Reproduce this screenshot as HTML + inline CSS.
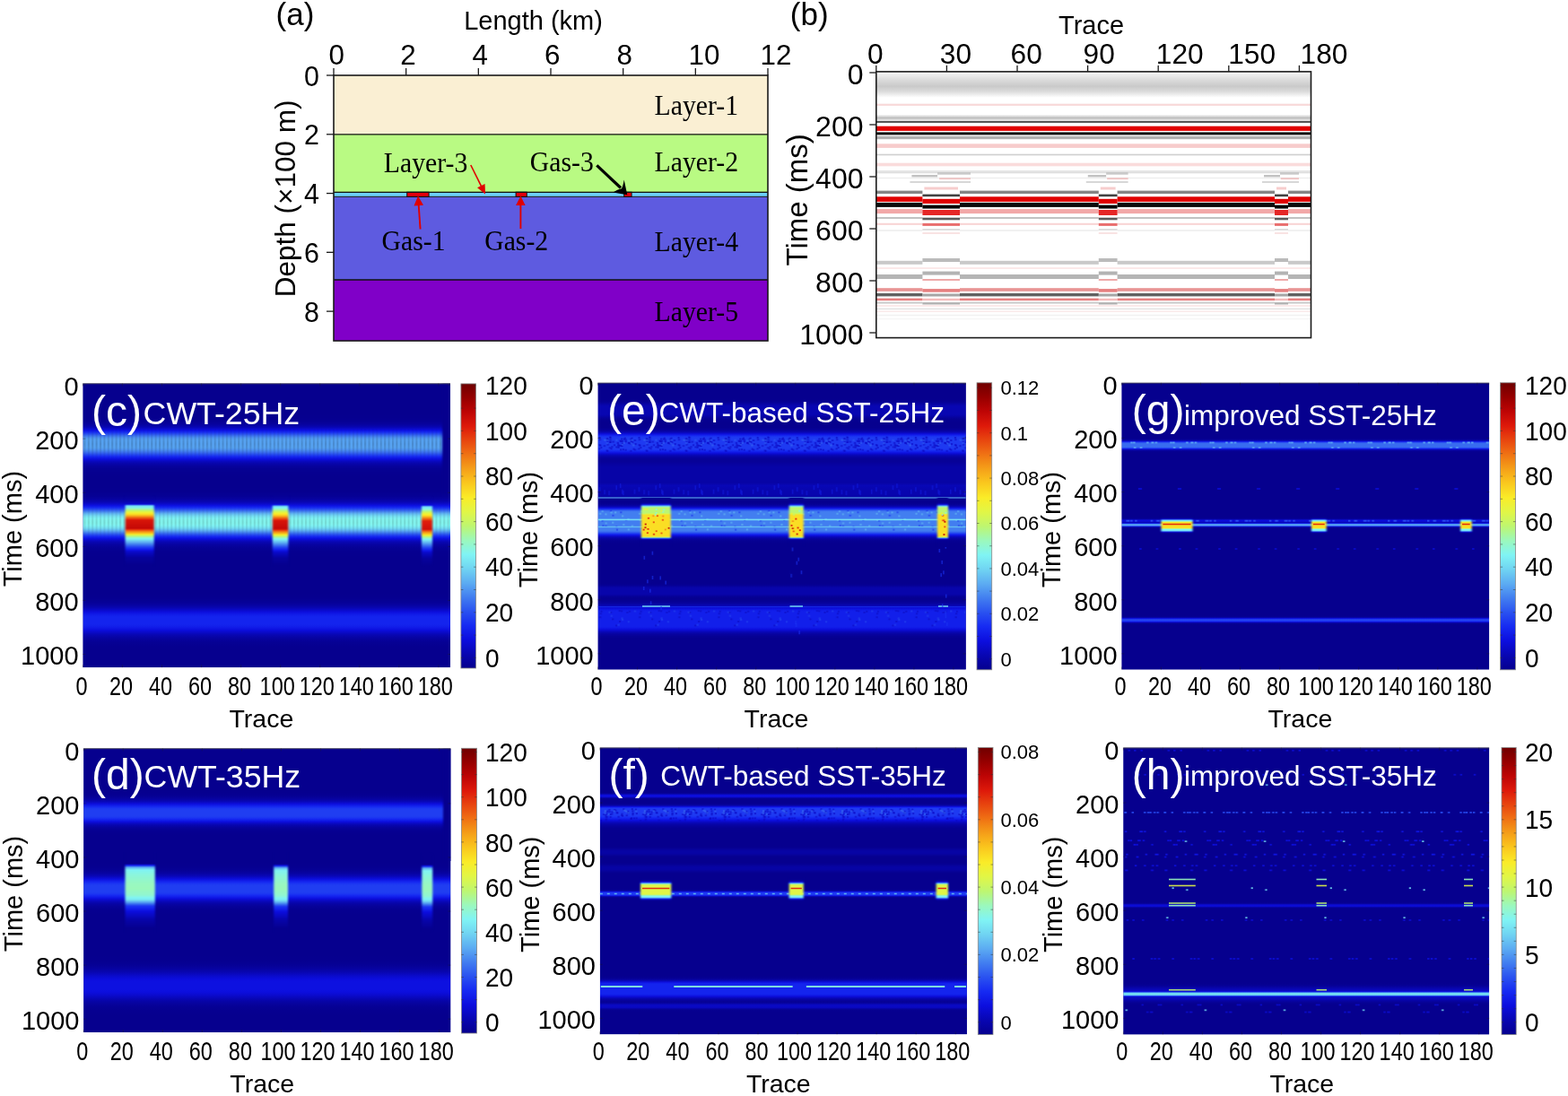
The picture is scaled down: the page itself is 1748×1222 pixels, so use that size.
<!DOCTYPE html>
<html><head><meta charset="utf-8"><title>Figure</title>
<style>html,body{margin:0;padding:0;background:#fff;overflow:hidden}svg{display:block}</style>
</head><body>
<svg width="1748" height="1222" viewBox="0 0 1748 1222">
<defs><clipPath id="clip1"><rect x="976.80" y="79.90" width="484.70" height="296.70"/></clipPath>
<filter id="f2" x="-5%" y="-5%" width="110%" height="110%" color-interpolation-filters="sRGB"><feGaussianBlur stdDeviation="0.6 0.7"/></filter>
<linearGradient id="vg3" x1="0" y1="0" x2="0" y2="1"><stop offset="0.0000" stop-color="#888888" stop-opacity="0.080"/><stop offset="0.2500" stop-color="#888888" stop-opacity="0.280"/><stop offset="0.5500" stop-color="#888888" stop-opacity="0.450"/><stop offset="0.7500" stop-color="#888888" stop-opacity="0.300"/><stop offset="1.0000" stop-color="#888888" stop-opacity="0.000"/></linearGradient>
<linearGradient id="vg4" x1="0" y1="0" x2="0" y2="1"><stop offset="0.0000" stop-color="#909090" stop-opacity="0.000"/><stop offset="0.5000" stop-color="#909090" stop-opacity="0.600"/><stop offset="1.0000" stop-color="#909090" stop-opacity="0.000"/></linearGradient>
<filter id="hb5" x="-50%" y="-10%" width="200%" height="120%" color-interpolation-filters="sRGB"><feGaussianBlur stdDeviation="1.00 0.01"/></filter>
<filter id="hb6" x="-50%" y="-10%" width="200%" height="120%" color-interpolation-filters="sRGB"><feGaussianBlur stdDeviation="0.70 0.01"/></filter>
<filter id="hb7" x="-50%" y="-10%" width="200%" height="120%" color-interpolation-filters="sRGB"><feGaussianBlur stdDeviation="2.00 0.01"/></filter>
<filter id="bl8" x="-50%" y="-50%" width="200%" height="200%" color-interpolation-filters="sRGB"><feGaussianBlur stdDeviation="0.60"/></filter>
<filter id="bl9" x="-50%" y="-50%" width="200%" height="200%" color-interpolation-filters="sRGB"><feGaussianBlur stdDeviation="1.00"/></filter>
<filter id="bl10" x="-50%" y="-50%" width="200%" height="200%" color-interpolation-filters="sRGB"><feGaussianBlur stdDeviation="0.45"/></filter>
<clipPath id="hc11"><rect x="92.40" y="427.50" width="409.60" height="316.70"/></clipPath>
<linearGradient id="vg12" x1="0" y1="0" x2="0" y2="1"><stop offset="0.0000" stop-color="#06008e"/><stop offset="0.1104" stop-color="#06008e"/><stop offset="0.1136" stop-color="#06008f"/><stop offset="0.1199" stop-color="#06008f"/><stop offset="0.1230" stop-color="#060090"/><stop offset="0.1262" stop-color="#060091"/><stop offset="0.1293" stop-color="#060192"/><stop offset="0.1325" stop-color="#060194"/><stop offset="0.1356" stop-color="#060196"/><stop offset="0.1388" stop-color="#070299"/><stop offset="0.1420" stop-color="#07029c"/><stop offset="0.1451" stop-color="#0703a1"/><stop offset="0.1483" stop-color="#0704a7"/><stop offset="0.1514" stop-color="#0805ae"/><stop offset="0.1546" stop-color="#0807b7"/><stop offset="0.1577" stop-color="#0a09c3"/><stop offset="0.1609" stop-color="#0b0cd1"/><stop offset="0.1640" stop-color="#0c0fdf"/><stop offset="0.1672" stop-color="#101ae7"/><stop offset="0.1703" stop-color="#1426ef"/><stop offset="0.1735" stop-color="#1c35f1"/><stop offset="0.1767" stop-color="#2447f1"/><stop offset="0.1798" stop-color="#2e58f0"/><stop offset="0.1830" stop-color="#376bf0"/><stop offset="0.1861" stop-color="#407bf0"/><stop offset="0.1893" stop-color="#498af1"/><stop offset="0.1924" stop-color="#4f96f1"/><stop offset="0.1956" stop-color="#549ef1"/><stop offset="0.1987" stop-color="#56a2f2"/><stop offset="0.2019" stop-color="#57a3f2"/><stop offset="0.2240" stop-color="#57a3f2"/><stop offset="0.2271" stop-color="#55a0f1"/><stop offset="0.2303" stop-color="#529af1"/><stop offset="0.2334" stop-color="#4d92f1"/><stop offset="0.2366" stop-color="#4787f0"/><stop offset="0.2397" stop-color="#407bf0"/><stop offset="0.2429" stop-color="#396df0"/><stop offset="0.2461" stop-color="#315ef0"/><stop offset="0.2492" stop-color="#284ff0"/><stop offset="0.2524" stop-color="#2140f1"/><stop offset="0.2555" stop-color="#1a31f2"/><stop offset="0.2587" stop-color="#1425ee"/><stop offset="0.2618" stop-color="#111be7"/><stop offset="0.2650" stop-color="#0d12e1"/><stop offset="0.2681" stop-color="#0b0dd7"/><stop offset="0.2713" stop-color="#0a0aca"/><stop offset="0.2744" stop-color="#0908bf"/><stop offset="0.2776" stop-color="#0807b6"/><stop offset="0.2808" stop-color="#0805ae"/><stop offset="0.2839" stop-color="#0704a8"/><stop offset="0.2871" stop-color="#0703a3"/><stop offset="0.2902" stop-color="#07039e"/><stop offset="0.2934" stop-color="#07029b"/><stop offset="0.2965" stop-color="#070298"/><stop offset="0.2997" stop-color="#060196"/><stop offset="0.3028" stop-color="#060194"/><stop offset="0.3060" stop-color="#060192"/><stop offset="0.3091" stop-color="#060191"/><stop offset="0.3123" stop-color="#060090"/><stop offset="0.3155" stop-color="#060090"/><stop offset="0.3186" stop-color="#06008f"/><stop offset="0.3249" stop-color="#06008f"/><stop offset="0.3281" stop-color="#06008e"/><stop offset="0.3659" stop-color="#06008e"/><stop offset="0.3691" stop-color="#06008f"/><stop offset="0.3785" stop-color="#06008f"/><stop offset="0.3817" stop-color="#060090"/><stop offset="0.3849" stop-color="#060091"/><stop offset="0.3880" stop-color="#060192"/><stop offset="0.3912" stop-color="#060193"/><stop offset="0.3943" stop-color="#060194"/><stop offset="0.3975" stop-color="#060196"/><stop offset="0.4006" stop-color="#070299"/><stop offset="0.4038" stop-color="#07029c"/><stop offset="0.4069" stop-color="#0703a0"/><stop offset="0.4101" stop-color="#0704a5"/><stop offset="0.4132" stop-color="#0805aa"/><stop offset="0.4164" stop-color="#0806b1"/><stop offset="0.4196" stop-color="#0907ba"/><stop offset="0.4227" stop-color="#0a09c5"/><stop offset="0.4259" stop-color="#0b0cd1"/><stop offset="0.4290" stop-color="#0c0fdf"/><stop offset="0.4322" stop-color="#1019e6"/><stop offset="0.4353" stop-color="#1424ee"/><stop offset="0.4385" stop-color="#1a32f2"/><stop offset="0.4416" stop-color="#2344f1"/><stop offset="0.4448" stop-color="#2d57f0"/><stop offset="0.4479" stop-color="#386cf0"/><stop offset="0.4511" stop-color="#4482f0"/><stop offset="0.4543" stop-color="#5199f1"/><stop offset="0.4574" stop-color="#5daef2"/><stop offset="0.4606" stop-color="#66c0f2"/><stop offset="0.4637" stop-color="#6ed0f2"/><stop offset="0.4669" stop-color="#74ddf3"/><stop offset="0.4700" stop-color="#79e7f3"/><stop offset="0.4732" stop-color="#7deef4"/><stop offset="0.4763" stop-color="#80f4f4"/><stop offset="0.4795" stop-color="#82f4ef"/><stop offset="0.4826" stop-color="#83f4ee"/><stop offset="0.4921" stop-color="#83f4ee"/><stop offset="0.4953" stop-color="#83f4ef"/><stop offset="0.4984" stop-color="#81f4f3"/><stop offset="0.5016" stop-color="#7ef0f4"/><stop offset="0.5047" stop-color="#7be9f3"/><stop offset="0.5079" stop-color="#76e0f3"/><stop offset="0.5110" stop-color="#70d5f2"/><stop offset="0.5142" stop-color="#68c5f2"/><stop offset="0.5174" stop-color="#60b3f2"/><stop offset="0.5205" stop-color="#559ff1"/><stop offset="0.5237" stop-color="#4889f0"/><stop offset="0.5268" stop-color="#3c73f0"/><stop offset="0.5300" stop-color="#305df0"/><stop offset="0.5331" stop-color="#2649f0"/><stop offset="0.5363" stop-color="#1d37f1"/><stop offset="0.5394" stop-color="#1527f0"/><stop offset="0.5426" stop-color="#111ce8"/><stop offset="0.5457" stop-color="#0d12e1"/><stop offset="0.5489" stop-color="#0b0cd5"/><stop offset="0.5521" stop-color="#0a0ac8"/><stop offset="0.5552" stop-color="#0908bd"/><stop offset="0.5584" stop-color="#0806b3"/><stop offset="0.5615" stop-color="#0805ac"/><stop offset="0.5647" stop-color="#0704a6"/><stop offset="0.5678" stop-color="#0703a1"/><stop offset="0.5710" stop-color="#07039d"/><stop offset="0.5741" stop-color="#07029a"/><stop offset="0.5773" stop-color="#070297"/><stop offset="0.5804" stop-color="#060195"/><stop offset="0.5836" stop-color="#060193"/><stop offset="0.5868" stop-color="#060192"/><stop offset="0.5899" stop-color="#060091"/><stop offset="0.5931" stop-color="#060090"/><stop offset="0.5962" stop-color="#060090"/><stop offset="0.5994" stop-color="#06008f"/><stop offset="0.6057" stop-color="#06008f"/><stop offset="0.6088" stop-color="#06008e"/><stop offset="0.7413" stop-color="#06008e"/><stop offset="0.7445" stop-color="#06008f"/><stop offset="0.7508" stop-color="#06008f"/><stop offset="0.7539" stop-color="#060090"/><stop offset="0.7571" stop-color="#060091"/><stop offset="0.7603" stop-color="#060192"/><stop offset="0.7634" stop-color="#060193"/><stop offset="0.7666" stop-color="#060195"/><stop offset="0.7697" stop-color="#060197"/><stop offset="0.7729" stop-color="#070299"/><stop offset="0.7760" stop-color="#07029d"/><stop offset="0.7792" stop-color="#0703a0"/><stop offset="0.7823" stop-color="#0704a5"/><stop offset="0.7855" stop-color="#0805aa"/><stop offset="0.7886" stop-color="#0806b0"/><stop offset="0.7918" stop-color="#0907b8"/><stop offset="0.7950" stop-color="#0909c1"/><stop offset="0.7981" stop-color="#0a0aca"/><stop offset="0.8013" stop-color="#0b0cd3"/><stop offset="0.8044" stop-color="#0c0edc"/><stop offset="0.8076" stop-color="#0e13e1"/><stop offset="0.8107" stop-color="#0f18e5"/><stop offset="0.8139" stop-color="#111ce8"/><stop offset="0.8170" stop-color="#1220eb"/><stop offset="0.8202" stop-color="#1323ed"/><stop offset="0.8233" stop-color="#1424ee"/><stop offset="0.8454" stop-color="#1424ee"/><stop offset="0.8486" stop-color="#1424ed"/><stop offset="0.8517" stop-color="#1322ec"/><stop offset="0.8549" stop-color="#121fea"/><stop offset="0.8580" stop-color="#111ce8"/><stop offset="0.8612" stop-color="#1018e5"/><stop offset="0.8644" stop-color="#0e14e2"/><stop offset="0.8675" stop-color="#0c0fdf"/><stop offset="0.8707" stop-color="#0b0dd7"/><stop offset="0.8738" stop-color="#0b0bcf"/><stop offset="0.8770" stop-color="#0a0ac7"/><stop offset="0.8801" stop-color="#0908bf"/><stop offset="0.8833" stop-color="#0807b7"/><stop offset="0.8864" stop-color="#0806b0"/><stop offset="0.8896" stop-color="#0805ab"/><stop offset="0.8927" stop-color="#0704a6"/><stop offset="0.8959" stop-color="#0703a2"/><stop offset="0.8991" stop-color="#07039e"/><stop offset="0.9022" stop-color="#07029b"/><stop offset="0.9054" stop-color="#070298"/><stop offset="0.9085" stop-color="#060196"/><stop offset="0.9117" stop-color="#060194"/><stop offset="0.9148" stop-color="#060193"/><stop offset="0.9180" stop-color="#060192"/><stop offset="0.9211" stop-color="#060091"/><stop offset="0.9243" stop-color="#060090"/><stop offset="0.9274" stop-color="#06008f"/><stop offset="0.9369" stop-color="#06008f"/><stop offset="0.9401" stop-color="#06008e"/><stop offset="1.0000" stop-color="#06008e"/></linearGradient>
<linearGradient id="vg13" x1="0" y1="0" x2="0" y2="1"><stop offset="0.0000" stop-color="#000" stop-opacity="0.000"/><stop offset="0.5000" stop-color="#000" stop-opacity="0.160"/><stop offset="1.0000" stop-color="#000" stop-opacity="0.000"/></linearGradient>
<pattern id="pt14" patternUnits="userSpaceOnUse" x="93.400" y="478.000" width="4.405" height="34.000"><rect x="0" y="0" width="2.000" height="34.000" fill="url(#vg13)"/></pattern>
<linearGradient id="vg15" x1="0" y1="0" x2="0" y2="1"><stop offset="0.0000" stop-color="#000" stop-opacity="0.000"/><stop offset="0.5000" stop-color="#000" stop-opacity="0.110"/><stop offset="1.0000" stop-color="#000" stop-opacity="0.000"/></linearGradient>
<pattern id="pt16" patternUnits="userSpaceOnUse" x="93.400" y="564.000" width="4.405" height="37.000"><rect x="0" y="0" width="2.000" height="37.000" fill="url(#vg15)"/></pattern>
<linearGradient id="vg17" x1="0" y1="0" x2="0" y2="1"><stop offset="0.0000" stop-color="#06008e"/><stop offset="0.8788" stop-color="#06008e"/><stop offset="0.8864" stop-color="#06008f"/><stop offset="0.9015" stop-color="#06008f"/><stop offset="0.9091" stop-color="#060090"/><stop offset="0.9167" stop-color="#060090"/><stop offset="0.9242" stop-color="#060191"/><stop offset="0.9318" stop-color="#060192"/><stop offset="0.9394" stop-color="#060194"/><stop offset="0.9470" stop-color="#060196"/><stop offset="0.9545" stop-color="#070298"/><stop offset="0.9621" stop-color="#07029b"/><stop offset="0.9697" stop-color="#07039e"/><stop offset="0.9773" stop-color="#0703a3"/><stop offset="0.9848" stop-color="#0704a8"/><stop offset="0.9924" stop-color="#0805ae"/><stop offset="1.0000" stop-color="#0807b6"/></linearGradient>
<linearGradient id="vg18" x1="0" y1="0" x2="0" y2="1"><stop offset="0.0000" stop-color="#060194"/><stop offset="0.0125" stop-color="#060196"/><stop offset="0.0250" stop-color="#070298"/><stop offset="0.0375" stop-color="#07029b"/><stop offset="0.0500" stop-color="#07039e"/><stop offset="0.0625" stop-color="#0703a3"/><stop offset="0.0750" stop-color="#0704a8"/><stop offset="0.0875" stop-color="#0805ae"/><stop offset="0.1000" stop-color="#0807b6"/><stop offset="0.1125" stop-color="#0909c1"/><stop offset="0.1250" stop-color="#0a0bcd"/><stop offset="0.1375" stop-color="#3260f0"/><stop offset="0.1500" stop-color="#73daf2"/><stop offset="0.1625" stop-color="#7cecf4"/><stop offset="0.1750" stop-color="#88f5e3"/><stop offset="0.1875" stop-color="#97f7c4"/><stop offset="0.2000" stop-color="#a9f79e"/><stop offset="0.2125" stop-color="#bef670"/><stop offset="0.2250" stop-color="#d3f657"/><stop offset="0.2375" stop-color="#e6f440"/><stop offset="0.2500" stop-color="#f3ef30"/><stop offset="0.2625" stop-color="#fae225"/><stop offset="0.2750" stop-color="#facf20"/><stop offset="0.2875" stop-color="#f7b01b"/><stop offset="0.3000" stop-color="#f38e17"/><stop offset="0.3125" stop-color="#ee6a13"/><stop offset="0.3250" stop-color="#e94c10"/><stop offset="0.3375" stop-color="#e32e0c"/><stop offset="0.3500" stop-color="#d81509"/><stop offset="0.3625" stop-color="#d51409"/><stop offset="0.3750" stop-color="#d31208"/><stop offset="0.3875" stop-color="#d11108"/><stop offset="0.4000" stop-color="#cf1008"/><stop offset="0.4125" stop-color="#cd0e07"/><stop offset="0.4250" stop-color="#cb0d07"/><stop offset="0.4375" stop-color="#c90c07"/><stop offset="0.4500" stop-color="#c70a06"/><stop offset="0.4625" stop-color="#c40906"/><stop offset="0.4750" stop-color="#df1f0b"/><stop offset="0.4875" stop-color="#e9490f"/><stop offset="0.5000" stop-color="#f07314"/><stop offset="0.5125" stop-color="#f49418"/><stop offset="0.5250" stop-color="#f7b31b"/><stop offset="0.5375" stop-color="#facf20"/><stop offset="0.5500" stop-color="#f0f034"/><stop offset="0.5625" stop-color="#ccf65f"/><stop offset="0.5750" stop-color="#b5f784"/><stop offset="0.5875" stop-color="#9df8b7"/><stop offset="0.6000" stop-color="#8bf6de"/><stop offset="0.6125" stop-color="#7ef0f4"/><stop offset="0.6250" stop-color="#75dff3"/><stop offset="0.6375" stop-color="#6cccf2"/><stop offset="0.6500" stop-color="#63b9f2"/><stop offset="0.6625" stop-color="#59a6f2"/><stop offset="0.6750" stop-color="#4c90f1"/><stop offset="0.6875" stop-color="#417cf0"/><stop offset="0.7000" stop-color="#3668f0"/><stop offset="0.7125" stop-color="#2b54f0"/><stop offset="0.7250" stop-color="#2242f1"/><stop offset="0.7375" stop-color="#1a32f2"/><stop offset="0.7500" stop-color="#1424ee"/><stop offset="0.7625" stop-color="#1019e6"/><stop offset="0.7750" stop-color="#0c0ede"/><stop offset="0.7875" stop-color="#0a0bcc"/><stop offset="0.8000" stop-color="#0a09c5"/><stop offset="0.8125" stop-color="#0908bd"/><stop offset="0.8250" stop-color="#0807b6"/><stop offset="0.8375" stop-color="#0805af"/><stop offset="0.8500" stop-color="#0704a9"/><stop offset="0.8625" stop-color="#0703a3"/><stop offset="0.8750" stop-color="#07029c"/><stop offset="0.8875" stop-color="#07029b"/><stop offset="0.9000" stop-color="#070299"/><stop offset="0.9125" stop-color="#060297"/><stop offset="0.9250" stop-color="#060195"/><stop offset="0.9375" stop-color="#060193"/><stop offset="0.9500" stop-color="#060192"/><stop offset="0.9625" stop-color="#060090"/><stop offset="0.9750" stop-color="#06008e"/><stop offset="1.0000" stop-color="#06008e"/></linearGradient>
<linearGradient id="vg19" x1="0" y1="0" x2="0" y2="1"><stop offset="0.0000" stop-color="#060194"/><stop offset="0.0125" stop-color="#060196"/><stop offset="0.0250" stop-color="#070298"/><stop offset="0.0375" stop-color="#07029b"/><stop offset="0.0500" stop-color="#07039e"/><stop offset="0.0625" stop-color="#0703a3"/><stop offset="0.0750" stop-color="#0704a8"/><stop offset="0.0875" stop-color="#0805ae"/><stop offset="0.1000" stop-color="#0807b6"/><stop offset="0.1125" stop-color="#0909c1"/><stop offset="0.1250" stop-color="#0a0bcd"/><stop offset="0.1375" stop-color="#1527f0"/><stop offset="0.1500" stop-color="#56a1f2"/><stop offset="0.1625" stop-color="#78e3f3"/><stop offset="0.1750" stop-color="#81f4f3"/><stop offset="0.1875" stop-color="#90f6d4"/><stop offset="0.2000" stop-color="#9ff8b3"/><stop offset="0.2125" stop-color="#b4f787"/><stop offset="0.2250" stop-color="#c8f663"/><stop offset="0.2375" stop-color="#def64a"/><stop offset="0.2500" stop-color="#edf138"/><stop offset="0.2625" stop-color="#faec28"/><stop offset="0.2750" stop-color="#fad923"/><stop offset="0.2875" stop-color="#f9c01d"/><stop offset="0.3000" stop-color="#f5a019"/><stop offset="0.3125" stop-color="#f17c15"/><stop offset="0.3250" stop-color="#ec5b11"/><stop offset="0.3375" stop-color="#e63d0e"/><stop offset="0.3500" stop-color="#df1f0b"/><stop offset="0.3625" stop-color="#d71409"/><stop offset="0.3750" stop-color="#d41308"/><stop offset="0.3875" stop-color="#d21208"/><stop offset="0.4000" stop-color="#d01008"/><stop offset="0.4125" stop-color="#ce0f08"/><stop offset="0.4250" stop-color="#cc0e07"/><stop offset="0.4375" stop-color="#ca0c07"/><stop offset="0.4500" stop-color="#c80b06"/><stop offset="0.4625" stop-color="#c50a06"/><stop offset="0.4750" stop-color="#d31208"/><stop offset="0.4875" stop-color="#e4340d"/><stop offset="0.5000" stop-color="#ec5e12"/><stop offset="0.5125" stop-color="#f28316"/><stop offset="0.5250" stop-color="#f6a419"/><stop offset="0.5375" stop-color="#f9c11d"/><stop offset="0.5500" stop-color="#fae526"/><stop offset="0.5625" stop-color="#e1f646"/><stop offset="0.5750" stop-color="#c0f66d"/><stop offset="0.5875" stop-color="#a9f79e"/><stop offset="0.6000" stop-color="#94f7cb"/><stop offset="0.6125" stop-color="#84f5ed"/><stop offset="0.6250" stop-color="#7ae7f3"/><stop offset="0.6375" stop-color="#71d6f2"/><stop offset="0.6500" stop-color="#67c3f2"/><stop offset="0.6625" stop-color="#5eb0f2"/><stop offset="0.6750" stop-color="#529bf1"/><stop offset="0.6875" stop-color="#4786f0"/><stop offset="0.7000" stop-color="#3b72f0"/><stop offset="0.7125" stop-color="#315ef0"/><stop offset="0.7250" stop-color="#264bf0"/><stop offset="0.7375" stop-color="#1e3af1"/><stop offset="0.7500" stop-color="#162af2"/><stop offset="0.7625" stop-color="#121fea"/><stop offset="0.7750" stop-color="#0e14e2"/><stop offset="0.7875" stop-color="#0b0cd5"/><stop offset="0.8000" stop-color="#0a0ac9"/><stop offset="0.8125" stop-color="#0909c1"/><stop offset="0.8250" stop-color="#0907ba"/><stop offset="0.8375" stop-color="#0806b2"/><stop offset="0.8500" stop-color="#0805ac"/><stop offset="0.8625" stop-color="#0704a6"/><stop offset="0.8750" stop-color="#07039f"/><stop offset="0.8875" stop-color="#07029c"/><stop offset="0.9000" stop-color="#07029a"/><stop offset="0.9125" stop-color="#070298"/><stop offset="0.9250" stop-color="#060196"/><stop offset="0.9375" stop-color="#060194"/><stop offset="0.9500" stop-color="#060192"/><stop offset="0.9625" stop-color="#060091"/><stop offset="0.9750" stop-color="#06008f"/><stop offset="0.9875" stop-color="#06008e"/><stop offset="1.0000" stop-color="#06008e"/></linearGradient>
<linearGradient id="vg20" x1="0" y1="0" x2="0" y2="1"><stop offset="0.0000" stop-color="#060194"/><stop offset="0.0125" stop-color="#060196"/><stop offset="0.0250" stop-color="#070298"/><stop offset="0.0375" stop-color="#07029b"/><stop offset="0.0500" stop-color="#07039e"/><stop offset="0.0625" stop-color="#0703a3"/><stop offset="0.0750" stop-color="#0704a8"/><stop offset="0.0875" stop-color="#0805ae"/><stop offset="0.1000" stop-color="#0807b6"/><stop offset="0.1125" stop-color="#0909c1"/><stop offset="0.1250" stop-color="#0a0bcd"/><stop offset="0.1375" stop-color="#0c0dda"/><stop offset="0.1500" stop-color="#305cf0"/><stop offset="0.1625" stop-color="#71d6f2"/><stop offset="0.1750" stop-color="#7ae7f3"/><stop offset="0.1875" stop-color="#84f5ec"/><stop offset="0.2000" stop-color="#92f7ce"/><stop offset="0.2125" stop-color="#a2f8ac"/><stop offset="0.2250" stop-color="#b7f67f"/><stop offset="0.2375" stop-color="#ccf660"/><stop offset="0.2500" stop-color="#e0f647"/><stop offset="0.2625" stop-color="#edf137"/><stop offset="0.2750" stop-color="#faeb28"/><stop offset="0.2875" stop-color="#fad823"/><stop offset="0.3000" stop-color="#f8bb1c"/><stop offset="0.3125" stop-color="#f49b18"/><stop offset="0.3250" stop-color="#f17815"/><stop offset="0.3375" stop-color="#ec5a11"/><stop offset="0.3500" stop-color="#e63d0e"/><stop offset="0.3625" stop-color="#df1f0b"/><stop offset="0.3750" stop-color="#df1d0a"/><stop offset="0.3875" stop-color="#de1a0a"/><stop offset="0.4000" stop-color="#dc180a"/><stop offset="0.4125" stop-color="#da1709"/><stop offset="0.4250" stop-color="#d81509"/><stop offset="0.4375" stop-color="#d61409"/><stop offset="0.4500" stop-color="#d41308"/><stop offset="0.4625" stop-color="#d21108"/><stop offset="0.4750" stop-color="#d01008"/><stop offset="0.4875" stop-color="#e32e0c"/><stop offset="0.5000" stop-color="#eb5711"/><stop offset="0.5125" stop-color="#f28016"/><stop offset="0.5250" stop-color="#f5a119"/><stop offset="0.5375" stop-color="#f9bd1d"/><stop offset="0.5500" stop-color="#fad823"/><stop offset="0.5625" stop-color="#eaf23b"/><stop offset="0.5750" stop-color="#c5f668"/><stop offset="0.5875" stop-color="#aef793"/><stop offset="0.6000" stop-color="#98f8c2"/><stop offset="0.6125" stop-color="#86f5e7"/><stop offset="0.6250" stop-color="#7bebf3"/><stop offset="0.6375" stop-color="#73daf2"/><stop offset="0.6500" stop-color="#69c7f2"/><stop offset="0.6625" stop-color="#60b4f2"/><stop offset="0.6750" stop-color="#55a0f1"/><stop offset="0.6875" stop-color="#4a8bf1"/><stop offset="0.7000" stop-color="#3e77f0"/><stop offset="0.7125" stop-color="#3464f0"/><stop offset="0.7250" stop-color="#2951f0"/><stop offset="0.7375" stop-color="#213ff1"/><stop offset="0.7500" stop-color="#192ff2"/><stop offset="0.7625" stop-color="#1323ed"/><stop offset="0.7750" stop-color="#1018e5"/><stop offset="0.7875" stop-color="#0c0edc"/><stop offset="0.8000" stop-color="#0a0bcb"/><stop offset="0.8125" stop-color="#0a09c4"/><stop offset="0.8250" stop-color="#0908bc"/><stop offset="0.8375" stop-color="#0807b5"/><stop offset="0.8500" stop-color="#0805ae"/><stop offset="0.8625" stop-color="#0704a8"/><stop offset="0.8750" stop-color="#0703a2"/><stop offset="0.8875" stop-color="#07029c"/><stop offset="0.9000" stop-color="#07029a"/><stop offset="0.9125" stop-color="#070299"/><stop offset="0.9250" stop-color="#060197"/><stop offset="0.9375" stop-color="#060195"/><stop offset="0.9500" stop-color="#060193"/><stop offset="0.9625" stop-color="#060192"/><stop offset="0.9750" stop-color="#060090"/><stop offset="0.9875" stop-color="#06008e"/><stop offset="1.0000" stop-color="#06008e"/></linearGradient>
<linearGradient id="vg21" x1="0" y1="0" x2="0" y2="1"><stop offset="0.0000" stop-color="#700000"/><stop offset="0.0250" stop-color="#830000"/><stop offset="0.0500" stop-color="#960000"/><stop offset="0.0750" stop-color="#aa0202"/><stop offset="0.1000" stop-color="#be0505"/><stop offset="0.1250" stop-color="#ce0f08"/><stop offset="0.1500" stop-color="#de190a"/><stop offset="0.1750" stop-color="#e3300d"/><stop offset="0.2000" stop-color="#e8460f"/><stop offset="0.2250" stop-color="#ec5c12"/><stop offset="0.2500" stop-color="#f07314"/><stop offset="0.2750" stop-color="#f28a16"/><stop offset="0.3000" stop-color="#f5a019"/><stop offset="0.3250" stop-color="#f8b41b"/><stop offset="0.3500" stop-color="#fac81e"/><stop offset="0.3750" stop-color="#fada23"/><stop offset="0.4000" stop-color="#faec28"/><stop offset="0.4250" stop-color="#edf137"/><stop offset="0.4500" stop-color="#e1f646"/><stop offset="0.4750" stop-color="#d0f65b"/><stop offset="0.5000" stop-color="#bef670"/><stop offset="0.5250" stop-color="#acf796"/><stop offset="0.5500" stop-color="#9bf8bc"/><stop offset="0.5750" stop-color="#8ef6d8"/><stop offset="0.6000" stop-color="#80f4f4"/><stop offset="0.6250" stop-color="#78e4f3"/><stop offset="0.6500" stop-color="#70d4f2"/><stop offset="0.6750" stop-color="#66c0f2"/><stop offset="0.7000" stop-color="#5cacf2"/><stop offset="0.7250" stop-color="#4f95f1"/><stop offset="0.7500" stop-color="#427ef0"/><stop offset="0.7750" stop-color="#3668f0"/><stop offset="0.8000" stop-color="#2a52f0"/><stop offset="0.8250" stop-color="#203ef1"/><stop offset="0.8500" stop-color="#162af2"/><stop offset="0.8750" stop-color="#111ce8"/><stop offset="0.9000" stop-color="#0c0ede"/><stop offset="0.9250" stop-color="#0a0ac8"/><stop offset="0.9500" stop-color="#0806b2"/><stop offset="0.9750" stop-color="#0703a0"/><stop offset="1.0000" stop-color="#06008e"/></linearGradient>
<clipPath id="hc22"><rect x="93.20" y="834.40" width="409.20" height="316.60"/></clipPath>
<linearGradient id="vg23" x1="0" y1="0" x2="0" y2="1"><stop offset="0.0000" stop-color="#06008e"/><stop offset="0.1483" stop-color="#06008e"/><stop offset="0.1514" stop-color="#06008f"/><stop offset="0.1546" stop-color="#06008f"/><stop offset="0.1577" stop-color="#060090"/><stop offset="0.1609" stop-color="#060091"/><stop offset="0.1640" stop-color="#060192"/><stop offset="0.1672" stop-color="#060194"/><stop offset="0.1703" stop-color="#060197"/><stop offset="0.1735" stop-color="#07029b"/><stop offset="0.1767" stop-color="#07039f"/><stop offset="0.1798" stop-color="#0704a5"/><stop offset="0.1830" stop-color="#0805ac"/><stop offset="0.1861" stop-color="#0807b5"/><stop offset="0.1893" stop-color="#0909c1"/><stop offset="0.1924" stop-color="#0b0bcf"/><stop offset="0.1956" stop-color="#0c0edd"/><stop offset="0.1987" stop-color="#0f16e4"/><stop offset="0.2019" stop-color="#121fea"/><stop offset="0.2050" stop-color="#1527f0"/><stop offset="0.2082" stop-color="#1930f2"/><stop offset="0.2114" stop-color="#1d38f1"/><stop offset="0.2145" stop-color="#1f3cf1"/><stop offset="0.2177" stop-color="#203ef1"/><stop offset="0.2366" stop-color="#203ef1"/><stop offset="0.2397" stop-color="#1f3cf1"/><stop offset="0.2429" stop-color="#1d38f1"/><stop offset="0.2461" stop-color="#1930f2"/><stop offset="0.2492" stop-color="#1527f0"/><stop offset="0.2524" stop-color="#121fea"/><stop offset="0.2555" stop-color="#0f16e4"/><stop offset="0.2587" stop-color="#0c0edc"/><stop offset="0.2618" stop-color="#0b0bce"/><stop offset="0.2650" stop-color="#0909c1"/><stop offset="0.2681" stop-color="#0807b5"/><stop offset="0.2713" stop-color="#0805ac"/><stop offset="0.2744" stop-color="#0704a5"/><stop offset="0.2776" stop-color="#07039f"/><stop offset="0.2808" stop-color="#07029a"/><stop offset="0.2839" stop-color="#060197"/><stop offset="0.2871" stop-color="#060194"/><stop offset="0.2902" stop-color="#060192"/><stop offset="0.2934" stop-color="#060091"/><stop offset="0.2965" stop-color="#060090"/><stop offset="0.2997" stop-color="#06008f"/><stop offset="0.3028" stop-color="#06008f"/><stop offset="0.3060" stop-color="#06008e"/><stop offset="0.4038" stop-color="#06008e"/><stop offset="0.4069" stop-color="#06008f"/><stop offset="0.4132" stop-color="#06008f"/><stop offset="0.4164" stop-color="#060090"/><stop offset="0.4196" stop-color="#060091"/><stop offset="0.4227" stop-color="#060192"/><stop offset="0.4259" stop-color="#060193"/><stop offset="0.4290" stop-color="#060196"/><stop offset="0.4322" stop-color="#070298"/><stop offset="0.4353" stop-color="#07029c"/><stop offset="0.4385" stop-color="#0703a0"/><stop offset="0.4416" stop-color="#0704a5"/><stop offset="0.4448" stop-color="#0805ac"/><stop offset="0.4479" stop-color="#0806b3"/><stop offset="0.4511" stop-color="#0908bd"/><stop offset="0.4543" stop-color="#0a0ac8"/><stop offset="0.4574" stop-color="#0b0cd4"/><stop offset="0.4606" stop-color="#0c0fdf"/><stop offset="0.4637" stop-color="#0f17e4"/><stop offset="0.4669" stop-color="#121fea"/><stop offset="0.4700" stop-color="#1526ef"/><stop offset="0.4732" stop-color="#182df2"/><stop offset="0.4763" stop-color="#1b35f1"/><stop offset="0.4795" stop-color="#1e3af1"/><stop offset="0.4826" stop-color="#203df1"/><stop offset="0.4858" stop-color="#203ef1"/><stop offset="0.5047" stop-color="#203ef1"/><stop offset="0.5079" stop-color="#1f3cf1"/><stop offset="0.5110" stop-color="#1d38f1"/><stop offset="0.5142" stop-color="#1a32f2"/><stop offset="0.5174" stop-color="#162af2"/><stop offset="0.5205" stop-color="#1423ed"/><stop offset="0.5237" stop-color="#111ce8"/><stop offset="0.5268" stop-color="#0e14e2"/><stop offset="0.5300" stop-color="#0c0ddb"/><stop offset="0.5331" stop-color="#0b0bcf"/><stop offset="0.5363" stop-color="#0a09c3"/><stop offset="0.5394" stop-color="#0907b9"/><stop offset="0.5426" stop-color="#0806b0"/><stop offset="0.5457" stop-color="#0704a9"/><stop offset="0.5489" stop-color="#0704a3"/><stop offset="0.5521" stop-color="#07039e"/><stop offset="0.5552" stop-color="#07029a"/><stop offset="0.5584" stop-color="#070297"/><stop offset="0.5615" stop-color="#060195"/><stop offset="0.5647" stop-color="#060193"/><stop offset="0.5678" stop-color="#060191"/><stop offset="0.5710" stop-color="#060090"/><stop offset="0.5741" stop-color="#060090"/><stop offset="0.5773" stop-color="#06008f"/><stop offset="0.5804" stop-color="#06008f"/><stop offset="0.5836" stop-color="#06008e"/><stop offset="0.7319" stop-color="#06008e"/><stop offset="0.7350" stop-color="#06008f"/><stop offset="0.7413" stop-color="#06008f"/><stop offset="0.7445" stop-color="#060090"/><stop offset="0.7476" stop-color="#060090"/><stop offset="0.7508" stop-color="#060091"/><stop offset="0.7539" stop-color="#060192"/><stop offset="0.7571" stop-color="#060193"/><stop offset="0.7603" stop-color="#060195"/><stop offset="0.7634" stop-color="#060196"/><stop offset="0.7666" stop-color="#070298"/><stop offset="0.7697" stop-color="#07029b"/><stop offset="0.7729" stop-color="#07039e"/><stop offset="0.7760" stop-color="#0703a1"/><stop offset="0.7792" stop-color="#0704a5"/><stop offset="0.7823" stop-color="#0805a9"/><stop offset="0.7855" stop-color="#0805ad"/><stop offset="0.7886" stop-color="#0806b2"/><stop offset="0.7918" stop-color="#0907b8"/><stop offset="0.7950" stop-color="#0908bf"/><stop offset="0.7981" stop-color="#0a09c5"/><stop offset="0.8013" stop-color="#0a0bcb"/><stop offset="0.8044" stop-color="#0b0cd0"/><stop offset="0.8076" stop-color="#0b0cd6"/><stop offset="0.8107" stop-color="#0c0dda"/><stop offset="0.8139" stop-color="#0c0ede"/><stop offset="0.8170" stop-color="#0d0fdf"/><stop offset="0.8202" stop-color="#0d10e0"/><stop offset="0.8233" stop-color="#0d11e0"/><stop offset="0.8486" stop-color="#0d11e0"/><stop offset="0.8517" stop-color="#0d10e0"/><stop offset="0.8549" stop-color="#0c0fdf"/><stop offset="0.8580" stop-color="#0c0edd"/><stop offset="0.8612" stop-color="#0c0dd9"/><stop offset="0.8644" stop-color="#0b0cd5"/><stop offset="0.8675" stop-color="#0b0bd0"/><stop offset="0.8707" stop-color="#0a0aca"/><stop offset="0.8738" stop-color="#0a09c4"/><stop offset="0.8770" stop-color="#0908be"/><stop offset="0.8801" stop-color="#0907b8"/><stop offset="0.8833" stop-color="#0806b2"/><stop offset="0.8864" stop-color="#0805ad"/><stop offset="0.8896" stop-color="#0704a8"/><stop offset="0.8927" stop-color="#0704a4"/><stop offset="0.8959" stop-color="#0703a1"/><stop offset="0.8991" stop-color="#07039d"/><stop offset="0.9022" stop-color="#07029b"/><stop offset="0.9054" stop-color="#070298"/><stop offset="0.9085" stop-color="#060196"/><stop offset="0.9117" stop-color="#060194"/><stop offset="0.9148" stop-color="#060193"/><stop offset="0.9180" stop-color="#060192"/><stop offset="0.9211" stop-color="#060091"/><stop offset="0.9243" stop-color="#060090"/><stop offset="0.9274" stop-color="#060090"/><stop offset="0.9306" stop-color="#06008f"/><stop offset="0.9369" stop-color="#06008f"/><stop offset="0.9401" stop-color="#06008e"/><stop offset="1.0000" stop-color="#06008e"/></linearGradient>
<linearGradient id="vg24" x1="0" y1="0" x2="0" y2="1"><stop offset="0.0000" stop-color="#06008e"/><stop offset="1.0000" stop-color="#06008e"/></linearGradient>
<linearGradient id="vg25" x1="0" y1="0" x2="0" y2="1"><stop offset="0.0000" stop-color="#06008e"/><stop offset="0.1444" stop-color="#06008e"/><stop offset="0.1556" stop-color="#0a0ac8"/><stop offset="0.1667" stop-color="#162af2"/><stop offset="0.1778" stop-color="#3668f0"/><stop offset="0.1889" stop-color="#5cacf2"/><stop offset="0.2000" stop-color="#69c7f2"/><stop offset="0.2111" stop-color="#75dff3"/><stop offset="0.2222" stop-color="#80f4f4"/><stop offset="0.2333" stop-color="#82f4f0"/><stop offset="0.2444" stop-color="#84f5eb"/><stop offset="0.2556" stop-color="#86f5e7"/><stop offset="0.2667" stop-color="#89f5e2"/><stop offset="0.2778" stop-color="#8bf6de"/><stop offset="0.2889" stop-color="#8cf6db"/><stop offset="0.3000" stop-color="#8ef6d8"/><stop offset="0.3111" stop-color="#8ff6d5"/><stop offset="0.3222" stop-color="#90f6d2"/><stop offset="0.3333" stop-color="#92f7d0"/><stop offset="0.3444" stop-color="#93f7cd"/><stop offset="0.3556" stop-color="#94f7ca"/><stop offset="0.3667" stop-color="#96f7c7"/><stop offset="0.3778" stop-color="#97f7c4"/><stop offset="0.3889" stop-color="#98f8c2"/><stop offset="0.4000" stop-color="#99f8c1"/><stop offset="0.4111" stop-color="#99f8c0"/><stop offset="0.4222" stop-color="#9af8bf"/><stop offset="0.4333" stop-color="#9af8be"/><stop offset="0.4444" stop-color="#9bf8bd"/><stop offset="0.4556" stop-color="#9bf8bc"/><stop offset="0.4667" stop-color="#99f8bf"/><stop offset="0.4778" stop-color="#98f8c2"/><stop offset="0.4889" stop-color="#96f7c6"/><stop offset="0.5000" stop-color="#95f7c9"/><stop offset="0.5111" stop-color="#93f7cc"/><stop offset="0.5222" stop-color="#92f7cf"/><stop offset="0.5333" stop-color="#90f6d2"/><stop offset="0.5444" stop-color="#8bf6de"/><stop offset="0.5556" stop-color="#85f5e9"/><stop offset="0.5667" stop-color="#80f4f4"/><stop offset="0.5778" stop-color="#7deef4"/><stop offset="0.5889" stop-color="#7ae7f3"/><stop offset="0.6000" stop-color="#70d4f2"/><stop offset="0.6111" stop-color="#64bcf2"/><stop offset="0.6222" stop-color="#57a3f2"/><stop offset="0.6333" stop-color="#4787f0"/><stop offset="0.6444" stop-color="#386cf0"/><stop offset="0.6556" stop-color="#2a52f0"/><stop offset="0.6667" stop-color="#1e3af1"/><stop offset="0.6778" stop-color="#1931f2"/><stop offset="0.6889" stop-color="#1528f1"/><stop offset="0.7000" stop-color="#1322ec"/><stop offset="0.7111" stop-color="#111be7"/><stop offset="0.7222" stop-color="#0e15e3"/><stop offset="0.7333" stop-color="#0c0ede"/><stop offset="0.7444" stop-color="#0b0dd8"/><stop offset="0.7556" stop-color="#0b0cd2"/><stop offset="0.7667" stop-color="#0a0bcc"/><stop offset="0.7778" stop-color="#0a0ac7"/><stop offset="0.7889" stop-color="#0909c1"/><stop offset="0.8000" stop-color="#0908bb"/><stop offset="0.8111" stop-color="#0807b5"/><stop offset="0.8222" stop-color="#0806b0"/><stop offset="0.8333" stop-color="#0805ab"/><stop offset="0.8444" stop-color="#0704a8"/><stop offset="0.8556" stop-color="#0704a5"/><stop offset="0.8667" stop-color="#0703a2"/><stop offset="0.8778" stop-color="#07039f"/><stop offset="0.8889" stop-color="#07029c"/><stop offset="0.9000" stop-color="#07029a"/><stop offset="0.9111" stop-color="#060197"/><stop offset="0.9222" stop-color="#060194"/><stop offset="0.9333" stop-color="#060091"/><stop offset="0.9444" stop-color="#06008e"/><stop offset="1.0000" stop-color="#06008e"/></linearGradient>
<linearGradient id="vg26" x1="0" y1="0" x2="0" y2="1"><stop offset="0.0000" stop-color="#06008e"/><stop offset="0.1444" stop-color="#06008e"/><stop offset="0.1556" stop-color="#0804a9"/><stop offset="0.1667" stop-color="#0e15e3"/><stop offset="0.1778" stop-color="#2548f0"/><stop offset="0.1889" stop-color="#488af0"/><stop offset="0.2000" stop-color="#63b9f2"/><stop offset="0.2111" stop-color="#70d4f2"/><stop offset="0.2222" stop-color="#7be9f3"/><stop offset="0.2333" stop-color="#81f4f2"/><stop offset="0.2444" stop-color="#83f4ed"/><stop offset="0.2556" stop-color="#85f5e9"/><stop offset="0.2667" stop-color="#88f5e4"/><stop offset="0.2778" stop-color="#8af5e0"/><stop offset="0.2889" stop-color="#8bf6dc"/><stop offset="0.3000" stop-color="#8df6d9"/><stop offset="0.3111" stop-color="#8ef6d7"/><stop offset="0.3222" stop-color="#90f6d4"/><stop offset="0.3333" stop-color="#91f6d1"/><stop offset="0.3444" stop-color="#92f7ce"/><stop offset="0.3556" stop-color="#94f7cb"/><stop offset="0.3667" stop-color="#95f7c9"/><stop offset="0.3778" stop-color="#96f7c6"/><stop offset="0.3889" stop-color="#98f8c3"/><stop offset="0.4000" stop-color="#99f8c1"/><stop offset="0.4111" stop-color="#99f8c0"/><stop offset="0.4222" stop-color="#99f8bf"/><stop offset="0.4333" stop-color="#9af8be"/><stop offset="0.4444" stop-color="#9af8bd"/><stop offset="0.4556" stop-color="#9bf8bc"/><stop offset="0.4667" stop-color="#9af8be"/><stop offset="0.4778" stop-color="#99f8c1"/><stop offset="0.4889" stop-color="#97f7c4"/><stop offset="0.5000" stop-color="#96f7c7"/><stop offset="0.5111" stop-color="#94f7ca"/><stop offset="0.5222" stop-color="#93f7ce"/><stop offset="0.5333" stop-color="#91f7d1"/><stop offset="0.5444" stop-color="#8ef6d8"/><stop offset="0.5556" stop-color="#88f5e3"/><stop offset="0.5667" stop-color="#83f4ee"/><stop offset="0.5778" stop-color="#7ef1f4"/><stop offset="0.5889" stop-color="#7beaf3"/><stop offset="0.6000" stop-color="#75def3"/><stop offset="0.6111" stop-color="#6ac8f2"/><stop offset="0.6222" stop-color="#5eb0f2"/><stop offset="0.6333" stop-color="#4f95f1"/><stop offset="0.6444" stop-color="#407af0"/><stop offset="0.6556" stop-color="#315ff0"/><stop offset="0.6667" stop-color="#2446f1"/><stop offset="0.6778" stop-color="#1c35f1"/><stop offset="0.6889" stop-color="#172cf2"/><stop offset="0.7000" stop-color="#1425ee"/><stop offset="0.7111" stop-color="#121eea"/><stop offset="0.7222" stop-color="#0f18e5"/><stop offset="0.7333" stop-color="#0d11e0"/><stop offset="0.7444" stop-color="#0c0ddb"/><stop offset="0.7556" stop-color="#0b0cd5"/><stop offset="0.7667" stop-color="#0b0bcf"/><stop offset="0.7778" stop-color="#0a0ac9"/><stop offset="0.7889" stop-color="#0a09c4"/><stop offset="0.8000" stop-color="#0908be"/><stop offset="0.8111" stop-color="#0907b8"/><stop offset="0.8222" stop-color="#0806b2"/><stop offset="0.8333" stop-color="#0805ad"/><stop offset="0.8444" stop-color="#0805a9"/><stop offset="0.8556" stop-color="#0704a6"/><stop offset="0.8667" stop-color="#0704a4"/><stop offset="0.8778" stop-color="#0703a1"/><stop offset="0.8889" stop-color="#07039e"/><stop offset="0.9000" stop-color="#07029b"/><stop offset="0.9111" stop-color="#070298"/><stop offset="0.9222" stop-color="#060195"/><stop offset="0.9333" stop-color="#060192"/><stop offset="0.9444" stop-color="#06008f"/><stop offset="0.9556" stop-color="#06008e"/><stop offset="1.0000" stop-color="#06008e"/></linearGradient>
<linearGradient id="vg27" x1="0" y1="0" x2="0" y2="1"><stop offset="0.0000" stop-color="#06008e"/><stop offset="0.1444" stop-color="#06008e"/><stop offset="0.1556" stop-color="#06008f"/><stop offset="0.1667" stop-color="#0a0ac8"/><stop offset="0.1778" stop-color="#162af2"/><stop offset="0.1889" stop-color="#3668f0"/><stop offset="0.2000" stop-color="#5cacf2"/><stop offset="0.2111" stop-color="#69c7f2"/><stop offset="0.2222" stop-color="#75dff3"/><stop offset="0.2333" stop-color="#80f4f4"/><stop offset="0.2444" stop-color="#82f4f0"/><stop offset="0.2556" stop-color="#84f5eb"/><stop offset="0.2667" stop-color="#86f5e7"/><stop offset="0.2778" stop-color="#89f5e2"/><stop offset="0.2889" stop-color="#8bf6de"/><stop offset="0.3000" stop-color="#8cf6db"/><stop offset="0.3111" stop-color="#8ef6d8"/><stop offset="0.3222" stop-color="#8ff6d5"/><stop offset="0.3333" stop-color="#90f6d2"/><stop offset="0.3444" stop-color="#92f7d0"/><stop offset="0.3556" stop-color="#93f7cd"/><stop offset="0.3667" stop-color="#94f7ca"/><stop offset="0.3778" stop-color="#96f7c7"/><stop offset="0.3889" stop-color="#97f7c4"/><stop offset="0.4000" stop-color="#98f8c2"/><stop offset="0.4111" stop-color="#99f8c1"/><stop offset="0.4222" stop-color="#99f8c0"/><stop offset="0.4333" stop-color="#9af8bf"/><stop offset="0.4444" stop-color="#9af8be"/><stop offset="0.4556" stop-color="#9bf8bd"/><stop offset="0.4667" stop-color="#9bf8bc"/><stop offset="0.4778" stop-color="#99f8bf"/><stop offset="0.4889" stop-color="#98f8c2"/><stop offset="0.5000" stop-color="#96f7c6"/><stop offset="0.5111" stop-color="#95f7c9"/><stop offset="0.5222" stop-color="#93f7cc"/><stop offset="0.5333" stop-color="#92f7cf"/><stop offset="0.5444" stop-color="#90f6d2"/><stop offset="0.5556" stop-color="#8bf6de"/><stop offset="0.5667" stop-color="#85f5e9"/><stop offset="0.5778" stop-color="#80f4f4"/><stop offset="0.5889" stop-color="#7deef4"/><stop offset="0.6000" stop-color="#7ae7f3"/><stop offset="0.6111" stop-color="#70d4f2"/><stop offset="0.6222" stop-color="#64bcf2"/><stop offset="0.6333" stop-color="#57a3f2"/><stop offset="0.6444" stop-color="#4787f0"/><stop offset="0.6556" stop-color="#386cf0"/><stop offset="0.6667" stop-color="#2a52f0"/><stop offset="0.6778" stop-color="#1e3af1"/><stop offset="0.6889" stop-color="#1931f2"/><stop offset="0.7000" stop-color="#1528f1"/><stop offset="0.7111" stop-color="#1322ec"/><stop offset="0.7222" stop-color="#111be7"/><stop offset="0.7333" stop-color="#0e15e3"/><stop offset="0.7444" stop-color="#0c0ede"/><stop offset="0.7556" stop-color="#0b0dd8"/><stop offset="0.7667" stop-color="#0b0cd2"/><stop offset="0.7778" stop-color="#0a0bcc"/><stop offset="0.7889" stop-color="#0a0ac7"/><stop offset="0.8000" stop-color="#0909c1"/><stop offset="0.8111" stop-color="#0908bb"/><stop offset="0.8222" stop-color="#0807b5"/><stop offset="0.8333" stop-color="#0806b0"/><stop offset="0.8444" stop-color="#0805ab"/><stop offset="0.8556" stop-color="#0704a8"/><stop offset="0.8667" stop-color="#0704a5"/><stop offset="0.8778" stop-color="#0703a2"/><stop offset="0.8889" stop-color="#07039f"/><stop offset="0.9000" stop-color="#07029c"/><stop offset="0.9111" stop-color="#07029a"/><stop offset="0.9222" stop-color="#060197"/><stop offset="0.9333" stop-color="#060194"/><stop offset="0.9444" stop-color="#060091"/><stop offset="0.9556" stop-color="#06008e"/><stop offset="1.0000" stop-color="#06008e"/></linearGradient>
<linearGradient id="vg28" x1="0" y1="0" x2="0" y2="1"><stop offset="0.0000" stop-color="#700000"/><stop offset="0.0250" stop-color="#830000"/><stop offset="0.0500" stop-color="#960000"/><stop offset="0.0750" stop-color="#aa0202"/><stop offset="0.1000" stop-color="#be0505"/><stop offset="0.1250" stop-color="#ce0f08"/><stop offset="0.1500" stop-color="#de190a"/><stop offset="0.1750" stop-color="#e3300d"/><stop offset="0.2000" stop-color="#e8460f"/><stop offset="0.2250" stop-color="#ec5c12"/><stop offset="0.2500" stop-color="#f07314"/><stop offset="0.2750" stop-color="#f28a16"/><stop offset="0.3000" stop-color="#f5a019"/><stop offset="0.3250" stop-color="#f8b41b"/><stop offset="0.3500" stop-color="#fac81e"/><stop offset="0.3750" stop-color="#fada23"/><stop offset="0.4000" stop-color="#faec28"/><stop offset="0.4250" stop-color="#edf137"/><stop offset="0.4500" stop-color="#e1f646"/><stop offset="0.4750" stop-color="#d0f65b"/><stop offset="0.5000" stop-color="#bef670"/><stop offset="0.5250" stop-color="#acf796"/><stop offset="0.5500" stop-color="#9bf8bc"/><stop offset="0.5750" stop-color="#8ef6d8"/><stop offset="0.6000" stop-color="#80f4f4"/><stop offset="0.6250" stop-color="#78e4f3"/><stop offset="0.6500" stop-color="#70d4f2"/><stop offset="0.6750" stop-color="#66c0f2"/><stop offset="0.7000" stop-color="#5cacf2"/><stop offset="0.7250" stop-color="#4f95f1"/><stop offset="0.7500" stop-color="#427ef0"/><stop offset="0.7750" stop-color="#3668f0"/><stop offset="0.8000" stop-color="#2a52f0"/><stop offset="0.8250" stop-color="#203ef1"/><stop offset="0.8500" stop-color="#162af2"/><stop offset="0.8750" stop-color="#111ce8"/><stop offset="0.9000" stop-color="#0c0ede"/><stop offset="0.9250" stop-color="#0a0ac8"/><stop offset="0.9500" stop-color="#0806b2"/><stop offset="0.9750" stop-color="#0703a0"/><stop offset="1.0000" stop-color="#06008e"/></linearGradient>
<clipPath id="hc29"><rect x="666.50" y="426.80" width="410.30" height="319.80"/></clipPath>
<linearGradient id="vg30" x1="0" y1="0" x2="0" y2="1"><stop offset="0.0000" stop-color="#06008e"/><stop offset="0.0531" stop-color="#06008e"/><stop offset="0.0562" stop-color="#06008f"/><stop offset="0.0594" stop-color="#06008f"/><stop offset="0.0625" stop-color="#060091"/><stop offset="0.0656" stop-color="#060194"/><stop offset="0.0687" stop-color="#070298"/><stop offset="0.0719" stop-color="#07039f"/><stop offset="0.0750" stop-color="#0704a6"/><stop offset="0.0781" stop-color="#0805ad"/><stop offset="0.0812" stop-color="#0806b1"/><stop offset="0.0844" stop-color="#0806b2"/><stop offset="0.1094" stop-color="#0806b2"/><stop offset="0.1125" stop-color="#0805af"/><stop offset="0.1156" stop-color="#0704a9"/><stop offset="0.1187" stop-color="#0703a2"/><stop offset="0.1219" stop-color="#07029b"/><stop offset="0.1250" stop-color="#060196"/><stop offset="0.1281" stop-color="#060192"/><stop offset="0.1312" stop-color="#060090"/><stop offset="0.1344" stop-color="#06008f"/><stop offset="0.1375" stop-color="#06008e"/><stop offset="0.1469" stop-color="#06008e"/><stop offset="0.1500" stop-color="#06008f"/><stop offset="0.1531" stop-color="#06008f"/><stop offset="0.1562" stop-color="#060090"/><stop offset="0.1594" stop-color="#060193"/><stop offset="0.1625" stop-color="#060197"/><stop offset="0.1656" stop-color="#07029d"/><stop offset="0.1688" stop-color="#0704a6"/><stop offset="0.1719" stop-color="#0806b2"/><stop offset="0.1750" stop-color="#0a0ac6"/><stop offset="0.1781" stop-color="#0c0edb"/><stop offset="0.1812" stop-color="#111be7"/><stop offset="0.1844" stop-color="#1527f0"/><stop offset="0.1875" stop-color="#1b34f2"/><stop offset="0.1906" stop-color="#1e3af1"/><stop offset="0.2281" stop-color="#1e3af1"/><stop offset="0.2313" stop-color="#1d38f1"/><stop offset="0.2344" stop-color="#1a32f2"/><stop offset="0.2375" stop-color="#1528f0"/><stop offset="0.2406" stop-color="#121ee9"/><stop offset="0.2438" stop-color="#0e13e1"/><stop offset="0.2469" stop-color="#0b0cd3"/><stop offset="0.2500" stop-color="#0909c2"/><stop offset="0.2531" stop-color="#0806b4"/><stop offset="0.2563" stop-color="#0805a9"/><stop offset="0.2594" stop-color="#0703a2"/><stop offset="0.2625" stop-color="#07029c"/><stop offset="0.2656" stop-color="#070299"/><stop offset="0.2688" stop-color="#070297"/><stop offset="0.2719" stop-color="#070297"/><stop offset="0.2750" stop-color="#070298"/><stop offset="0.2781" stop-color="#07029a"/><stop offset="0.2812" stop-color="#07029d"/><stop offset="0.2844" stop-color="#0703a0"/><stop offset="0.2875" stop-color="#0703a2"/><stop offset="0.2906" stop-color="#0704a5"/><stop offset="0.2938" stop-color="#0704a6"/><stop offset="0.2969" stop-color="#0704a7"/><stop offset="0.3375" stop-color="#0704a7"/><stop offset="0.3406" stop-color="#0704a6"/><stop offset="0.3438" stop-color="#0704a5"/><stop offset="0.3469" stop-color="#0704a4"/><stop offset="0.3500" stop-color="#0704a7"/><stop offset="0.3531" stop-color="#0805ac"/><stop offset="0.3562" stop-color="#0806b3"/><stop offset="0.3594" stop-color="#0807b7"/><stop offset="0.3625" stop-color="#0806b4"/><stop offset="0.3656" stop-color="#0806b2"/><stop offset="0.3688" stop-color="#0806b1"/><stop offset="0.3719" stop-color="#0806b0"/><stop offset="0.3750" stop-color="#0806af"/><stop offset="0.3781" stop-color="#0805af"/><stop offset="0.3844" stop-color="#0805af"/><stop offset="0.3875" stop-color="#0805ae"/><stop offset="0.3906" stop-color="#0805ae"/><stop offset="0.3938" stop-color="#0805ac"/><stop offset="0.3969" stop-color="#0704a4"/><stop offset="0.4000" stop-color="#07029b"/><stop offset="0.4031" stop-color="#060194"/><stop offset="0.4062" stop-color="#060090"/><stop offset="0.4094" stop-color="#06008f"/><stop offset="0.4125" stop-color="#06008e"/><stop offset="0.4156" stop-color="#06008f"/><stop offset="0.4188" stop-color="#060090"/><stop offset="0.4219" stop-color="#060193"/><stop offset="0.4250" stop-color="#070299"/><stop offset="0.4281" stop-color="#0703a3"/><stop offset="0.4312" stop-color="#0806b2"/><stop offset="0.4344" stop-color="#0a0bcc"/><stop offset="0.4375" stop-color="#1018e5"/><stop offset="0.4406" stop-color="#1a33f2"/><stop offset="0.4438" stop-color="#2b54f0"/><stop offset="0.4469" stop-color="#3a70f0"/><stop offset="0.4500" stop-color="#427df0"/><stop offset="0.4531" stop-color="#427ef0"/><stop offset="0.5125" stop-color="#427ef0"/><stop offset="0.5156" stop-color="#417bf0"/><stop offset="0.5187" stop-color="#3a6ff0"/><stop offset="0.5219" stop-color="#2e5af0"/><stop offset="0.5250" stop-color="#2141f1"/><stop offset="0.5281" stop-color="#1527f0"/><stop offset="0.5312" stop-color="#0e15e3"/><stop offset="0.5344" stop-color="#0b0bcf"/><stop offset="0.5375" stop-color="#0907b9"/><stop offset="0.5406" stop-color="#0805aa"/><stop offset="0.5438" stop-color="#0703a0"/><stop offset="0.5469" stop-color="#070299"/><stop offset="0.5500" stop-color="#060194"/><stop offset="0.5531" stop-color="#060191"/><stop offset="0.5563" stop-color="#060090"/><stop offset="0.5594" stop-color="#06008f"/><stop offset="0.5625" stop-color="#06008e"/><stop offset="0.6969" stop-color="#06008e"/><stop offset="0.7000" stop-color="#06008f"/><stop offset="0.7031" stop-color="#060091"/><stop offset="0.7063" stop-color="#060195"/><stop offset="0.7094" stop-color="#07029d"/><stop offset="0.7125" stop-color="#0704a5"/><stop offset="0.7156" stop-color="#0805aa"/><stop offset="0.7187" stop-color="#0805ab"/><stop offset="0.7344" stop-color="#0805ab"/><stop offset="0.7375" stop-color="#0805a9"/><stop offset="0.7406" stop-color="#0703a3"/><stop offset="0.7437" stop-color="#07029a"/><stop offset="0.7469" stop-color="#060194"/><stop offset="0.7500" stop-color="#060091"/><stop offset="0.7531" stop-color="#060090"/><stop offset="0.7563" stop-color="#060091"/><stop offset="0.7594" stop-color="#060192"/><stop offset="0.7625" stop-color="#060195"/><stop offset="0.7656" stop-color="#070299"/><stop offset="0.7687" stop-color="#07039e"/><stop offset="0.7719" stop-color="#0704a5"/><stop offset="0.7750" stop-color="#0805ae"/><stop offset="0.7781" stop-color="#0907b9"/><stop offset="0.7812" stop-color="#0a0ac6"/><stop offset="0.7844" stop-color="#0b0cd4"/><stop offset="0.7875" stop-color="#0d10e0"/><stop offset="0.7906" stop-color="#0f17e5"/><stop offset="0.7937" stop-color="#111ce8"/><stop offset="0.7969" stop-color="#121fea"/><stop offset="0.8469" stop-color="#121fea"/><stop offset="0.8500" stop-color="#121eea"/><stop offset="0.8531" stop-color="#111be7"/><stop offset="0.8563" stop-color="#0f15e3"/><stop offset="0.8594" stop-color="#0c0ede"/><stop offset="0.8625" stop-color="#0b0cd1"/><stop offset="0.8656" stop-color="#0a09c3"/><stop offset="0.8688" stop-color="#0807b6"/><stop offset="0.8719" stop-color="#0805ab"/><stop offset="0.8750" stop-color="#0704a3"/><stop offset="0.8781" stop-color="#07029d"/><stop offset="0.8812" stop-color="#070298"/><stop offset="0.8844" stop-color="#060194"/><stop offset="0.8875" stop-color="#060192"/><stop offset="0.8906" stop-color="#060090"/><stop offset="0.8938" stop-color="#06008f"/><stop offset="0.8969" stop-color="#06008f"/><stop offset="0.9000" stop-color="#06008e"/><stop offset="1.0000" stop-color="#06008e"/></linearGradient>
<pattern id="sp31" patternUnits="userSpaceOnUse" x="666.500" y="486.000" width="44.050" height="18.000"><rect x="10.0" y="8.7" width="2.2" height="2.0" fill="#0a09c4" fill-opacity="0.60"/><rect x="25.3" y="10.0" width="2.2" height="2.0" fill="#0a09c4" fill-opacity="0.60"/><rect x="0.6" y="13.4" width="2.2" height="2.0" fill="#0a09c4" fill-opacity="0.60"/><rect x="9.8" y="15.9" width="2.2" height="2.0" fill="#0a09c4" fill-opacity="0.60"/><rect x="35.0" y="7.6" width="2.2" height="2.0" fill="#0a09c4" fill-opacity="0.60"/><rect x="6.3" y="10.2" width="2.2" height="2.0" fill="#0a09c4" fill-opacity="0.60"/><rect x="21.9" y="11.9" width="2.2" height="2.0" fill="#0a09c4" fill-opacity="0.60"/><rect x="2.7" y="12.1" width="2.2" height="2.0" fill="#0a09c4" fill-opacity="0.60"/><rect x="12.6" y="0.5" width="2.2" height="2.0" fill="#0a09c4" fill-opacity="0.60"/><rect x="19.8" y="11.5" width="2.2" height="2.0" fill="#0a09c4" fill-opacity="0.60"/><rect x="29.9" y="14.7" width="2.2" height="2.0" fill="#0a09c4" fill-opacity="0.60"/><rect x="33.5" y="7.1" width="2.2" height="2.0" fill="#0a09c4" fill-opacity="0.60"/><rect x="36.8" y="1.6" width="2.2" height="2.0" fill="#0a09c4" fill-opacity="0.60"/><rect x="9.1" y="15.4" width="2.2" height="2.0" fill="#0a09c4" fill-opacity="0.60"/><rect x="26.2" y="4.8" width="2.2" height="2.0" fill="#0a09c4" fill-opacity="0.60"/><rect x="16.1" y="5.6" width="2.2" height="2.0" fill="#0a09c4" fill-opacity="0.60"/><rect x="24.5" y="14.5" width="2.2" height="2.0" fill="#0a09c4" fill-opacity="0.60"/><rect x="38.9" y="13.7" width="2.2" height="2.0" fill="#0a09c4" fill-opacity="0.60"/><rect x="28.1" y="2.6" width="2.2" height="2.0" fill="#0a09c4" fill-opacity="0.60"/><rect x="40.4" y="14.5" width="2.2" height="2.0" fill="#0a09c4" fill-opacity="0.60"/><rect x="29.9" y="3.4" width="2.2" height="2.0" fill="#0a09c4" fill-opacity="0.60"/><rect x="24.0" y="4.6" width="2.2" height="2.0" fill="#0a09c4" fill-opacity="0.60"/><rect x="35.7" y="15.8" width="2.2" height="2.0" fill="#0a09c4" fill-opacity="0.60"/><rect x="33.5" y="6.6" width="2.2" height="2.0" fill="#0a09c4" fill-opacity="0.60"/><rect x="12.3" y="12.3" width="2.2" height="2.0" fill="#0a09c4" fill-opacity="0.60"/><rect x="1.8" y="9.8" width="2.2" height="2.0" fill="#0a09c4" fill-opacity="0.60"/><rect x="30.1" y="5.3" width="2.2" height="2.0" fill="#0a09c4" fill-opacity="0.60"/><rect x="41.0" y="8.1" width="2.2" height="2.0" fill="#0a09c4" fill-opacity="0.60"/><rect x="13.0" y="1.2" width="2.2" height="2.0" fill="#0a09c4" fill-opacity="0.60"/><rect x="1.3" y="3.2" width="2.2" height="2.0" fill="#0a09c4" fill-opacity="0.60"/><rect x="25.5" y="2.5" width="2.2" height="2.0" fill="#0a09c4" fill-opacity="0.60"/><rect x="36.3" y="5.0" width="2.2" height="2.0" fill="#0a09c4" fill-opacity="0.60"/><rect x="37.5" y="6.0" width="2.2" height="2.0" fill="#0a09c4" fill-opacity="0.60"/><rect x="21.8" y="10.3" width="2.2" height="2.0" fill="#0a09c4" fill-opacity="0.60"/><rect x="23.4" y="9.9" width="2.2" height="2.0" fill="#0a09c4" fill-opacity="0.60"/><rect x="21.2" y="6.9" width="2.2" height="2.0" fill="#0a09c4" fill-opacity="0.60"/><rect x="9.9" y="4.8" width="2.2" height="2.0" fill="#0a09c4" fill-opacity="0.60"/><rect x="21.8" y="8.8" width="2.2" height="2.0" fill="#0a09c4" fill-opacity="0.60"/><rect x="17.4" y="9.3" width="2.2" height="2.0" fill="#0a09c4" fill-opacity="0.60"/><rect x="25.8" y="10.1" width="2.2" height="2.0" fill="#0a09c4" fill-opacity="0.60"/><rect x="26.3" y="7.5" width="2.2" height="2.0" fill="#0a09c4" fill-opacity="0.60"/><rect x="14.8" y="11.3" width="2.2" height="2.0" fill="#0a09c4" fill-opacity="0.60"/><rect x="0.9" y="1.0" width="2.2" height="2.0" fill="#0a09c4" fill-opacity="0.60"/><rect x="40.3" y="4.0" width="2.2" height="2.0" fill="#0a09c4" fill-opacity="0.60"/><rect x="24.8" y="5.1" width="2.2" height="2.0" fill="#0a09c4" fill-opacity="0.60"/><rect x="13.1" y="5.9" width="2.2" height="2.0" fill="#0a09c4" fill-opacity="0.60"/><rect x="12.6" y="6.0" width="2.2" height="2.0" fill="#0a09c4" fill-opacity="0.60"/><rect x="1.1" y="9.1" width="2.2" height="2.0" fill="#0a09c4" fill-opacity="0.60"/><rect x="13.0" y="3.6" width="2.2" height="2.0" fill="#0a09c4" fill-opacity="0.60"/><rect x="10.0" y="3.0" width="2.2" height="2.0" fill="#0a09c4" fill-opacity="0.60"/><rect x="29.2" y="1.6" width="2.2" height="2.0" fill="#0a09c4" fill-opacity="0.60"/><rect x="14.0" y="13.3" width="2.2" height="2.0" fill="#0a09c4" fill-opacity="0.60"/><rect x="35.8" y="2.7" width="2.2" height="2.0" fill="#0a09c4" fill-opacity="0.60"/><rect x="27.2" y="14.2" width="2.2" height="2.0" fill="#0a09c4" fill-opacity="0.60"/><rect x="9.4" y="1.9" width="2.2" height="2.0" fill="#0a09c4" fill-opacity="0.60"/></pattern>
<pattern id="sp32" patternUnits="userSpaceOnUse" x="666.500" y="489.000" width="44.050" height="10.000"><rect x="9.9" y="0.8" width="2.2" height="2.0" fill="#2f5bf0" fill-opacity="0.60"/><rect x="6.5" y="0.5" width="2.2" height="2.0" fill="#2f5bf0" fill-opacity="0.60"/><rect x="38.4" y="6.4" width="2.2" height="2.0" fill="#2f5bf0" fill-opacity="0.60"/><rect x="9.3" y="4.3" width="2.2" height="2.0" fill="#2f5bf0" fill-opacity="0.60"/><rect x="7.2" y="0.8" width="2.2" height="2.0" fill="#2f5bf0" fill-opacity="0.60"/><rect x="38.8" y="6.6" width="2.2" height="2.0" fill="#2f5bf0" fill-opacity="0.60"/><rect x="33.5" y="1.5" width="2.2" height="2.0" fill="#2f5bf0" fill-opacity="0.60"/><rect x="26.2" y="5.9" width="2.2" height="2.0" fill="#2f5bf0" fill-opacity="0.60"/><rect x="36.8" y="0.7" width="2.2" height="2.0" fill="#2f5bf0" fill-opacity="0.60"/><rect x="28.1" y="4.0" width="2.2" height="2.0" fill="#2f5bf0" fill-opacity="0.60"/><rect x="19.8" y="0.7" width="2.2" height="2.0" fill="#2f5bf0" fill-opacity="0.60"/><rect x="36.2" y="4.4" width="2.2" height="2.0" fill="#2f5bf0" fill-opacity="0.60"/></pattern>
<pattern id="sp33" patternUnits="userSpaceOnUse" x="666.500" y="539.000" width="44.050" height="14.000"><rect x="26.5" y="6.7" width="1.5" height="5.0" fill="#121fea" fill-opacity="0.50"/><rect x="40.1" y="6.7" width="1.5" height="5.0" fill="#121fea" fill-opacity="0.50"/><rect x="1.2" y="4.2" width="1.5" height="5.0" fill="#121fea" fill-opacity="0.50"/><rect x="27.6" y="8.1" width="1.5" height="5.0" fill="#121fea" fill-opacity="0.50"/><rect x="20.0" y="2.2" width="1.5" height="5.0" fill="#121fea" fill-opacity="0.50"/><rect x="24.4" y="0.1" width="1.5" height="5.0" fill="#121fea" fill-opacity="0.50"/><rect x="11.9" y="8.2" width="1.5" height="5.0" fill="#121fea" fill-opacity="0.50"/><rect x="6.8" y="7.2" width="1.5" height="5.0" fill="#121fea" fill-opacity="0.50"/></pattern>
<pattern id="sp34" patternUnits="userSpaceOnUse" x="666.500" y="568.000" width="44.050" height="28.000"><rect x="33.2" y="21.4" width="2.2" height="2.0" fill="#68c4f2" fill-opacity="0.50"/><rect x="1.5" y="3.8" width="2.2" height="2.0" fill="#68c4f2" fill-opacity="0.50"/><rect x="13.4" y="0.6" width="2.2" height="2.0" fill="#1424ee" fill-opacity="0.50"/><rect x="30.5" y="10.8" width="2.2" height="2.0" fill="#1424ee" fill-opacity="0.50"/><rect x="8.1" y="14.4" width="2.2" height="2.0" fill="#68c4f2" fill-opacity="0.50"/><rect x="27.7" y="15.9" width="2.2" height="2.0" fill="#68c4f2" fill-opacity="0.50"/><rect x="14.0" y="2.4" width="2.2" height="2.0" fill="#68c4f2" fill-opacity="0.50"/><rect x="18.6" y="2.4" width="2.2" height="2.0" fill="#68c4f2" fill-opacity="0.50"/><rect x="4.1" y="1.2" width="2.2" height="2.0" fill="#68c4f2" fill-opacity="0.50"/><rect x="20.4" y="21.7" width="2.2" height="2.0" fill="#1424ee" fill-opacity="0.50"/><rect x="26.5" y="6.4" width="2.2" height="2.0" fill="#68c4f2" fill-opacity="0.50"/><rect x="24.7" y="2.3" width="2.2" height="2.0" fill="#1424ee" fill-opacity="0.50"/><rect x="4.9" y="17.2" width="2.2" height="2.0" fill="#1424ee" fill-opacity="0.50"/><rect x="15.9" y="5.8" width="2.2" height="2.0" fill="#1424ee" fill-opacity="0.50"/><rect x="7.9" y="4.4" width="2.2" height="2.0" fill="#68c4f2" fill-opacity="0.50"/><rect x="15.7" y="13.7" width="2.2" height="2.0" fill="#68c4f2" fill-opacity="0.50"/><rect x="2.3" y="11.0" width="2.2" height="2.0" fill="#68c4f2" fill-opacity="0.50"/><rect x="4.0" y="11.5" width="2.2" height="2.0" fill="#1424ee" fill-opacity="0.50"/><rect x="37.3" y="17.4" width="2.2" height="2.0" fill="#68c4f2" fill-opacity="0.50"/><rect x="32.8" y="9.9" width="2.2" height="2.0" fill="#68c4f2" fill-opacity="0.50"/><rect x="19.7" y="18.3" width="2.2" height="2.0" fill="#1424ee" fill-opacity="0.50"/><rect x="8.0" y="17.7" width="2.2" height="2.0" fill="#1424ee" fill-opacity="0.50"/></pattern>
<pattern id="sp35" patternUnits="userSpaceOnUse" x="666.500" y="679.000" width="44.050" height="21.000"><rect x="13.6" y="2.9" width="2.2" height="2.0" fill="#0908bb" fill-opacity="0.50"/><rect x="34.4" y="1.8" width="2.2" height="2.0" fill="#0908bb" fill-opacity="0.50"/><rect x="1.6" y="8.2" width="2.2" height="2.0" fill="#0908bb" fill-opacity="0.50"/><rect x="23.1" y="1.1" width="2.2" height="2.0" fill="#0908bb" fill-opacity="0.50"/><rect x="26.4" y="11.1" width="2.2" height="2.0" fill="#264af0" fill-opacity="0.50"/><rect x="2.1" y="4.2" width="2.2" height="2.0" fill="#0908bb" fill-opacity="0.50"/><rect x="12.1" y="2.7" width="2.2" height="2.0" fill="#264af0" fill-opacity="0.50"/><rect x="23.4" y="13.0" width="2.2" height="2.0" fill="#0908bb" fill-opacity="0.50"/><rect x="15.6" y="10.4" width="2.2" height="2.0" fill="#0908bb" fill-opacity="0.50"/><rect x="25.9" y="9.4" width="2.2" height="2.0" fill="#264af0" fill-opacity="0.50"/><rect x="19.5" y="17.5" width="2.2" height="2.0" fill="#0908bb" fill-opacity="0.50"/><rect x="33.2" y="13.3" width="2.2" height="2.0" fill="#264af0" fill-opacity="0.50"/><rect x="22.0" y="16.6" width="2.2" height="2.0" fill="#264af0" fill-opacity="0.50"/><rect x="25.5" y="1.4" width="2.2" height="2.0" fill="#0908bb" fill-opacity="0.50"/><rect x="31.7" y="2.9" width="2.2" height="2.0" fill="#0908bb" fill-opacity="0.50"/><rect x="40.3" y="1.5" width="2.2" height="2.0" fill="#264af0" fill-opacity="0.50"/><rect x="14.2" y="6.7" width="2.2" height="2.0" fill="#264af0" fill-opacity="0.50"/><rect x="2.9" y="1.8" width="2.2" height="2.0" fill="#0908bb" fill-opacity="0.50"/></pattern>
<pattern id="sp36" patternUnits="userSpaceOnUse" x="716.000" y="600.000" width="31.000" height="116.000"><rect x="8.8" y="70.3" width="1.6" height="4.0" fill="#1a32f2" fill-opacity="0.60"/><rect x="8.0" y="56.7" width="1.6" height="4.0" fill="#1a32f2" fill-opacity="0.60"/><rect x="20.3" y="75.7" width="1.6" height="4.0" fill="#1a32f2" fill-opacity="0.60"/><rect x="25.4" y="47.6" width="1.6" height="4.0" fill="#1a32f2" fill-opacity="0.60"/><rect x="10.7" y="42.0" width="1.6" height="4.0" fill="#1a32f2" fill-opacity="0.60"/><rect x="0.9" y="54.0" width="1.6" height="4.0" fill="#1a32f2" fill-opacity="0.60"/><rect x="5.1" y="46.3" width="1.6" height="4.0" fill="#1a32f2" fill-opacity="0.60"/><rect x="10.6" y="14.7" width="1.6" height="4.0" fill="#1a32f2" fill-opacity="0.60"/><rect x="19.4" y="42.4" width="1.6" height="4.0" fill="#1a32f2" fill-opacity="0.60"/><rect x="1.5" y="19.8" width="1.6" height="4.0" fill="#1a32f2" fill-opacity="0.60"/></pattern>
<pattern id="sp37" patternUnits="userSpaceOnUse" x="880.500" y="600.000" width="14.500" height="116.000"><rect x="8.4" y="3.3" width="1.6" height="4.0" fill="#1a32f2" fill-opacity="0.60"/><rect x="7.1" y="25.7" width="1.6" height="4.0" fill="#1a32f2" fill-opacity="0.60"/><rect x="6.4" y="95.0" width="1.6" height="4.0" fill="#1a32f2" fill-opacity="0.60"/><rect x="9.9" y="103.2" width="1.6" height="4.0" fill="#1a32f2" fill-opacity="0.60"/><rect x="5.8" y="92.0" width="1.6" height="4.0" fill="#1a32f2" fill-opacity="0.60"/><rect x="8.3" y="2.4" width="1.6" height="4.0" fill="#1a32f2" fill-opacity="0.60"/><rect x="0.8" y="39.8" width="1.6" height="4.0" fill="#1a32f2" fill-opacity="0.60"/><rect x="2.3" y="10.5" width="1.6" height="4.0" fill="#1a32f2" fill-opacity="0.60"/><rect x="9.0" y="21.7" width="1.6" height="4.0" fill="#1a32f2" fill-opacity="0.60"/><rect x="12.2" y="36.2" width="1.6" height="4.0" fill="#1a32f2" fill-opacity="0.60"/></pattern>
<pattern id="sp38" patternUnits="userSpaceOnUse" x="1046.000" y="600.000" width="11.000" height="116.000"><rect x="7.9" y="62.6" width="1.6" height="4.0" fill="#1a32f2" fill-opacity="0.60"/><rect x="3.4" y="24.9" width="1.6" height="4.0" fill="#1a32f2" fill-opacity="0.60"/><rect x="2.4" y="39.1" width="1.6" height="4.0" fill="#1a32f2" fill-opacity="0.60"/><rect x="3.9" y="73.2" width="1.6" height="4.0" fill="#1a32f2" fill-opacity="0.60"/><rect x="5.1" y="36.3" width="1.6" height="4.0" fill="#1a32f2" fill-opacity="0.60"/><rect x="0.5" y="12.0" width="1.6" height="4.0" fill="#1a32f2" fill-opacity="0.60"/><rect x="7.5" y="7.6" width="1.6" height="4.0" fill="#1a32f2" fill-opacity="0.60"/><rect x="7.4" y="80.9" width="1.6" height="4.0" fill="#1a32f2" fill-opacity="0.60"/><rect x="9.0" y="93.8" width="1.6" height="4.0" fill="#1a32f2" fill-opacity="0.60"/><rect x="7.5" y="85.1" width="1.6" height="4.0" fill="#1a32f2" fill-opacity="0.60"/></pattern>
<linearGradient id="vg39" x1="0" y1="0" x2="0" y2="1"><stop offset="0.0000" stop-color="#070299"/><stop offset="0.0182" stop-color="#060192"/><stop offset="0.0364" stop-color="#06008f"/><stop offset="0.0727" stop-color="#06008f"/><stop offset="0.0909" stop-color="#060192"/><stop offset="0.1091" stop-color="#07039e"/><stop offset="0.1273" stop-color="#0909c2"/><stop offset="0.1455" stop-color="#1b34f2"/><stop offset="0.1636" stop-color="#5daff2"/><stop offset="0.1818" stop-color="#96f7c6"/><stop offset="0.2000" stop-color="#bef670"/><stop offset="0.3091" stop-color="#bef670"/><stop offset="0.3273" stop-color="#dff648"/><stop offset="0.3455" stop-color="#fade24"/><stop offset="0.7818" stop-color="#fade24"/><stop offset="0.8000" stop-color="#bcf675"/><stop offset="0.8182" stop-color="#4582f0"/><stop offset="0.8364" stop-color="#0b0bd0"/><stop offset="0.8545" stop-color="#07029b"/><stop offset="0.8727" stop-color="#060193"/><stop offset="0.8909" stop-color="#060091"/><stop offset="0.9091" stop-color="#06008f"/><stop offset="0.9273" stop-color="#06008f"/><stop offset="0.9455" stop-color="#06008e"/><stop offset="1.0000" stop-color="#06008e"/></linearGradient>
<pattern id="sp40" patternUnits="userSpaceOnUse" x="715.800" y="573.000" width="31.000" height="24.000"><rect x="22.4" y="1.6" width="2.0" height="1.8" fill="#f38e17" fill-opacity="0.90"/><rect x="12.2" y="21.8" width="2.0" height="1.8" fill="#de190a" fill-opacity="0.90"/><rect x="16.1" y="1.3" width="2.0" height="1.8" fill="#e8460f" fill-opacity="0.90"/><rect x="28.8" y="14.9" width="2.0" height="1.8" fill="#be0505" fill-opacity="0.90"/><rect x="6.2" y="3.9" width="2.0" height="1.8" fill="#de190a" fill-opacity="0.90"/><rect x="0.8" y="16.7" width="2.0" height="1.8" fill="#de190a" fill-opacity="0.90"/><rect x="5.6" y="16.0" width="2.0" height="1.8" fill="#de190a" fill-opacity="0.90"/><rect x="20.6" y="20.6" width="2.0" height="1.8" fill="#e8460f" fill-opacity="0.90"/><rect x="14.9" y="18.3" width="2.0" height="1.8" fill="#e8460f" fill-opacity="0.90"/><rect x="5.1" y="20.3" width="2.0" height="1.8" fill="#de190a" fill-opacity="0.90"/><rect x="2.9" y="10.6" width="2.0" height="1.8" fill="#be0505" fill-opacity="0.90"/><rect x="12.0" y="8.4" width="2.0" height="1.8" fill="#e8460f" fill-opacity="0.90"/><rect x="11.5" y="1.4" width="2.0" height="1.8" fill="#f38e17" fill-opacity="0.90"/><rect x="25.0" y="16.6" width="2.0" height="1.8" fill="#f38e17" fill-opacity="0.90"/><rect x="22.1" y="5.8" width="2.0" height="1.8" fill="#e8460f" fill-opacity="0.90"/><rect x="2.6" y="14.3" width="2.0" height="1.8" fill="#be0505" fill-opacity="0.90"/></pattern>
<pattern id="sp41" patternUnits="userSpaceOnUse" x="715.800" y="566.000" width="31.000" height="9.000"><rect x="14.9" y="1.1" width="2.0" height="1.8" fill="#8bf6de" fill-opacity="0.80"/><rect x="1.6" y="1.0" width="2.0" height="1.8" fill="#f0f034" fill-opacity="0.80"/><rect x="20.8" y="3.1" width="2.0" height="1.8" fill="#f0f034" fill-opacity="0.80"/><rect x="13.8" y="7.0" width="2.0" height="1.8" fill="#8bf6de" fill-opacity="0.80"/><rect x="1.2" y="5.5" width="2.0" height="1.8" fill="#bef670" fill-opacity="0.80"/><rect x="24.4" y="3.6" width="2.0" height="1.8" fill="#bef670" fill-opacity="0.80"/><rect x="7.9" y="0.3" width="2.0" height="1.8" fill="#bef670" fill-opacity="0.80"/><rect x="22.4" y="3.8" width="2.0" height="1.8" fill="#8bf6de" fill-opacity="0.80"/><rect x="23.4" y="1.3" width="2.0" height="1.8" fill="#8bf6de" fill-opacity="0.80"/><rect x="4.4" y="1.1" width="2.0" height="1.8" fill="#f0f034" fill-opacity="0.80"/><rect x="14.7" y="4.9" width="2.0" height="1.8" fill="#8bf6de" fill-opacity="0.80"/></pattern>
<linearGradient id="vg42" x1="0" y1="0" x2="0" y2="1"><stop offset="0.0000" stop-color="#070299"/><stop offset="0.0182" stop-color="#060192"/><stop offset="0.0364" stop-color="#06008f"/><stop offset="0.0727" stop-color="#06008f"/><stop offset="0.0909" stop-color="#060192"/><stop offset="0.1091" stop-color="#07039e"/><stop offset="0.1273" stop-color="#0909c2"/><stop offset="0.1455" stop-color="#1b34f2"/><stop offset="0.1636" stop-color="#5daff2"/><stop offset="0.1818" stop-color="#96f7c6"/><stop offset="0.2000" stop-color="#bef670"/><stop offset="0.3091" stop-color="#bef670"/><stop offset="0.3273" stop-color="#dff648"/><stop offset="0.3455" stop-color="#fade24"/><stop offset="0.7818" stop-color="#fade24"/><stop offset="0.8000" stop-color="#bcf675"/><stop offset="0.8182" stop-color="#4582f0"/><stop offset="0.8364" stop-color="#0b0bd0"/><stop offset="0.8545" stop-color="#07029b"/><stop offset="0.8727" stop-color="#060193"/><stop offset="0.8909" stop-color="#060091"/><stop offset="0.9091" stop-color="#06008f"/><stop offset="0.9273" stop-color="#06008f"/><stop offset="0.9455" stop-color="#06008e"/><stop offset="1.0000" stop-color="#06008e"/></linearGradient>
<pattern id="sp43" patternUnits="userSpaceOnUse" x="880.600" y="573.000" width="14.200" height="24.000"><rect x="0.9" y="12.0" width="2.0" height="1.8" fill="#de190a" fill-opacity="0.90"/><rect x="2.3" y="7.2" width="2.0" height="1.8" fill="#f38e17" fill-opacity="0.90"/><rect x="10.2" y="17.3" width="2.0" height="1.8" fill="#de190a" fill-opacity="0.90"/><rect x="2.2" y="15.3" width="2.0" height="1.8" fill="#be0505" fill-opacity="0.90"/><rect x="7.1" y="21.6" width="2.0" height="1.8" fill="#be0505" fill-opacity="0.90"/><rect x="5.8" y="4.7" width="2.0" height="1.8" fill="#de190a" fill-opacity="0.90"/><rect x="8.0" y="14.6" width="2.0" height="1.8" fill="#de190a" fill-opacity="0.90"/><rect x="3.2" y="18.5" width="2.0" height="1.8" fill="#e8460f" fill-opacity="0.90"/></pattern>
<pattern id="sp44" patternUnits="userSpaceOnUse" x="880.600" y="566.000" width="14.200" height="9.000"><rect x="12.2" y="0.7" width="2.0" height="1.8" fill="#f0f034" fill-opacity="0.80"/><rect x="7.3" y="1.4" width="2.0" height="1.8" fill="#bef670" fill-opacity="0.80"/><rect x="3.4" y="7.0" width="2.0" height="1.8" fill="#bef670" fill-opacity="0.80"/><rect x="1.0" y="5.6" width="2.0" height="1.8" fill="#f0f034" fill-opacity="0.80"/><rect x="9.6" y="2.8" width="2.0" height="1.8" fill="#8bf6de" fill-opacity="0.80"/></pattern>
<linearGradient id="vg45" x1="0" y1="0" x2="0" y2="1"><stop offset="0.0000" stop-color="#070299"/><stop offset="0.0182" stop-color="#060192"/><stop offset="0.0364" stop-color="#06008f"/><stop offset="0.0727" stop-color="#06008f"/><stop offset="0.0909" stop-color="#060192"/><stop offset="0.1091" stop-color="#07039e"/><stop offset="0.1273" stop-color="#0909c2"/><stop offset="0.1455" stop-color="#1b34f2"/><stop offset="0.1636" stop-color="#5daff2"/><stop offset="0.1818" stop-color="#96f7c6"/><stop offset="0.2000" stop-color="#bef670"/><stop offset="0.3091" stop-color="#bef670"/><stop offset="0.3273" stop-color="#dff648"/><stop offset="0.3455" stop-color="#fade24"/><stop offset="0.7818" stop-color="#fade24"/><stop offset="0.8000" stop-color="#bcf675"/><stop offset="0.8182" stop-color="#4582f0"/><stop offset="0.8364" stop-color="#0b0bd0"/><stop offset="0.8545" stop-color="#07029b"/><stop offset="0.8727" stop-color="#060193"/><stop offset="0.8909" stop-color="#060091"/><stop offset="0.9091" stop-color="#06008f"/><stop offset="0.9273" stop-color="#06008f"/><stop offset="0.9455" stop-color="#06008e"/><stop offset="1.0000" stop-color="#06008e"/></linearGradient>
<pattern id="sp46" patternUnits="userSpaceOnUse" x="1045.900" y="573.000" width="10.100" height="24.000"><rect x="6.5" y="7.9" width="2.0" height="1.8" fill="#be0505" fill-opacity="0.90"/><rect x="6.4" y="13.5" width="2.0" height="1.8" fill="#e8460f" fill-opacity="0.90"/><rect x="5.6" y="22.1" width="2.0" height="1.8" fill="#be0505" fill-opacity="0.90"/><rect x="4.2" y="0.8" width="2.0" height="1.8" fill="#de190a" fill-opacity="0.90"/><rect x="4.3" y="6.4" width="2.0" height="1.8" fill="#e8460f" fill-opacity="0.90"/><rect x="5.6" y="6.4" width="2.0" height="1.8" fill="#e8460f" fill-opacity="0.90"/></pattern>
<pattern id="sp47" patternUnits="userSpaceOnUse" x="1045.900" y="566.000" width="10.100" height="9.000"><rect x="7.4" y="4.9" width="2.0" height="1.8" fill="#8bf6de" fill-opacity="0.80"/><rect x="5.7" y="4.8" width="2.0" height="1.8" fill="#bef670" fill-opacity="0.80"/><rect x="3.7" y="7.2" width="2.0" height="1.8" fill="#8bf6de" fill-opacity="0.80"/><rect x="2.6" y="5.2" width="2.0" height="1.8" fill="#f0f034" fill-opacity="0.80"/></pattern>
<linearGradient id="vg48" x1="0" y1="0" x2="0" y2="1"><stop offset="0.0000" stop-color="#700000"/><stop offset="0.0250" stop-color="#830000"/><stop offset="0.0500" stop-color="#960000"/><stop offset="0.0750" stop-color="#aa0202"/><stop offset="0.1000" stop-color="#be0505"/><stop offset="0.1250" stop-color="#ce0f08"/><stop offset="0.1500" stop-color="#de190a"/><stop offset="0.1750" stop-color="#e3300d"/><stop offset="0.2000" stop-color="#e8460f"/><stop offset="0.2250" stop-color="#ec5c12"/><stop offset="0.2500" stop-color="#f07314"/><stop offset="0.2750" stop-color="#f28a16"/><stop offset="0.3000" stop-color="#f5a019"/><stop offset="0.3250" stop-color="#f8b41b"/><stop offset="0.3500" stop-color="#fac81e"/><stop offset="0.3750" stop-color="#fada23"/><stop offset="0.4000" stop-color="#faec28"/><stop offset="0.4250" stop-color="#edf137"/><stop offset="0.4500" stop-color="#e1f646"/><stop offset="0.4750" stop-color="#d0f65b"/><stop offset="0.5000" stop-color="#bef670"/><stop offset="0.5250" stop-color="#acf796"/><stop offset="0.5500" stop-color="#9bf8bc"/><stop offset="0.5750" stop-color="#8ef6d8"/><stop offset="0.6000" stop-color="#80f4f4"/><stop offset="0.6250" stop-color="#78e4f3"/><stop offset="0.6500" stop-color="#70d4f2"/><stop offset="0.6750" stop-color="#66c0f2"/><stop offset="0.7000" stop-color="#5cacf2"/><stop offset="0.7250" stop-color="#4f95f1"/><stop offset="0.7500" stop-color="#427ef0"/><stop offset="0.7750" stop-color="#3668f0"/><stop offset="0.8000" stop-color="#2a52f0"/><stop offset="0.8250" stop-color="#203ef1"/><stop offset="0.8500" stop-color="#162af2"/><stop offset="0.8750" stop-color="#111ce8"/><stop offset="0.9000" stop-color="#0c0ede"/><stop offset="0.9250" stop-color="#0a0ac8"/><stop offset="0.9500" stop-color="#0806b2"/><stop offset="0.9750" stop-color="#0703a0"/><stop offset="1.0000" stop-color="#06008e"/></linearGradient>
<clipPath id="hc49"><rect x="668.80" y="833.60" width="409.10" height="319.70"/></clipPath>
<linearGradient id="vg50" x1="0" y1="0" x2="0" y2="1"><stop offset="0.0000" stop-color="#06008e"/><stop offset="0.1531" stop-color="#06008e"/><stop offset="0.1563" stop-color="#06008f"/><stop offset="0.1594" stop-color="#070299"/><stop offset="0.1625" stop-color="#0807b5"/><stop offset="0.1656" stop-color="#0c0dda"/><stop offset="0.1688" stop-color="#0c0ede"/><stop offset="0.1719" stop-color="#0b0cd2"/><stop offset="0.1750" stop-color="#0805aa"/><stop offset="0.1781" stop-color="#060194"/><stop offset="0.1812" stop-color="#06008f"/><stop offset="0.1844" stop-color="#06008e"/><stop offset="0.1906" stop-color="#06008e"/><stop offset="0.1937" stop-color="#06008f"/><stop offset="0.1969" stop-color="#060194"/><stop offset="0.2000" stop-color="#07039f"/><stop offset="0.2031" stop-color="#0907b8"/><stop offset="0.2063" stop-color="#0d11e0"/><stop offset="0.2094" stop-color="#172bf2"/><stop offset="0.2125" stop-color="#1e3af1"/><stop offset="0.2344" stop-color="#1e3af1"/><stop offset="0.2375" stop-color="#1d38f1"/><stop offset="0.2406" stop-color="#1a32f2"/><stop offset="0.2438" stop-color="#162af2"/><stop offset="0.2469" stop-color="#1322ec"/><stop offset="0.2500" stop-color="#1019e6"/><stop offset="0.2531" stop-color="#0d10df"/><stop offset="0.2563" stop-color="#0b0cd1"/><stop offset="0.2594" stop-color="#0a09c3"/><stop offset="0.2625" stop-color="#0807b6"/><stop offset="0.2656" stop-color="#0805ac"/><stop offset="0.2687" stop-color="#0704a5"/><stop offset="0.2719" stop-color="#07039e"/><stop offset="0.2750" stop-color="#07029a"/><stop offset="0.2781" stop-color="#060196"/><stop offset="0.2812" stop-color="#060193"/><stop offset="0.2844" stop-color="#060191"/><stop offset="0.2875" stop-color="#060090"/><stop offset="0.2906" stop-color="#06008f"/><stop offset="0.2938" stop-color="#06008f"/><stop offset="0.2969" stop-color="#06008e"/><stop offset="0.3438" stop-color="#06008e"/><stop offset="0.3469" stop-color="#060090"/><stop offset="0.3500" stop-color="#060193"/><stop offset="0.3531" stop-color="#070298"/><stop offset="0.3562" stop-color="#07039e"/><stop offset="0.3594" stop-color="#0703a3"/><stop offset="0.3625" stop-color="#0704a4"/><stop offset="0.3656" stop-color="#0704a4"/><stop offset="0.3687" stop-color="#0703a3"/><stop offset="0.3719" stop-color="#07039e"/><stop offset="0.3750" stop-color="#070298"/><stop offset="0.3781" stop-color="#060193"/><stop offset="0.3813" stop-color="#060090"/><stop offset="0.3844" stop-color="#06008f"/><stop offset="0.3875" stop-color="#06008e"/><stop offset="0.4000" stop-color="#06008e"/><stop offset="0.4031" stop-color="#060090"/><stop offset="0.4062" stop-color="#060193"/><stop offset="0.4094" stop-color="#070298"/><stop offset="0.4125" stop-color="#07039e"/><stop offset="0.4156" stop-color="#0703a3"/><stop offset="0.4188" stop-color="#0704a4"/><stop offset="0.4219" stop-color="#0704a4"/><stop offset="0.4250" stop-color="#0704a3"/><stop offset="0.4281" stop-color="#07039e"/><stop offset="0.4312" stop-color="#070298"/><stop offset="0.4344" stop-color="#060193"/><stop offset="0.4375" stop-color="#060090"/><stop offset="0.4406" stop-color="#06008f"/><stop offset="0.4437" stop-color="#06008e"/><stop offset="0.4906" stop-color="#06008e"/><stop offset="0.4937" stop-color="#06008f"/><stop offset="0.4969" stop-color="#060196"/><stop offset="0.5000" stop-color="#0806b1"/><stop offset="0.5031" stop-color="#111be7"/><stop offset="0.5063" stop-color="#1e3af1"/><stop offset="0.5125" stop-color="#1e3af1"/><stop offset="0.5156" stop-color="#121fea"/><stop offset="0.5188" stop-color="#0807b7"/><stop offset="0.5219" stop-color="#070297"/><stop offset="0.5250" stop-color="#06008f"/><stop offset="0.5281" stop-color="#06008e"/><stop offset="0.7938" stop-color="#06008e"/><stop offset="0.7969" stop-color="#06008f"/><stop offset="0.8000" stop-color="#060091"/><stop offset="0.8031" stop-color="#060194"/><stop offset="0.8063" stop-color="#07029a"/><stop offset="0.8094" stop-color="#0704a5"/><stop offset="0.8125" stop-color="#0807b5"/><stop offset="0.8156" stop-color="#0a0bcd"/><stop offset="0.8187" stop-color="#0e13e1"/><stop offset="0.8219" stop-color="#121fea"/><stop offset="0.8250" stop-color="#1424ee"/><stop offset="0.8562" stop-color="#1424ee"/><stop offset="0.8594" stop-color="#1323ed"/><stop offset="0.8625" stop-color="#111de8"/><stop offset="0.8656" stop-color="#0e13e2"/><stop offset="0.8688" stop-color="#0b0cd4"/><stop offset="0.8719" stop-color="#0909c1"/><stop offset="0.8750" stop-color="#0806b1"/><stop offset="0.8781" stop-color="#0704a5"/><stop offset="0.8812" stop-color="#07029d"/><stop offset="0.8844" stop-color="#070297"/><stop offset="0.8875" stop-color="#060196"/><stop offset="0.8906" stop-color="#07039e"/><stop offset="0.8937" stop-color="#0805ae"/><stop offset="0.8969" stop-color="#0909c1"/><stop offset="0.9000" stop-color="#0a09c4"/><stop offset="0.9031" stop-color="#0a09c4"/><stop offset="0.9063" stop-color="#0909c0"/><stop offset="0.9094" stop-color="#0805ac"/><stop offset="0.9125" stop-color="#07029a"/><stop offset="0.9156" stop-color="#060191"/><stop offset="0.9187" stop-color="#06008f"/><stop offset="0.9219" stop-color="#06008e"/><stop offset="1.0000" stop-color="#06008e"/></linearGradient>
<pattern id="sp51" patternUnits="userSpaceOnUse" x="668.800" y="901.000" width="44.050" height="15.000"><rect x="10.8" y="8.9" width="2.2" height="2.0" fill="#0a09c4" fill-opacity="0.60"/><rect x="35.5" y="2.4" width="2.2" height="2.0" fill="#0a09c4" fill-opacity="0.60"/><rect x="6.2" y="2.9" width="2.2" height="2.0" fill="#0a09c4" fill-opacity="0.60"/><rect x="5.4" y="6.9" width="2.2" height="2.0" fill="#0a09c4" fill-opacity="0.60"/><rect x="12.3" y="5.6" width="2.2" height="2.0" fill="#0a09c4" fill-opacity="0.60"/><rect x="25.5" y="0.2" width="2.2" height="2.0" fill="#0a09c4" fill-opacity="0.60"/><rect x="6.1" y="11.3" width="2.2" height="2.0" fill="#0a09c4" fill-opacity="0.60"/><rect x="33.7" y="10.7" width="2.2" height="2.0" fill="#0a09c4" fill-opacity="0.60"/><rect x="39.7" y="10.3" width="2.2" height="2.0" fill="#0a09c4" fill-opacity="0.60"/><rect x="35.6" y="6.3" width="2.2" height="2.0" fill="#0a09c4" fill-opacity="0.60"/><rect x="23.6" y="5.6" width="2.2" height="2.0" fill="#0a09c4" fill-opacity="0.60"/><rect x="18.0" y="4.1" width="2.2" height="2.0" fill="#0a09c4" fill-opacity="0.60"/><rect x="34.3" y="10.4" width="2.2" height="2.0" fill="#0a09c4" fill-opacity="0.60"/><rect x="28.9" y="7.2" width="2.2" height="2.0" fill="#0a09c4" fill-opacity="0.60"/><rect x="5.6" y="8.8" width="2.2" height="2.0" fill="#0a09c4" fill-opacity="0.60"/><rect x="7.4" y="2.6" width="2.2" height="2.0" fill="#0a09c4" fill-opacity="0.60"/><rect x="10.6" y="6.0" width="2.2" height="2.0" fill="#0a09c4" fill-opacity="0.60"/><rect x="16.6" y="1.7" width="2.2" height="2.0" fill="#0a09c4" fill-opacity="0.60"/><rect x="9.9" y="3.1" width="2.2" height="2.0" fill="#0a09c4" fill-opacity="0.60"/><rect x="15.3" y="1.0" width="2.2" height="2.0" fill="#0a09c4" fill-opacity="0.60"/><rect x="39.9" y="5.1" width="2.2" height="2.0" fill="#0a09c4" fill-opacity="0.60"/><rect x="39.0" y="0.6" width="2.2" height="2.0" fill="#0a09c4" fill-opacity="0.60"/><rect x="33.7" y="10.9" width="2.2" height="2.0" fill="#0a09c4" fill-opacity="0.60"/><rect x="6.7" y="5.4" width="2.2" height="2.0" fill="#0a09c4" fill-opacity="0.60"/><rect x="37.1" y="10.4" width="2.2" height="2.0" fill="#0a09c4" fill-opacity="0.60"/><rect x="35.7" y="4.9" width="2.2" height="2.0" fill="#0a09c4" fill-opacity="0.60"/><rect x="5.7" y="12.6" width="2.2" height="2.0" fill="#0a09c4" fill-opacity="0.60"/><rect x="30.2" y="2.8" width="2.2" height="2.0" fill="#0a09c4" fill-opacity="0.60"/><rect x="24.3" y="7.7" width="2.2" height="2.0" fill="#0a09c4" fill-opacity="0.60"/><rect x="30.5" y="4.4" width="2.2" height="2.0" fill="#0a09c4" fill-opacity="0.60"/><rect x="6.9" y="8.9" width="2.2" height="2.0" fill="#0a09c4" fill-opacity="0.60"/><rect x="9.4" y="0.9" width="2.2" height="2.0" fill="#0a09c4" fill-opacity="0.60"/><rect x="23.3" y="7.1" width="2.2" height="2.0" fill="#0a09c4" fill-opacity="0.60"/><rect x="18.4" y="4.5" width="2.2" height="2.0" fill="#0a09c4" fill-opacity="0.60"/><rect x="0.1" y="13.0" width="2.2" height="2.0" fill="#0a09c4" fill-opacity="0.60"/><rect x="12.6" y="3.5" width="2.2" height="2.0" fill="#0a09c4" fill-opacity="0.60"/><rect x="3.2" y="6.1" width="2.2" height="2.0" fill="#0a09c4" fill-opacity="0.60"/><rect x="34.9" y="0.1" width="2.2" height="2.0" fill="#0a09c4" fill-opacity="0.60"/><rect x="20.8" y="12.6" width="2.2" height="2.0" fill="#0a09c4" fill-opacity="0.60"/><rect x="19.8" y="8.7" width="2.2" height="2.0" fill="#0a09c4" fill-opacity="0.60"/></pattern>
<pattern id="sp52" patternUnits="userSpaceOnUse" x="668.800" y="902.000" width="44.050" height="7.000"><rect x="4.5" y="3.5" width="2.2" height="2.0" fill="#3464f0" fill-opacity="0.60"/><rect x="39.4" y="1.4" width="2.2" height="2.0" fill="#3464f0" fill-opacity="0.60"/><rect x="30.7" y="3.3" width="2.2" height="2.0" fill="#3464f0" fill-opacity="0.60"/><rect x="28.6" y="2.0" width="2.2" height="2.0" fill="#3464f0" fill-opacity="0.60"/><rect x="5.0" y="1.1" width="2.2" height="2.0" fill="#3464f0" fill-opacity="0.60"/><rect x="15.0" y="1.3" width="2.2" height="2.0" fill="#3464f0" fill-opacity="0.60"/><rect x="26.4" y="0.7" width="2.2" height="2.0" fill="#3464f0" fill-opacity="0.60"/><rect x="27.8" y="0.8" width="2.2" height="2.0" fill="#3464f0" fill-opacity="0.60"/><rect x="5.1" y="1.7" width="2.2" height="2.0" fill="#3464f0" fill-opacity="0.60"/><rect x="8.6" y="4.9" width="2.2" height="2.0" fill="#3464f0" fill-opacity="0.60"/></pattern>
<linearGradient id="vg53" x1="0" y1="0" x2="0" y2="1"><stop offset="0.0000" stop-color="#06008e"/><stop offset="0.0357" stop-color="#06008e"/><stop offset="0.0714" stop-color="#06008f"/><stop offset="0.1071" stop-color="#060192"/><stop offset="0.1429" stop-color="#07039f"/><stop offset="0.1786" stop-color="#0a0ac8"/><stop offset="0.2143" stop-color="#2141f1"/><stop offset="0.2500" stop-color="#69c7f2"/><stop offset="0.2857" stop-color="#b4f786"/><stop offset="0.3214" stop-color="#e1f646"/><stop offset="0.6786" stop-color="#e1f646"/><stop offset="0.7143" stop-color="#b4f786"/><stop offset="0.7500" stop-color="#80f4f4"/><stop offset="0.7857" stop-color="#80f4f4"/><stop offset="0.8214" stop-color="#64bcf2"/><stop offset="0.8571" stop-color="#1c36f1"/><stop offset="0.8929" stop-color="#0807b6"/><stop offset="0.9286" stop-color="#060196"/><stop offset="0.9643" stop-color="#06008f"/><stop offset="1.0000" stop-color="#06008e"/></linearGradient>
<linearGradient id="vg54" x1="0" y1="0" x2="0" y2="1"><stop offset="0.0000" stop-color="#06008e"/><stop offset="0.0357" stop-color="#06008e"/><stop offset="0.0714" stop-color="#06008f"/><stop offset="0.1071" stop-color="#060192"/><stop offset="0.1429" stop-color="#07039f"/><stop offset="0.1786" stop-color="#0a0ac8"/><stop offset="0.2143" stop-color="#2141f1"/><stop offset="0.2500" stop-color="#69c7f2"/><stop offset="0.2857" stop-color="#b4f786"/><stop offset="0.3214" stop-color="#e1f646"/><stop offset="0.6786" stop-color="#e1f646"/><stop offset="0.7143" stop-color="#b4f786"/><stop offset="0.7500" stop-color="#80f4f4"/><stop offset="0.7857" stop-color="#80f4f4"/><stop offset="0.8214" stop-color="#64bcf2"/><stop offset="0.8571" stop-color="#1c36f1"/><stop offset="0.8929" stop-color="#0807b6"/><stop offset="0.9286" stop-color="#060196"/><stop offset="0.9643" stop-color="#06008f"/><stop offset="1.0000" stop-color="#06008e"/></linearGradient>
<linearGradient id="vg55" x1="0" y1="0" x2="0" y2="1"><stop offset="0.0000" stop-color="#06008e"/><stop offset="0.0357" stop-color="#06008e"/><stop offset="0.0714" stop-color="#06008f"/><stop offset="0.1071" stop-color="#060192"/><stop offset="0.1429" stop-color="#07039f"/><stop offset="0.1786" stop-color="#0a0ac8"/><stop offset="0.2143" stop-color="#2141f1"/><stop offset="0.2500" stop-color="#69c7f2"/><stop offset="0.2857" stop-color="#b4f786"/><stop offset="0.3214" stop-color="#e1f646"/><stop offset="0.6786" stop-color="#e1f646"/><stop offset="0.7143" stop-color="#b4f786"/><stop offset="0.7500" stop-color="#80f4f4"/><stop offset="0.7857" stop-color="#80f4f4"/><stop offset="0.8214" stop-color="#64bcf2"/><stop offset="0.8571" stop-color="#1c36f1"/><stop offset="0.8929" stop-color="#0807b6"/><stop offset="0.9286" stop-color="#060196"/><stop offset="0.9643" stop-color="#06008f"/><stop offset="1.0000" stop-color="#06008e"/></linearGradient>
<linearGradient id="vg56" x1="0" y1="0" x2="0" y2="1"><stop offset="0.0000" stop-color="#700000"/><stop offset="0.0250" stop-color="#830000"/><stop offset="0.0500" stop-color="#960000"/><stop offset="0.0750" stop-color="#aa0202"/><stop offset="0.1000" stop-color="#be0505"/><stop offset="0.1250" stop-color="#ce0f08"/><stop offset="0.1500" stop-color="#de190a"/><stop offset="0.1750" stop-color="#e3300d"/><stop offset="0.2000" stop-color="#e8460f"/><stop offset="0.2250" stop-color="#ec5c12"/><stop offset="0.2500" stop-color="#f07314"/><stop offset="0.2750" stop-color="#f28a16"/><stop offset="0.3000" stop-color="#f5a019"/><stop offset="0.3250" stop-color="#f8b41b"/><stop offset="0.3500" stop-color="#fac81e"/><stop offset="0.3750" stop-color="#fada23"/><stop offset="0.4000" stop-color="#faec28"/><stop offset="0.4250" stop-color="#edf137"/><stop offset="0.4500" stop-color="#e1f646"/><stop offset="0.4750" stop-color="#d0f65b"/><stop offset="0.5000" stop-color="#bef670"/><stop offset="0.5250" stop-color="#acf796"/><stop offset="0.5500" stop-color="#9bf8bc"/><stop offset="0.5750" stop-color="#8ef6d8"/><stop offset="0.6000" stop-color="#80f4f4"/><stop offset="0.6250" stop-color="#78e4f3"/><stop offset="0.6500" stop-color="#70d4f2"/><stop offset="0.6750" stop-color="#66c0f2"/><stop offset="0.7000" stop-color="#5cacf2"/><stop offset="0.7250" stop-color="#4f95f1"/><stop offset="0.7500" stop-color="#427ef0"/><stop offset="0.7750" stop-color="#3668f0"/><stop offset="0.8000" stop-color="#2a52f0"/><stop offset="0.8250" stop-color="#203ef1"/><stop offset="0.8500" stop-color="#162af2"/><stop offset="0.8750" stop-color="#111ce8"/><stop offset="0.9000" stop-color="#0c0ede"/><stop offset="0.9250" stop-color="#0a0ac8"/><stop offset="0.9500" stop-color="#0806b2"/><stop offset="0.9750" stop-color="#0703a0"/><stop offset="1.0000" stop-color="#06008e"/></linearGradient>
<clipPath id="hc57"><rect x="1250.40" y="426.80" width="409.80" height="319.80"/></clipPath>
<linearGradient id="vg58" x1="0" y1="0" x2="0" y2="1"><stop offset="0.0000" stop-color="#06008e"/><stop offset="0.1906" stop-color="#06008e"/><stop offset="0.1938" stop-color="#06008f"/><stop offset="0.1969" stop-color="#060194"/><stop offset="0.2000" stop-color="#0704a3"/><stop offset="0.2031" stop-color="#0a0bcb"/><stop offset="0.2063" stop-color="#172bf2"/><stop offset="0.2094" stop-color="#3260f0"/><stop offset="0.2125" stop-color="#386cf0"/><stop offset="0.2219" stop-color="#386cf0"/><stop offset="0.2250" stop-color="#3669f0"/><stop offset="0.2281" stop-color="#1f3df1"/><stop offset="0.2313" stop-color="#0c0edc"/><stop offset="0.2344" stop-color="#0805ab"/><stop offset="0.2375" stop-color="#060197"/><stop offset="0.2406" stop-color="#060090"/><stop offset="0.2438" stop-color="#06008e"/><stop offset="0.4687" stop-color="#06008e"/><stop offset="0.4719" stop-color="#060090"/><stop offset="0.4750" stop-color="#07039f"/><stop offset="0.4781" stop-color="#0a0bcb"/><stop offset="0.4813" stop-color="#0c0ede"/><stop offset="0.4844" stop-color="#0a0bcc"/><stop offset="0.4875" stop-color="#0806b2"/><stop offset="0.4906" stop-color="#1629f2"/><stop offset="0.4938" stop-color="#59a7f2"/><stop offset="0.4969" stop-color="#5cacf2"/><stop offset="0.5000" stop-color="#2344f1"/><stop offset="0.5031" stop-color="#0805ab"/><stop offset="0.5062" stop-color="#060090"/><stop offset="0.5094" stop-color="#06008e"/><stop offset="0.8094" stop-color="#06008e"/><stop offset="0.8125" stop-color="#06008f"/><stop offset="0.8156" stop-color="#060194"/><stop offset="0.8187" stop-color="#0805aa"/><stop offset="0.8219" stop-color="#0e15e3"/><stop offset="0.8250" stop-color="#213ff1"/><stop offset="0.8281" stop-color="#2242f1"/><stop offset="0.8312" stop-color="#1c36f1"/><stop offset="0.8344" stop-color="#0b0cd5"/><stop offset="0.8375" stop-color="#0703a1"/><stop offset="0.8406" stop-color="#060191"/><stop offset="0.8438" stop-color="#06008e"/><stop offset="1.0000" stop-color="#06008e"/></linearGradient>
<pattern id="sp59" patternUnits="userSpaceOnUse" x="1250.400" y="492.600" width="44.050" height="1.800"><rect x="12.8" y="-0.0" width="2.4" height="1.8" fill="#5cacf2" fill-opacity="0.90"/><rect x="33.6" y="-0.0" width="2.4" height="1.8" fill="#5cacf2" fill-opacity="0.90"/><rect x="37.3" y="-0.0" width="2.4" height="1.8" fill="#5cacf2" fill-opacity="0.90"/><rect x="27.7" y="-0.0" width="2.4" height="1.8" fill="#5cacf2" fill-opacity="0.90"/><rect x="10.0" y="-0.0" width="2.4" height="1.8" fill="#5cacf2" fill-opacity="0.90"/><rect x="32.9" y="-0.0" width="2.4" height="1.8" fill="#5cacf2" fill-opacity="0.90"/></pattern>
<pattern id="sp60" patternUnits="userSpaceOnUse" x="1250.400" y="498.100" width="44.050" height="1.800"><rect x="20.6" y="-0.0" width="2.4" height="1.8" fill="#529af1" fill-opacity="0.90"/><rect x="13.4" y="-0.0" width="2.4" height="1.8" fill="#529af1" fill-opacity="0.90"/><rect x="20.2" y="-0.0" width="2.4" height="1.8" fill="#529af1" fill-opacity="0.90"/><rect x="13.7" y="-0.0" width="2.4" height="1.8" fill="#529af1" fill-opacity="0.90"/></pattern>
<pattern id="sp61" patternUnits="userSpaceOnUse" x="1250.400" y="579.800" width="44.050" height="1.800"><rect x="38.7" y="-0.0" width="2.4" height="1.8" fill="#2a52f0" fill-opacity="0.90"/><rect x="9.9" y="-0.0" width="2.4" height="1.8" fill="#2a52f0" fill-opacity="0.90"/><rect x="14.8" y="-0.0" width="2.4" height="1.8" fill="#2a52f0" fill-opacity="0.90"/><rect x="40.0" y="-0.0" width="2.4" height="1.8" fill="#2a52f0" fill-opacity="0.90"/><rect x="5.1" y="-0.0" width="2.4" height="1.8" fill="#2a52f0" fill-opacity="0.90"/><rect x="32.3" y="-0.0" width="2.4" height="1.8" fill="#2a52f0" fill-opacity="0.90"/><rect x="6.7" y="-0.0" width="2.4" height="1.8" fill="#2a52f0" fill-opacity="0.90"/></pattern>
<pattern id="sp62" patternUnits="userSpaceOnUse" x="1250.400" y="544.100" width="44.050" height="1.800"><rect x="18.5" y="-0.0" width="2.4" height="1.8" fill="#0b0cd5" fill-opacity="0.90"/><rect x="20.2" y="-0.0" width="2.4" height="1.8" fill="#0b0cd5" fill-opacity="0.90"/></pattern>
<pattern id="sp63" patternUnits="userSpaceOnUse" x="1250.400" y="611.100" width="44.050" height="1.800"><rect x="19.8" y="-0.0" width="2.4" height="1.8" fill="#0b0cd5" fill-opacity="0.90"/><rect x="38.3" y="-0.0" width="2.4" height="1.8" fill="#0b0cd5" fill-opacity="0.90"/></pattern>
<linearGradient id="vg64" x1="0" y1="0" x2="0" y2="1"><stop offset="0.0000" stop-color="#06008e"/><stop offset="0.0870" stop-color="#06008e"/><stop offset="0.1304" stop-color="#06008f"/><stop offset="0.1739" stop-color="#07029b"/><stop offset="0.2174" stop-color="#121fea"/><stop offset="0.2609" stop-color="#71d6f2"/><stop offset="0.3043" stop-color="#80f4f4"/><stop offset="0.3478" stop-color="#f3ef30"/><stop offset="0.3913" stop-color="#fade24"/><stop offset="0.6087" stop-color="#fade24"/><stop offset="0.6522" stop-color="#f3ef30"/><stop offset="0.6957" stop-color="#80f4f4"/><stop offset="0.7391" stop-color="#80f4f4"/><stop offset="0.7826" stop-color="#71d6f2"/><stop offset="0.8261" stop-color="#121fea"/><stop offset="0.8696" stop-color="#07029b"/><stop offset="0.9130" stop-color="#06008f"/><stop offset="0.9565" stop-color="#06008e"/><stop offset="1.0000" stop-color="#06008e"/></linearGradient>
<linearGradient id="vg65" x1="0" y1="0" x2="0" y2="1"><stop offset="0.0000" stop-color="#06008e"/><stop offset="0.0870" stop-color="#06008e"/><stop offset="0.1304" stop-color="#06008f"/><stop offset="0.1739" stop-color="#07029b"/><stop offset="0.2174" stop-color="#121fea"/><stop offset="0.2609" stop-color="#71d6f2"/><stop offset="0.3043" stop-color="#80f4f4"/><stop offset="0.3478" stop-color="#f3ef30"/><stop offset="0.3913" stop-color="#fade24"/><stop offset="0.6087" stop-color="#fade24"/><stop offset="0.6522" stop-color="#f3ef30"/><stop offset="0.6957" stop-color="#80f4f4"/><stop offset="0.7391" stop-color="#80f4f4"/><stop offset="0.7826" stop-color="#71d6f2"/><stop offset="0.8261" stop-color="#121fea"/><stop offset="0.8696" stop-color="#07029b"/><stop offset="0.9130" stop-color="#06008f"/><stop offset="0.9565" stop-color="#06008e"/><stop offset="1.0000" stop-color="#06008e"/></linearGradient>
<linearGradient id="vg66" x1="0" y1="0" x2="0" y2="1"><stop offset="0.0000" stop-color="#06008e"/><stop offset="0.0870" stop-color="#06008e"/><stop offset="0.1304" stop-color="#06008f"/><stop offset="0.1739" stop-color="#07029b"/><stop offset="0.2174" stop-color="#121fea"/><stop offset="0.2609" stop-color="#71d6f2"/><stop offset="0.3043" stop-color="#80f4f4"/><stop offset="0.3478" stop-color="#f3ef30"/><stop offset="0.3913" stop-color="#fade24"/><stop offset="0.6087" stop-color="#fade24"/><stop offset="0.6522" stop-color="#f3ef30"/><stop offset="0.6957" stop-color="#80f4f4"/><stop offset="0.7391" stop-color="#80f4f4"/><stop offset="0.7826" stop-color="#71d6f2"/><stop offset="0.8261" stop-color="#121fea"/><stop offset="0.8696" stop-color="#07029b"/><stop offset="0.9130" stop-color="#06008f"/><stop offset="0.9565" stop-color="#06008e"/><stop offset="1.0000" stop-color="#06008e"/></linearGradient>
<linearGradient id="vg67" x1="0" y1="0" x2="0" y2="1"><stop offset="0.0000" stop-color="#700000"/><stop offset="0.0250" stop-color="#830000"/><stop offset="0.0500" stop-color="#960000"/><stop offset="0.0750" stop-color="#aa0202"/><stop offset="0.1000" stop-color="#be0505"/><stop offset="0.1250" stop-color="#ce0f08"/><stop offset="0.1500" stop-color="#de190a"/><stop offset="0.1750" stop-color="#e3300d"/><stop offset="0.2000" stop-color="#e8460f"/><stop offset="0.2250" stop-color="#ec5c12"/><stop offset="0.2500" stop-color="#f07314"/><stop offset="0.2750" stop-color="#f28a16"/><stop offset="0.3000" stop-color="#f5a019"/><stop offset="0.3250" stop-color="#f8b41b"/><stop offset="0.3500" stop-color="#fac81e"/><stop offset="0.3750" stop-color="#fada23"/><stop offset="0.4000" stop-color="#faec28"/><stop offset="0.4250" stop-color="#edf137"/><stop offset="0.4500" stop-color="#e1f646"/><stop offset="0.4750" stop-color="#d0f65b"/><stop offset="0.5000" stop-color="#bef670"/><stop offset="0.5250" stop-color="#acf796"/><stop offset="0.5500" stop-color="#9bf8bc"/><stop offset="0.5750" stop-color="#8ef6d8"/><stop offset="0.6000" stop-color="#80f4f4"/><stop offset="0.6250" stop-color="#78e4f3"/><stop offset="0.6500" stop-color="#70d4f2"/><stop offset="0.6750" stop-color="#66c0f2"/><stop offset="0.7000" stop-color="#5cacf2"/><stop offset="0.7250" stop-color="#4f95f1"/><stop offset="0.7500" stop-color="#427ef0"/><stop offset="0.7750" stop-color="#3668f0"/><stop offset="0.8000" stop-color="#2a52f0"/><stop offset="0.8250" stop-color="#203ef1"/><stop offset="0.8500" stop-color="#162af2"/><stop offset="0.8750" stop-color="#111ce8"/><stop offset="0.9000" stop-color="#0c0ede"/><stop offset="0.9250" stop-color="#0a0ac8"/><stop offset="0.9500" stop-color="#0806b2"/><stop offset="0.9750" stop-color="#0703a0"/><stop offset="1.0000" stop-color="#06008e"/></linearGradient>
<clipPath id="hc68"><rect x="1252.30" y="833.60" width="407.90" height="319.80"/></clipPath>
<linearGradient id="vg69" x1="0" y1="0" x2="0" y2="1"><stop offset="0.0000" stop-color="#06008e"/><stop offset="0.5375" stop-color="#06008e"/><stop offset="0.5406" stop-color="#060090"/><stop offset="0.5437" stop-color="#07039d"/><stop offset="0.5469" stop-color="#0a09c4"/><stop offset="0.5500" stop-color="#0b0cd5"/><stop offset="0.5531" stop-color="#0b0cd2"/><stop offset="0.5562" stop-color="#0805aa"/><stop offset="0.5594" stop-color="#060193"/><stop offset="0.5625" stop-color="#06008e"/><stop offset="0.8156" stop-color="#06008e"/><stop offset="0.8188" stop-color="#06008f"/><stop offset="0.8219" stop-color="#06008f"/><stop offset="0.8250" stop-color="#060191"/><stop offset="0.8281" stop-color="#060194"/><stop offset="0.8313" stop-color="#07029a"/><stop offset="0.8344" stop-color="#0703a1"/><stop offset="0.8375" stop-color="#0805a9"/><stop offset="0.8406" stop-color="#0806b2"/><stop offset="0.8438" stop-color="#0907b9"/><stop offset="0.8469" stop-color="#0908bd"/><stop offset="0.8500" stop-color="#0c0dda"/><stop offset="0.8531" stop-color="#386cf0"/><stop offset="0.8562" stop-color="#73daf2"/><stop offset="0.8594" stop-color="#73daf2"/><stop offset="0.8625" stop-color="#6ecff2"/><stop offset="0.8656" stop-color="#2446f1"/><stop offset="0.8687" stop-color="#0a0bcc"/><stop offset="0.8719" stop-color="#0908bc"/><stop offset="0.8750" stop-color="#0807b7"/><stop offset="0.8781" stop-color="#0806b0"/><stop offset="0.8813" stop-color="#0704a7"/><stop offset="0.8844" stop-color="#07039f"/><stop offset="0.8875" stop-color="#070298"/><stop offset="0.8906" stop-color="#060193"/><stop offset="0.8938" stop-color="#060091"/><stop offset="0.8969" stop-color="#06008f"/><stop offset="0.9000" stop-color="#06008e"/><stop offset="1.0000" stop-color="#06008e"/></linearGradient>
<pattern id="sp70" patternUnits="userSpaceOnUse" x="1252.300" y="835.900" width="44.050" height="1.800"><rect x="19.1" y="-0.0" width="2.4" height="1.8" fill="#0b0cd5" fill-opacity="0.90"/><rect x="11.8" y="-0.0" width="2.4" height="1.8" fill="#0b0cd5" fill-opacity="0.90"/><rect x="5.3" y="-0.0" width="2.4" height="1.8" fill="#0b0cd5" fill-opacity="0.90"/></pattern>
<pattern id="sp71" patternUnits="userSpaceOnUse" x="1252.300" y="862.900" width="44.050" height="1.800"><rect x="15.9" y="-0.0" width="2.4" height="1.8" fill="#0b0cd5" fill-opacity="0.90"/><rect x="38.1" y="-0.0" width="2.4" height="1.8" fill="#0b0cd5" fill-opacity="0.90"/><rect x="23.0" y="-0.0" width="2.4" height="1.8" fill="#0b0cd5" fill-opacity="0.90"/></pattern>
<pattern id="sp72" patternUnits="userSpaceOnUse" x="1252.300" y="905.000" width="44.050" height="1.800"><rect x="26.6" y="-0.0" width="2.4" height="1.8" fill="#264af0" fill-opacity="0.90"/><rect x="9.3" y="-0.0" width="2.4" height="1.8" fill="#264af0" fill-opacity="0.90"/><rect x="37.2" y="-0.0" width="2.4" height="1.8" fill="#264af0" fill-opacity="0.90"/><rect x="1.2" y="-0.0" width="2.4" height="1.8" fill="#264af0" fill-opacity="0.90"/><rect x="1.1" y="-0.0" width="2.4" height="1.8" fill="#264af0" fill-opacity="0.90"/><rect x="22.7" y="-0.0" width="2.4" height="1.8" fill="#264af0" fill-opacity="0.90"/><rect x="33.7" y="-0.0" width="2.4" height="1.8" fill="#264af0" fill-opacity="0.90"/><rect x="29.1" y="-0.0" width="2.4" height="1.8" fill="#264af0" fill-opacity="0.90"/></pattern>
<pattern id="sp73" patternUnits="userSpaceOnUse" x="1252.300" y="926.300" width="44.050" height="1.800"><rect x="1.6" y="-0.0" width="2.4" height="1.8" fill="#0e14e2" fill-opacity="0.90"/><rect x="19.3" y="-0.0" width="2.4" height="1.8" fill="#0e14e2" fill-opacity="0.90"/><rect x="18.9" y="-0.0" width="2.4" height="1.8" fill="#0e14e2" fill-opacity="0.90"/><rect x="18.0" y="-0.0" width="2.4" height="1.8" fill="#0e14e2" fill-opacity="0.90"/><rect x="22.8" y="-0.0" width="2.4" height="1.8" fill="#0e14e2" fill-opacity="0.90"/></pattern>
<pattern id="sp74" patternUnits="userSpaceOnUse" x="1252.300" y="936.300" width="44.050" height="1.800"><rect x="17.0" y="-0.0" width="2.4" height="1.8" fill="#0c0ede" fill-opacity="0.90"/><rect x="7.4" y="-0.0" width="2.4" height="1.8" fill="#0c0ede" fill-opacity="0.90"/><rect x="4.9" y="-0.0" width="2.4" height="1.8" fill="#0c0ede" fill-opacity="0.90"/><rect x="21.4" y="-0.0" width="2.4" height="1.8" fill="#0c0ede" fill-opacity="0.90"/><rect x="15.8" y="-0.0" width="2.4" height="1.8" fill="#0c0ede" fill-opacity="0.90"/></pattern>
<pattern id="sp75" patternUnits="userSpaceOnUse" x="1252.300" y="940.900" width="44.050" height="1.800"><rect x="11.3" y="-0.0" width="2.4" height="1.8" fill="#0c0ede" fill-opacity="0.90"/><rect x="14.1" y="-0.0" width="2.4" height="1.8" fill="#0c0ede" fill-opacity="0.90"/><rect x="11.8" y="-0.0" width="2.4" height="1.8" fill="#0c0ede" fill-opacity="0.90"/><rect x="31.0" y="-0.0" width="2.4" height="1.8" fill="#0c0ede" fill-opacity="0.90"/></pattern>
<pattern id="sp76" patternUnits="userSpaceOnUse" x="1252.300" y="951.800" width="44.050" height="1.800"><rect x="37.0" y="-0.0" width="2.4" height="1.8" fill="#0e14e2" fill-opacity="0.90"/><rect x="35.8" y="-0.0" width="2.4" height="1.8" fill="#0e14e2" fill-opacity="0.90"/><rect x="24.3" y="-0.0" width="2.4" height="1.8" fill="#0e14e2" fill-opacity="0.90"/><rect x="2.9" y="-0.0" width="2.4" height="1.8" fill="#0e14e2" fill-opacity="0.90"/><rect x="35.1" y="-0.0" width="2.4" height="1.8" fill="#0e14e2" fill-opacity="0.90"/></pattern>
<pattern id="sp77" patternUnits="userSpaceOnUse" x="1252.300" y="954.600" width="44.050" height="1.800"><rect x="14.7" y="-0.0" width="2.4" height="1.8" fill="#0c0ede" fill-opacity="0.90"/><rect x="14.3" y="-0.0" width="2.4" height="1.8" fill="#0c0ede" fill-opacity="0.90"/><rect x="1.7" y="-0.0" width="2.4" height="1.8" fill="#0c0ede" fill-opacity="0.90"/></pattern>
<pattern id="sp78" patternUnits="userSpaceOnUse" x="1252.300" y="964.300" width="44.050" height="1.800"><rect x="22.8" y="-0.0" width="2.4" height="1.8" fill="#0c0ede" fill-opacity="0.90"/><rect x="12.6" y="-0.0" width="2.4" height="1.8" fill="#0c0ede" fill-opacity="0.90"/><rect x="31.7" y="-0.0" width="2.4" height="1.8" fill="#0c0ede" fill-opacity="0.90"/><rect x="36.4" y="-0.0" width="2.4" height="1.8" fill="#0c0ede" fill-opacity="0.90"/></pattern>
<pattern id="sp79" patternUnits="userSpaceOnUse" x="1252.300" y="969.500" width="44.050" height="1.800"><rect x="2.8" y="-0.0" width="2.4" height="1.8" fill="#0b0cd5" fill-opacity="0.90"/><rect x="31.3" y="-0.0" width="2.4" height="1.8" fill="#0b0cd5" fill-opacity="0.90"/><rect x="1.9" y="-0.0" width="2.4" height="1.8" fill="#0b0cd5" fill-opacity="0.90"/><rect x="30.6" y="-0.0" width="2.4" height="1.8" fill="#0b0cd5" fill-opacity="0.90"/></pattern>
<pattern id="sp80" patternUnits="userSpaceOnUse" x="1252.300" y="1025.000" width="44.050" height="1.800"><rect x="20.7" y="0.0" width="2.4" height="1.8" fill="#0b0cd5" fill-opacity="0.90"/><rect x="10.1" y="0.0" width="2.4" height="1.8" fill="#0b0cd5" fill-opacity="0.90"/><rect x="3.5" y="0.0" width="2.4" height="1.8" fill="#0b0cd5" fill-opacity="0.90"/></pattern>
<pattern id="sp81" patternUnits="userSpaceOnUse" x="1252.300" y="1068.100" width="44.050" height="1.800"><rect x="10.1" y="0.0" width="2.4" height="1.8" fill="#0c0ede" fill-opacity="0.90"/><rect x="34.2" y="0.0" width="2.4" height="1.8" fill="#0c0ede" fill-opacity="0.90"/><rect x="38.6" y="0.0" width="2.4" height="1.8" fill="#0c0ede" fill-opacity="0.90"/><rect x="30.5" y="0.0" width="2.4" height="1.8" fill="#0c0ede" fill-opacity="0.90"/></pattern>
<pattern id="sp82" patternUnits="userSpaceOnUse" x="1252.300" y="1119.500" width="44.050" height="1.800"><rect x="40.7" y="0.0" width="2.4" height="1.8" fill="#0a0bcc" fill-opacity="0.90"/><rect x="20.2" y="0.0" width="2.4" height="1.8" fill="#0a0bcc" fill-opacity="0.90"/><rect x="38.3" y="0.0" width="2.4" height="1.8" fill="#0a0bcc" fill-opacity="0.90"/></pattern>
<pattern id="sp83" patternUnits="userSpaceOnUse" x="1252.300" y="1127.600" width="44.050" height="1.800"><rect x="25.7" y="0.0" width="2.4" height="1.8" fill="#0a0bcc" fill-opacity="0.90"/><rect x="29.6" y="0.0" width="2.4" height="1.8" fill="#0a0bcc" fill-opacity="0.90"/><rect x="30.6" y="0.0" width="2.4" height="1.8" fill="#0a0bcc" fill-opacity="0.90"/></pattern>
<pattern id="sp84" patternUnits="userSpaceOnUse" x="1252.300" y="840.000" width="88.100" height="300.000"><rect x="68.6" y="97.2" width="2.2" height="1.8" fill="#70d4f2" fill-opacity="0.90"/><rect x="70.7" y="34.3" width="2.2" height="1.8" fill="#70d4f2" fill-opacity="0.90"/><rect x="47.9" y="182.3" width="2.2" height="1.8" fill="#70d4f2" fill-opacity="0.90"/><rect x="54.2" y="149.3" width="2.2" height="1.8" fill="#70d4f2" fill-opacity="0.90"/><rect x="2.4" y="285.4" width="2.2" height="1.8" fill="#70d4f2" fill-opacity="0.90"/><rect x="69.9" y="151.3" width="2.2" height="1.8" fill="#70d4f2" fill-opacity="0.90"/></pattern>
<linearGradient id="vg85" x1="0" y1="0" x2="0" y2="1"><stop offset="0.0000" stop-color="#700000"/><stop offset="0.0250" stop-color="#830000"/><stop offset="0.0500" stop-color="#960000"/><stop offset="0.0750" stop-color="#aa0202"/><stop offset="0.1000" stop-color="#be0505"/><stop offset="0.1250" stop-color="#ce0f08"/><stop offset="0.1500" stop-color="#de190a"/><stop offset="0.1750" stop-color="#e3300d"/><stop offset="0.2000" stop-color="#e8460f"/><stop offset="0.2250" stop-color="#ec5c12"/><stop offset="0.2500" stop-color="#f07314"/><stop offset="0.2750" stop-color="#f28a16"/><stop offset="0.3000" stop-color="#f5a019"/><stop offset="0.3250" stop-color="#f8b41b"/><stop offset="0.3500" stop-color="#fac81e"/><stop offset="0.3750" stop-color="#fada23"/><stop offset="0.4000" stop-color="#faec28"/><stop offset="0.4250" stop-color="#edf137"/><stop offset="0.4500" stop-color="#e1f646"/><stop offset="0.4750" stop-color="#d0f65b"/><stop offset="0.5000" stop-color="#bef670"/><stop offset="0.5250" stop-color="#acf796"/><stop offset="0.5500" stop-color="#9bf8bc"/><stop offset="0.5750" stop-color="#8ef6d8"/><stop offset="0.6000" stop-color="#80f4f4"/><stop offset="0.6250" stop-color="#78e4f3"/><stop offset="0.6500" stop-color="#70d4f2"/><stop offset="0.6750" stop-color="#66c0f2"/><stop offset="0.7000" stop-color="#5cacf2"/><stop offset="0.7250" stop-color="#4f95f1"/><stop offset="0.7500" stop-color="#427ef0"/><stop offset="0.7750" stop-color="#3668f0"/><stop offset="0.8000" stop-color="#2a52f0"/><stop offset="0.8250" stop-color="#203ef1"/><stop offset="0.8500" stop-color="#162af2"/><stop offset="0.8750" stop-color="#111ce8"/><stop offset="0.9000" stop-color="#0c0ede"/><stop offset="0.9250" stop-color="#0a0ac8"/><stop offset="0.9500" stop-color="#0806b2"/><stop offset="0.9750" stop-color="#0703a0"/><stop offset="1.0000" stop-color="#06008e"/></linearGradient></defs>
<rect x="0" y="0" width="1748" height="1222" fill="#fff"/>
<rect x="372.00" y="84.00" width="484.00" height="65.78" fill="#FAEFD3" />
<rect x="372.00" y="149.78" width="484.00" height="64.82" fill="#B9FA83" />
<rect x="372.00" y="213.70" width="484.00" height="6.20" fill="#111" />
<rect x="372.00" y="215.00" width="484.00" height="3.80" fill="#6CD0FA" />
<rect x="372.00" y="219.90" width="484.00" height="92.10" fill="#5E5BE0" />
<rect x="372.00" y="312.00" width="484.00" height="68.00" fill="#8000C8" />
<line x1="372.00" y1="149.78" x2="856.00" y2="149.78" stroke="#111" stroke-width="1.30" />
<line x1="372.00" y1="312.00" x2="856.00" y2="312.00" stroke="#111" stroke-width="1.30" />
<rect x="453.20" y="213.70" width="25.40" height="6.20" fill="#111" />
<rect x="454.20" y="215.00" width="23.40" height="3.80" fill="#E4000C" />
<rect x="574.60" y="213.70" width="13.20" height="6.20" fill="#111" />
<rect x="575.60" y="215.00" width="11.20" height="3.80" fill="#E4000C" />
<rect x="695.20" y="213.70" width="9.40" height="6.20" fill="#111" />
<rect x="696.20" y="215.00" width="7.40" height="3.80" fill="#E4000C" />
<rect x="372.00" y="84.00" width="484.00" height="296.00" fill="none" stroke="#1a1a1a" stroke-width="1.6"/>
<line x1="372.00" y1="76.00" x2="372.00" y2="84.00" stroke="#1a1a1a" stroke-width="1.30" />
<line x1="452.67" y1="76.00" x2="452.67" y2="84.00" stroke="#1a1a1a" stroke-width="1.30" />
<line x1="533.33" y1="76.00" x2="533.33" y2="84.00" stroke="#1a1a1a" stroke-width="1.30" />
<line x1="614.00" y1="76.00" x2="614.00" y2="84.00" stroke="#1a1a1a" stroke-width="1.30" />
<line x1="694.67" y1="76.00" x2="694.67" y2="84.00" stroke="#1a1a1a" stroke-width="1.30" />
<line x1="775.33" y1="76.00" x2="775.33" y2="84.00" stroke="#1a1a1a" stroke-width="1.30" />
<line x1="856.00" y1="76.00" x2="856.00" y2="84.00" stroke="#1a1a1a" stroke-width="1.30" />
<line x1="364.00" y1="84.00" x2="372.00" y2="84.00" stroke="#1a1a1a" stroke-width="1.30" />
<line x1="364.00" y1="149.78" x2="372.00" y2="149.78" stroke="#1a1a1a" stroke-width="1.30" />
<line x1="364.00" y1="215.56" x2="372.00" y2="215.56" stroke="#1a1a1a" stroke-width="1.30" />
<line x1="364.00" y1="281.33" x2="372.00" y2="281.33" stroke="#1a1a1a" stroke-width="1.30" />
<line x1="364.00" y1="347.11" x2="372.00" y2="347.11" stroke="#1a1a1a" stroke-width="1.30" />
<text transform="translate(366.50 72.20) scale(0.980 1.000)" text-anchor="start" style="font-family:'Liberation Sans',Arial,sans-serif;font-size:32.00px;fill:#000" >0</text>
<text transform="translate(446.30 72.20) scale(0.980 1.000)" text-anchor="start" style="font-family:'Liberation Sans',Arial,sans-serif;font-size:32.00px;fill:#000" >2</text>
<text transform="translate(526.60 72.20) scale(0.980 1.000)" text-anchor="start" style="font-family:'Liberation Sans',Arial,sans-serif;font-size:32.00px;fill:#000" >4</text>
<text transform="translate(607.00 72.20) scale(0.980 1.000)" text-anchor="start" style="font-family:'Liberation Sans',Arial,sans-serif;font-size:32.00px;fill:#000" >6</text>
<text transform="translate(687.50 72.20) scale(0.980 1.000)" text-anchor="start" style="font-family:'Liberation Sans',Arial,sans-serif;font-size:32.00px;fill:#000" >8</text>
<text transform="translate(767.50 72.20) scale(0.980 1.000)" text-anchor="start" style="font-family:'Liberation Sans',Arial,sans-serif;font-size:32.00px;fill:#000" >10</text>
<text transform="translate(847.60 72.20) scale(0.980 1.000)" text-anchor="start" style="font-family:'Liberation Sans',Arial,sans-serif;font-size:32.00px;fill:#000" >12</text>
<text transform="translate(356.00 95.50) scale(0.950 1.000)" text-anchor="end" style="font-family:'Liberation Sans',Arial,sans-serif;font-size:32.00px;fill:#000" >0</text>
<text transform="translate(356.00 161.28) scale(0.950 1.000)" text-anchor="end" style="font-family:'Liberation Sans',Arial,sans-serif;font-size:32.00px;fill:#000" >2</text>
<text transform="translate(356.00 227.06) scale(0.950 1.000)" text-anchor="end" style="font-family:'Liberation Sans',Arial,sans-serif;font-size:32.00px;fill:#000" >4</text>
<text transform="translate(356.00 292.83) scale(0.950 1.000)" text-anchor="end" style="font-family:'Liberation Sans',Arial,sans-serif;font-size:32.00px;fill:#000" >6</text>
<text transform="translate(356.00 358.61) scale(0.950 1.000)" text-anchor="end" style="font-family:'Liberation Sans',Arial,sans-serif;font-size:32.00px;fill:#000" >8</text>
<text transform="translate(594.50 32.60)" text-anchor="middle" style="font-family:'Liberation Sans',Arial,sans-serif;font-size:29.00px;fill:#000" >Length (km)</text>
<text transform="translate(329.40 221.40) rotate(-90)" text-anchor="middle" style="font-family:'Liberation Sans',Arial,sans-serif;font-size:31.50px;fill:#000" >Depth (×100 m)</text>
<text transform="translate(307.60 28.20)" text-anchor="start" style="font-family:'Liberation Sans',Arial,sans-serif;font-size:35.00px;fill:#000" >(a)</text>
<text transform="translate(729.60 128.40) scale(0.935 1.000)" text-anchor="start" style="font-family:'Liberation Serif','Times New Roman',serif;font-size:31.80px;fill:#000" >Layer-1</text>
<text transform="translate(729.60 190.80) scale(0.935 1.000)" text-anchor="start" style="font-family:'Liberation Serif','Times New Roman',serif;font-size:31.80px;fill:#000" >Layer-2</text>
<text transform="translate(427.80 191.80) scale(0.935 1.000)" text-anchor="start" style="font-family:'Liberation Serif','Times New Roman',serif;font-size:31.80px;fill:#000" >Layer-3</text>
<text transform="translate(590.80 190.80) scale(0.935 1.000)" text-anchor="start" style="font-family:'Liberation Serif','Times New Roman',serif;font-size:31.80px;fill:#000" >Gas-3</text>
<text transform="translate(425.60 279.00) scale(0.935 1.000)" text-anchor="start" style="font-family:'Liberation Serif','Times New Roman',serif;font-size:31.80px;fill:#000" >Gas-1</text>
<text transform="translate(540.20 279.00) scale(0.935 1.000)" text-anchor="start" style="font-family:'Liberation Serif','Times New Roman',serif;font-size:31.80px;fill:#000" >Gas-2</text>
<text transform="translate(729.60 279.60) scale(0.935 1.000)" text-anchor="start" style="font-family:'Liberation Serif','Times New Roman',serif;font-size:31.80px;fill:#000" >Layer-4</text>
<text transform="translate(729.60 357.70) scale(0.935 1.000)" text-anchor="start" style="font-family:'Liberation Serif','Times New Roman',serif;font-size:31.80px;fill:#000" >Layer-5</text>
<line x1="468.60" y1="255.50" x2="466.67" y2="228.08" stroke="#E00000" stroke-width="1.90" />
<polygon points="466.00,218.60 471.98,228.71 461.50,229.44" fill="#E00000"/>
<line x1="580.40" y1="255.00" x2="580.40" y2="228.10" stroke="#E00000" stroke-width="1.90" />
<polygon points="580.40,218.60 585.65,229.10 575.15,229.10" fill="#E00000"/>
<line x1="524.80" y1="184.00" x2="536.77" y2="208.09" stroke="#E00000" stroke-width="1.60" />
<polygon points="541.00,216.60 532.07,209.31 540.58,205.08" fill="#E00000"/>
<line x1="665.30" y1="184.40" x2="692.00" y2="209.50" stroke="#000" stroke-width="3.20" />
<path d="M699.3,217.2 L695.7,200.4 Q694.5,207.5 692.9,210.2 Q688.5,211.2 683.3,214.4 Z" fill="#000"/>
<g clip-path="url(#clip1)"><g filter="url(#f2)"><rect x="976.80" y="81.00" width="484.70" height="28.00" fill="url(#vg3)"/><rect x="976.80" y="115.70" width="484.70" height="2.20" fill="#EEA0A0" fill-opacity="0.40"/><rect x="976.80" y="127.50" width="484.70" height="8.00" fill="url(#vg4)"/><rect x="976.80" y="134.90" width="484.70" height="2.00" fill="#303030" fill-opacity="0.85"/><rect x="976.80" y="140.70" width="484.70" height="5.20" fill="#E00000"/><rect x="976.80" y="147.40" width="484.70" height="3.00" fill="#101010"/><rect x="976.80" y="151.80" width="484.70" height="3.40" fill="#909090" fill-opacity="0.70"/><rect x="976.80" y="160.30" width="484.70" height="4.60" fill="#EE8C8C" fill-opacity="0.45"/><rect x="976.80" y="171.70" width="484.70" height="1.60" fill="#A0A0A0" fill-opacity="0.50"/><rect x="976.80" y="181.70" width="484.70" height="3.60" fill="#F2A8A8" fill-opacity="0.40"/><rect x="976.80" y="190.10" width="484.70" height="1.60" fill="#B8B8B8" fill-opacity="0.40"/><rect x="976.80" y="197.70" width="484.70" height="1.60" fill="#C8C8C8" fill-opacity="0.30"/><rect x="976.80" y="191.70" width="484.70" height="1.60" fill="#A0A0A0" fill-opacity="0.35"/><rect x="976.80" y="212.60" width="51.60" height="3.40" fill="#707070" fill-opacity="0.85"/><rect x="976.80" y="219.30" width="51.60" height="5.60" fill="#E00000"/><rect x="976.80" y="225.90" width="51.60" height="5.00" fill="#0a0a0a"/><rect x="976.80" y="233.10" width="51.60" height="5.00" fill="#E86060" fill-opacity="0.55"/><rect x="976.80" y="242.10" width="51.60" height="1.80" fill="#909090" fill-opacity="0.60"/><rect x="976.80" y="248.80" width="51.60" height="2.00" fill="#EE9090" fill-opacity="0.40"/><rect x="976.80" y="256.00" width="51.60" height="2.00" fill="#D0D0D0" fill-opacity="0.30"/><rect x="1070.00" y="212.60" width="154.80" height="3.40" fill="#707070" fill-opacity="0.85"/><rect x="1070.00" y="219.30" width="154.80" height="5.60" fill="#E00000"/><rect x="1070.00" y="225.90" width="154.80" height="5.00" fill="#0a0a0a"/><rect x="1070.00" y="233.10" width="154.80" height="5.00" fill="#E86060" fill-opacity="0.55"/><rect x="1070.00" y="242.10" width="154.80" height="1.80" fill="#909090" fill-opacity="0.60"/><rect x="1070.00" y="248.80" width="154.80" height="2.00" fill="#EE9090" fill-opacity="0.40"/><rect x="1070.00" y="256.00" width="154.80" height="2.00" fill="#D0D0D0" fill-opacity="0.30"/><rect x="1245.60" y="212.60" width="175.40" height="3.40" fill="#707070" fill-opacity="0.85"/><rect x="1245.60" y="219.30" width="175.40" height="5.60" fill="#E00000"/><rect x="1245.60" y="225.90" width="175.40" height="5.00" fill="#0a0a0a"/><rect x="1245.60" y="233.10" width="175.40" height="5.00" fill="#E86060" fill-opacity="0.55"/><rect x="1245.60" y="242.10" width="175.40" height="1.80" fill="#909090" fill-opacity="0.60"/><rect x="1245.60" y="248.80" width="175.40" height="2.00" fill="#EE9090" fill-opacity="0.40"/><rect x="1245.60" y="256.00" width="175.40" height="2.00" fill="#D0D0D0" fill-opacity="0.30"/><rect x="1436.00" y="212.60" width="25.50" height="3.40" fill="#707070" fill-opacity="0.85"/><rect x="1436.00" y="219.30" width="25.50" height="5.60" fill="#E00000"/><rect x="1436.00" y="225.90" width="25.50" height="5.00" fill="#0a0a0a"/><rect x="1436.00" y="233.10" width="25.50" height="5.00" fill="#E86060" fill-opacity="0.55"/><rect x="1436.00" y="242.10" width="25.50" height="1.80" fill="#909090" fill-opacity="0.60"/><rect x="1436.00" y="248.80" width="25.50" height="2.00" fill="#EE9090" fill-opacity="0.40"/><rect x="1436.00" y="256.00" width="25.50" height="2.00" fill="#D0D0D0" fill-opacity="0.30"/><rect x="1045.04" y="192.20" width="36.96" height="2.60" fill="#A8A8A8" fill-opacity="0.55"/><rect x="1016.40" y="195.00" width="28.64" height="2.40" fill="#909090" fill-opacity="0.55"/><rect x="1047.12" y="198.30" width="34.88" height="1.80" fill="#E89090" fill-opacity="0.50"/><rect x="1014.40" y="202.00" width="67.60" height="2.00" fill="#B0B0B0" fill-opacity="0.50"/><rect x="1030.40" y="208.50" width="37.60" height="3.00" fill="#EE9090" fill-opacity="0.45"/><rect x="1028.40" y="216.60" width="41.60" height="2.60" fill="#202020" fill-opacity="0.85"/><rect x="1028.40" y="221.80" width="41.60" height="5.20" fill="#E00000"/><rect x="1028.40" y="228.60" width="41.60" height="4.00" fill="#050505"/><rect x="1028.40" y="234.00" width="41.60" height="6.00" fill="#E00000" fill-opacity="0.85"/><rect x="1028.40" y="242.70" width="41.60" height="2.60" fill="#303030" fill-opacity="0.80"/><rect x="1028.40" y="248.90" width="41.60" height="3.00" fill="#E03030" fill-opacity="0.70"/><rect x="1028.40" y="255.25" width="41.60" height="1.50" fill="#909090" fill-opacity="0.40"/><rect x="1028.40" y="259.25" width="41.60" height="1.50" fill="#E8A0A0" fill-opacity="0.40"/><rect x="1233.12" y="192.20" width="24.48" height="2.60" fill="#A8A8A8" fill-opacity="0.55"/><rect x="1212.80" y="195.00" width="20.32" height="2.40" fill="#909090" fill-opacity="0.55"/><rect x="1234.16" y="198.30" width="23.44" height="1.80" fill="#E89090" fill-opacity="0.50"/><rect x="1210.80" y="202.00" width="46.80" height="2.00" fill="#B0B0B0" fill-opacity="0.50"/><rect x="1226.80" y="208.50" width="16.80" height="3.00" fill="#EE9090" fill-opacity="0.45"/><rect x="1224.80" y="216.60" width="20.80" height="2.60" fill="#202020" fill-opacity="0.85"/><rect x="1224.80" y="221.80" width="20.80" height="5.20" fill="#E00000"/><rect x="1224.80" y="228.60" width="20.80" height="4.00" fill="#050505"/><rect x="1224.80" y="234.00" width="20.80" height="6.00" fill="#E00000" fill-opacity="0.85"/><rect x="1224.80" y="242.70" width="20.80" height="2.60" fill="#303030" fill-opacity="0.80"/><rect x="1224.80" y="248.90" width="20.80" height="3.00" fill="#E03030" fill-opacity="0.70"/><rect x="1224.80" y="255.25" width="20.80" height="1.50" fill="#909090" fill-opacity="0.40"/><rect x="1224.80" y="259.25" width="20.80" height="1.50" fill="#E8A0A0" fill-opacity="0.40"/><rect x="1427.00" y="192.20" width="21.00" height="2.60" fill="#A8A8A8" fill-opacity="0.55"/><rect x="1409.00" y="195.00" width="18.00" height="2.40" fill="#909090" fill-opacity="0.55"/><rect x="1427.75" y="198.30" width="20.25" height="1.80" fill="#E89090" fill-opacity="0.50"/><rect x="1407.00" y="202.00" width="41.00" height="2.00" fill="#B0B0B0" fill-opacity="0.50"/><rect x="1423.00" y="208.50" width="11.00" height="3.00" fill="#EE9090" fill-opacity="0.45"/><rect x="1421.00" y="216.60" width="15.00" height="2.60" fill="#202020" fill-opacity="0.85"/><rect x="1421.00" y="221.80" width="15.00" height="5.20" fill="#E00000"/><rect x="1421.00" y="228.60" width="15.00" height="4.00" fill="#050505"/><rect x="1421.00" y="234.00" width="15.00" height="6.00" fill="#E00000" fill-opacity="0.85"/><rect x="1421.00" y="242.70" width="15.00" height="2.60" fill="#303030" fill-opacity="0.80"/><rect x="1421.00" y="248.90" width="15.00" height="3.00" fill="#E03030" fill-opacity="0.70"/><rect x="1421.00" y="255.25" width="15.00" height="1.50" fill="#909090" fill-opacity="0.40"/><rect x="1421.00" y="259.25" width="15.00" height="1.50" fill="#E8A0A0" fill-opacity="0.40"/><rect x="976.80" y="290.80" width="51.60" height="4.00" fill="#BBBBBB" fill-opacity="0.80"/><rect x="976.80" y="306.00" width="51.60" height="5.00" fill="#A8A8A8" fill-opacity="0.85"/><rect x="976.80" y="321.20" width="51.60" height="3.60" fill="#E07070" fill-opacity="0.75"/><rect x="976.80" y="327.00" width="51.60" height="3.40" fill="#505050" fill-opacity="0.90"/><rect x="976.80" y="332.60" width="51.60" height="2.60" fill="#E06060" fill-opacity="0.80"/><rect x="976.80" y="336.70" width="51.60" height="1.80" fill="#A0A0A0" fill-opacity="0.60"/><rect x="1070.00" y="290.80" width="154.80" height="4.00" fill="#BBBBBB" fill-opacity="0.80"/><rect x="1070.00" y="306.00" width="154.80" height="5.00" fill="#A8A8A8" fill-opacity="0.85"/><rect x="1070.00" y="321.20" width="154.80" height="3.60" fill="#E07070" fill-opacity="0.75"/><rect x="1070.00" y="327.00" width="154.80" height="3.40" fill="#505050" fill-opacity="0.90"/><rect x="1070.00" y="332.60" width="154.80" height="2.60" fill="#E06060" fill-opacity="0.80"/><rect x="1070.00" y="336.70" width="154.80" height="1.80" fill="#A0A0A0" fill-opacity="0.60"/><rect x="1245.60" y="290.80" width="175.40" height="4.00" fill="#BBBBBB" fill-opacity="0.80"/><rect x="1245.60" y="306.00" width="175.40" height="5.00" fill="#A8A8A8" fill-opacity="0.85"/><rect x="1245.60" y="321.20" width="175.40" height="3.60" fill="#E07070" fill-opacity="0.75"/><rect x="1245.60" y="327.00" width="175.40" height="3.40" fill="#505050" fill-opacity="0.90"/><rect x="1245.60" y="332.60" width="175.40" height="2.60" fill="#E06060" fill-opacity="0.80"/><rect x="1245.60" y="336.70" width="175.40" height="1.80" fill="#A0A0A0" fill-opacity="0.60"/><rect x="1436.00" y="290.80" width="25.50" height="4.00" fill="#BBBBBB" fill-opacity="0.80"/><rect x="1436.00" y="306.00" width="25.50" height="5.00" fill="#A8A8A8" fill-opacity="0.85"/><rect x="1436.00" y="321.20" width="25.50" height="3.60" fill="#E07070" fill-opacity="0.75"/><rect x="1436.00" y="327.00" width="25.50" height="3.40" fill="#505050" fill-opacity="0.90"/><rect x="1436.00" y="332.60" width="25.50" height="2.60" fill="#E06060" fill-opacity="0.80"/><rect x="1436.00" y="336.70" width="25.50" height="1.80" fill="#A0A0A0" fill-opacity="0.60"/><rect x="1028.40" y="288.00" width="41.60" height="4.00" fill="#AAAAAA" fill-opacity="0.80"/><rect x="1028.40" y="302.60" width="41.60" height="4.00" fill="#A0A0A0" fill-opacity="0.80"/><rect x="1028.40" y="311.10" width="41.60" height="1.80" fill="#E06060" fill-opacity="0.60"/><rect x="1028.40" y="322.10" width="41.60" height="3.60" fill="#E06060" fill-opacity="0.80"/><rect x="1028.40" y="327.50" width="41.60" height="3.00" fill="#909090" fill-opacity="0.80"/><rect x="1028.40" y="332.80" width="41.60" height="2.40" fill="#F0A0A0" fill-opacity="0.70"/><rect x="1028.40" y="337.10" width="41.60" height="2.40" fill="#909090" fill-opacity="0.70"/><rect x="1224.80" y="288.00" width="20.80" height="4.00" fill="#AAAAAA" fill-opacity="0.80"/><rect x="1224.80" y="302.60" width="20.80" height="4.00" fill="#A0A0A0" fill-opacity="0.80"/><rect x="1224.80" y="311.10" width="20.80" height="1.80" fill="#E06060" fill-opacity="0.60"/><rect x="1224.80" y="322.10" width="20.80" height="3.60" fill="#E06060" fill-opacity="0.80"/><rect x="1224.80" y="327.50" width="20.80" height="3.00" fill="#909090" fill-opacity="0.80"/><rect x="1224.80" y="332.80" width="20.80" height="2.40" fill="#F0A0A0" fill-opacity="0.70"/><rect x="1224.80" y="337.10" width="20.80" height="2.40" fill="#909090" fill-opacity="0.70"/><rect x="1421.00" y="288.00" width="15.00" height="4.00" fill="#AAAAAA" fill-opacity="0.80"/><rect x="1421.00" y="302.60" width="15.00" height="4.00" fill="#A0A0A0" fill-opacity="0.80"/><rect x="1421.00" y="311.10" width="15.00" height="1.80" fill="#E06060" fill-opacity="0.60"/><rect x="1421.00" y="322.10" width="15.00" height="3.60" fill="#E06060" fill-opacity="0.80"/><rect x="1421.00" y="327.50" width="15.00" height="3.00" fill="#909090" fill-opacity="0.80"/><rect x="1421.00" y="332.80" width="15.00" height="2.40" fill="#F0A0A0" fill-opacity="0.70"/><rect x="1421.00" y="337.10" width="15.00" height="2.40" fill="#909090" fill-opacity="0.70"/><rect x="976.80" y="298.25" width="484.70" height="1.50" fill="#F0B0B0" fill-opacity="0.35"/><rect x="976.80" y="340.30" width="484.70" height="1.40" fill="#F0B0B0" fill-opacity="0.40"/><rect x="976.80" y="343.60" width="484.70" height="1.60" fill="#C0C0C0" fill-opacity="0.45"/><rect x="976.80" y="346.60" width="484.70" height="1.40" fill="#F0C0C0" fill-opacity="0.35"/><rect x="976.80" y="350.80" width="484.70" height="1.40" fill="#D8D8D8" fill-opacity="0.35"/><rect x="976.80" y="354.80" width="484.70" height="1.40" fill="#E0E0E0" fill-opacity="0.30"/></g></g>
<rect x="976.80" y="79.90" width="484.70" height="296.70" fill="none" stroke="#1a1a1a" stroke-width="1.6"/>
<line x1="976.80" y1="72.90" x2="976.80" y2="79.90" stroke="#1a1a1a" stroke-width="1.30" />
<line x1="1055.40" y1="72.90" x2="1055.40" y2="79.90" stroke="#1a1a1a" stroke-width="1.30" />
<line x1="1134.00" y1="72.90" x2="1134.00" y2="79.90" stroke="#1a1a1a" stroke-width="1.30" />
<line x1="1212.60" y1="72.90" x2="1212.60" y2="79.90" stroke="#1a1a1a" stroke-width="1.30" />
<line x1="1291.20" y1="72.90" x2="1291.20" y2="79.90" stroke="#1a1a1a" stroke-width="1.30" />
<line x1="1369.80" y1="72.90" x2="1369.80" y2="79.90" stroke="#1a1a1a" stroke-width="1.30" />
<line x1="1448.40" y1="72.90" x2="1448.40" y2="79.90" stroke="#1a1a1a" stroke-width="1.30" />
<line x1="969.30" y1="81.00" x2="976.80" y2="81.00" stroke="#1a1a1a" stroke-width="1.30" />
<line x1="969.30" y1="139.00" x2="976.80" y2="139.00" stroke="#1a1a1a" stroke-width="1.30" />
<line x1="969.30" y1="197.00" x2="976.80" y2="197.00" stroke="#1a1a1a" stroke-width="1.30" />
<line x1="969.30" y1="255.00" x2="976.80" y2="255.00" stroke="#1a1a1a" stroke-width="1.30" />
<line x1="969.30" y1="313.00" x2="976.80" y2="313.00" stroke="#1a1a1a" stroke-width="1.30" />
<line x1="969.30" y1="371.00" x2="976.80" y2="371.00" stroke="#1a1a1a" stroke-width="1.30" />
<text transform="translate(967.00 71.00) scale(0.990 1.000)" text-anchor="start" style="font-family:'Liberation Sans',Arial,sans-serif;font-size:32.00px;fill:#000" >0</text>
<text transform="translate(1047.80 71.00) scale(0.990 1.000)" text-anchor="start" style="font-family:'Liberation Sans',Arial,sans-serif;font-size:32.00px;fill:#000" >30</text>
<text transform="translate(1126.60 71.00) scale(0.990 1.000)" text-anchor="start" style="font-family:'Liberation Sans',Arial,sans-serif;font-size:32.00px;fill:#000" >60</text>
<text transform="translate(1207.60 71.00) scale(0.990 1.000)" text-anchor="start" style="font-family:'Liberation Sans',Arial,sans-serif;font-size:32.00px;fill:#000" >90</text>
<text transform="translate(1288.80 71.00) scale(0.990 1.000)" text-anchor="start" style="font-family:'Liberation Sans',Arial,sans-serif;font-size:32.00px;fill:#000" >120</text>
<text transform="translate(1369.20 71.00) scale(0.990 1.000)" text-anchor="start" style="font-family:'Liberation Sans',Arial,sans-serif;font-size:32.00px;fill:#000" >150</text>
<text transform="translate(1449.60 71.00) scale(0.990 1.000)" text-anchor="start" style="font-family:'Liberation Sans',Arial,sans-serif;font-size:32.00px;fill:#000" >180</text>
<text transform="translate(962.50 93.90)" text-anchor="end" style="font-family:'Liberation Sans',Arial,sans-serif;font-size:32.00px;fill:#000" >0</text>
<text transform="translate(962.50 151.90)" text-anchor="end" style="font-family:'Liberation Sans',Arial,sans-serif;font-size:32.00px;fill:#000" >200</text>
<text transform="translate(962.50 209.90)" text-anchor="end" style="font-family:'Liberation Sans',Arial,sans-serif;font-size:32.00px;fill:#000" >400</text>
<text transform="translate(962.50 267.90)" text-anchor="end" style="font-family:'Liberation Sans',Arial,sans-serif;font-size:32.00px;fill:#000" >600</text>
<text transform="translate(962.50 325.90)" text-anchor="end" style="font-family:'Liberation Sans',Arial,sans-serif;font-size:32.00px;fill:#000" >800</text>
<text transform="translate(962.50 383.90)" text-anchor="end" style="font-family:'Liberation Sans',Arial,sans-serif;font-size:32.00px;fill:#000" >1000</text>
<text transform="translate(1216.60 38.10)" text-anchor="middle" style="font-family:'Liberation Sans',Arial,sans-serif;font-size:29.00px;fill:#000" >Trace</text>
<text transform="translate(899.70 222.80) rotate(-90)" text-anchor="middle" style="font-family:'Liberation Sans',Arial,sans-serif;font-size:33.00px;fill:#000" >Time (ms)</text>
<text transform="translate(880.80 28.20)" text-anchor="start" style="font-family:'Liberation Sans',Arial,sans-serif;font-size:35.00px;fill:#000" >(b)</text>
<g clip-path="url(#hc11)"><rect x="92.40" y="427.50" width="409.60" height="316.70" fill="#06008e"/><rect x="92.40" y="427.50" width="409.60" height="316.70" fill="url(#vg12)" /><rect x="92.40" y="478.00" width="399.60" height="34.00" fill="url(#pt14)" filter="url(#hb6)"/><rect x="92.40" y="564.00" width="409.60" height="37.00" fill="url(#pt16)" filter="url(#hb6)"/><rect x="493.00" y="427.50" width="11.00" height="132.50" fill="url(#vg17)" filter="url(#hb5)"/><rect x="139.60" y="552.00" width="32.10" height="80.00" fill="url(#vg18)" filter="url(#hb5)"/><rect x="303.80" y="552.00" width="17.60" height="80.00" fill="url(#vg19)" filter="url(#hb5)"/><rect x="470.00" y="552.00" width="12.00" height="80.00" rx="4.00" fill="url(#vg20)" filter="url(#hb5)"/></g>
<line x1="92.40" y1="427.80" x2="502.00" y2="427.80" stroke="#555" stroke-width="1.00" stroke-opacity="0.8"/>
<line x1="92.40" y1="741.20" x2="92.40" y2="744.20" stroke="#222" stroke-width="0.80" stroke-opacity="0.45"/>
<line x1="92.40" y1="427.50" x2="92.40" y2="430.50" stroke="#222" stroke-width="0.80" stroke-opacity="0.45"/>
<line x1="136.45" y1="741.20" x2="136.45" y2="744.20" stroke="#222" stroke-width="0.80" stroke-opacity="0.45"/>
<line x1="136.45" y1="427.50" x2="136.45" y2="430.50" stroke="#222" stroke-width="0.80" stroke-opacity="0.45"/>
<line x1="180.50" y1="741.20" x2="180.50" y2="744.20" stroke="#222" stroke-width="0.80" stroke-opacity="0.45"/>
<line x1="180.50" y1="427.50" x2="180.50" y2="430.50" stroke="#222" stroke-width="0.80" stroke-opacity="0.45"/>
<line x1="224.55" y1="741.20" x2="224.55" y2="744.20" stroke="#222" stroke-width="0.80" stroke-opacity="0.45"/>
<line x1="224.55" y1="427.50" x2="224.55" y2="430.50" stroke="#222" stroke-width="0.80" stroke-opacity="0.45"/>
<line x1="268.60" y1="741.20" x2="268.60" y2="744.20" stroke="#222" stroke-width="0.80" stroke-opacity="0.45"/>
<line x1="268.60" y1="427.50" x2="268.60" y2="430.50" stroke="#222" stroke-width="0.80" stroke-opacity="0.45"/>
<line x1="312.65" y1="741.20" x2="312.65" y2="744.20" stroke="#222" stroke-width="0.80" stroke-opacity="0.45"/>
<line x1="312.65" y1="427.50" x2="312.65" y2="430.50" stroke="#222" stroke-width="0.80" stroke-opacity="0.45"/>
<line x1="356.70" y1="741.20" x2="356.70" y2="744.20" stroke="#222" stroke-width="0.80" stroke-opacity="0.45"/>
<line x1="356.70" y1="427.50" x2="356.70" y2="430.50" stroke="#222" stroke-width="0.80" stroke-opacity="0.45"/>
<line x1="400.75" y1="741.20" x2="400.75" y2="744.20" stroke="#222" stroke-width="0.80" stroke-opacity="0.45"/>
<line x1="400.75" y1="427.50" x2="400.75" y2="430.50" stroke="#222" stroke-width="0.80" stroke-opacity="0.45"/>
<line x1="444.80" y1="741.20" x2="444.80" y2="744.20" stroke="#222" stroke-width="0.80" stroke-opacity="0.45"/>
<line x1="444.80" y1="427.50" x2="444.80" y2="430.50" stroke="#222" stroke-width="0.80" stroke-opacity="0.45"/>
<line x1="488.85" y1="741.20" x2="488.85" y2="744.20" stroke="#222" stroke-width="0.80" stroke-opacity="0.45"/>
<line x1="488.85" y1="427.50" x2="488.85" y2="430.50" stroke="#222" stroke-width="0.80" stroke-opacity="0.45"/>
<line x1="92.40" y1="429.10" x2="95.40" y2="429.10" stroke="#222" stroke-width="0.80" stroke-opacity="0.45"/>
<line x1="499.00" y1="429.10" x2="502.00" y2="429.10" stroke="#222" stroke-width="0.80" stroke-opacity="0.45"/>
<line x1="92.40" y1="489.18" x2="95.40" y2="489.18" stroke="#222" stroke-width="0.80" stroke-opacity="0.45"/>
<line x1="499.00" y1="489.18" x2="502.00" y2="489.18" stroke="#222" stroke-width="0.80" stroke-opacity="0.45"/>
<line x1="92.40" y1="549.26" x2="95.40" y2="549.26" stroke="#222" stroke-width="0.80" stroke-opacity="0.45"/>
<line x1="499.00" y1="549.26" x2="502.00" y2="549.26" stroke="#222" stroke-width="0.80" stroke-opacity="0.45"/>
<line x1="92.40" y1="609.34" x2="95.40" y2="609.34" stroke="#222" stroke-width="0.80" stroke-opacity="0.45"/>
<line x1="499.00" y1="609.34" x2="502.00" y2="609.34" stroke="#222" stroke-width="0.80" stroke-opacity="0.45"/>
<line x1="92.40" y1="669.42" x2="95.40" y2="669.42" stroke="#222" stroke-width="0.80" stroke-opacity="0.45"/>
<line x1="499.00" y1="669.42" x2="502.00" y2="669.42" stroke="#222" stroke-width="0.80" stroke-opacity="0.45"/>
<line x1="92.40" y1="729.50" x2="95.40" y2="729.50" stroke="#222" stroke-width="0.80" stroke-opacity="0.45"/>
<line x1="499.00" y1="729.50" x2="502.00" y2="729.50" stroke="#222" stroke-width="0.80" stroke-opacity="0.45"/>
<text transform="translate(87.60 440.90)" text-anchor="end" style="font-family:'Liberation Sans',Arial,sans-serif;font-size:29.00px;fill:#000" >0</text>
<text transform="translate(87.60 500.98)" text-anchor="end" style="font-family:'Liberation Sans',Arial,sans-serif;font-size:29.00px;fill:#000" >200</text>
<text transform="translate(87.60 561.06)" text-anchor="end" style="font-family:'Liberation Sans',Arial,sans-serif;font-size:29.00px;fill:#000" >400</text>
<text transform="translate(87.60 621.14)" text-anchor="end" style="font-family:'Liberation Sans',Arial,sans-serif;font-size:29.00px;fill:#000" >600</text>
<text transform="translate(87.60 681.22)" text-anchor="end" style="font-family:'Liberation Sans',Arial,sans-serif;font-size:29.00px;fill:#000" >800</text>
<text transform="translate(87.60 741.30)" text-anchor="end" style="font-family:'Liberation Sans',Arial,sans-serif;font-size:29.00px;fill:#000" >1000</text>
<text transform="translate(90.90 775.20) scale(0.800 1.000)" text-anchor="middle" style="font-family:'Liberation Sans',Arial,sans-serif;font-size:29.30px;fill:#000" >0</text>
<text transform="translate(134.95 775.20) scale(0.800 1.000)" text-anchor="middle" style="font-family:'Liberation Sans',Arial,sans-serif;font-size:29.30px;fill:#000" >20</text>
<text transform="translate(179.00 775.20) scale(0.800 1.000)" text-anchor="middle" style="font-family:'Liberation Sans',Arial,sans-serif;font-size:29.30px;fill:#000" >40</text>
<text transform="translate(223.05 775.20) scale(0.800 1.000)" text-anchor="middle" style="font-family:'Liberation Sans',Arial,sans-serif;font-size:29.30px;fill:#000" >60</text>
<text transform="translate(267.10 775.20) scale(0.800 1.000)" text-anchor="middle" style="font-family:'Liberation Sans',Arial,sans-serif;font-size:29.30px;fill:#000" >80</text>
<text transform="translate(309.15 775.20) scale(0.800 1.000)" text-anchor="middle" style="font-family:'Liberation Sans',Arial,sans-serif;font-size:29.30px;fill:#000" >100</text>
<text transform="translate(353.20 775.20) scale(0.800 1.000)" text-anchor="middle" style="font-family:'Liberation Sans',Arial,sans-serif;font-size:29.30px;fill:#000" >120</text>
<text transform="translate(397.25 775.20) scale(0.800 1.000)" text-anchor="middle" style="font-family:'Liberation Sans',Arial,sans-serif;font-size:29.30px;fill:#000" >140</text>
<text transform="translate(441.30 775.20) scale(0.800 1.000)" text-anchor="middle" style="font-family:'Liberation Sans',Arial,sans-serif;font-size:29.30px;fill:#000" >160</text>
<text transform="translate(485.35 775.20) scale(0.800 1.000)" text-anchor="middle" style="font-family:'Liberation Sans',Arial,sans-serif;font-size:29.30px;fill:#000" >180</text>
<text transform="translate(291.40 811.20)" text-anchor="middle" style="font-family:'Liberation Sans',Arial,sans-serif;font-size:28.50px;fill:#000" >Trace</text>
<text transform="translate(24.40 589.65) rotate(-90)" text-anchor="middle" style="font-family:'Liberation Sans',Arial,sans-serif;font-size:29.00px;fill:#000" >Time (ms)</text>
<rect x="513.90" y="427.90" width="16.70" height="317.10" fill="url(#vg21)" stroke="#888" stroke-width="0.8"/>
<line x1="513.90" y1="429.80" x2="516.40" y2="429.80" stroke="#333" stroke-width="0.90" stroke-opacity="0.55"/>
<line x1="528.10" y1="429.80" x2="530.60" y2="429.80" stroke="#333" stroke-width="0.90" stroke-opacity="0.55"/>
<line x1="513.90" y1="455.10" x2="516.40" y2="455.10" stroke="#333" stroke-width="0.90" stroke-opacity="0.55"/>
<line x1="528.10" y1="455.10" x2="530.60" y2="455.10" stroke="#333" stroke-width="0.90" stroke-opacity="0.55"/>
<line x1="513.90" y1="480.40" x2="516.40" y2="480.40" stroke="#333" stroke-width="0.90" stroke-opacity="0.55"/>
<line x1="528.10" y1="480.40" x2="530.60" y2="480.40" stroke="#333" stroke-width="0.90" stroke-opacity="0.55"/>
<line x1="513.90" y1="505.70" x2="516.40" y2="505.70" stroke="#333" stroke-width="0.90" stroke-opacity="0.55"/>
<line x1="528.10" y1="505.70" x2="530.60" y2="505.70" stroke="#333" stroke-width="0.90" stroke-opacity="0.55"/>
<line x1="513.90" y1="531.00" x2="516.40" y2="531.00" stroke="#333" stroke-width="0.90" stroke-opacity="0.55"/>
<line x1="528.10" y1="531.00" x2="530.60" y2="531.00" stroke="#333" stroke-width="0.90" stroke-opacity="0.55"/>
<line x1="513.90" y1="556.30" x2="516.40" y2="556.30" stroke="#333" stroke-width="0.90" stroke-opacity="0.55"/>
<line x1="528.10" y1="556.30" x2="530.60" y2="556.30" stroke="#333" stroke-width="0.90" stroke-opacity="0.55"/>
<line x1="513.90" y1="581.60" x2="516.40" y2="581.60" stroke="#333" stroke-width="0.90" stroke-opacity="0.55"/>
<line x1="528.10" y1="581.60" x2="530.60" y2="581.60" stroke="#333" stroke-width="0.90" stroke-opacity="0.55"/>
<line x1="513.90" y1="606.90" x2="516.40" y2="606.90" stroke="#333" stroke-width="0.90" stroke-opacity="0.55"/>
<line x1="528.10" y1="606.90" x2="530.60" y2="606.90" stroke="#333" stroke-width="0.90" stroke-opacity="0.55"/>
<line x1="513.90" y1="632.20" x2="516.40" y2="632.20" stroke="#333" stroke-width="0.90" stroke-opacity="0.55"/>
<line x1="528.10" y1="632.20" x2="530.60" y2="632.20" stroke="#333" stroke-width="0.90" stroke-opacity="0.55"/>
<line x1="513.90" y1="657.50" x2="516.40" y2="657.50" stroke="#333" stroke-width="0.90" stroke-opacity="0.55"/>
<line x1="528.10" y1="657.50" x2="530.60" y2="657.50" stroke="#333" stroke-width="0.90" stroke-opacity="0.55"/>
<line x1="513.90" y1="682.80" x2="516.40" y2="682.80" stroke="#333" stroke-width="0.90" stroke-opacity="0.55"/>
<line x1="528.10" y1="682.80" x2="530.60" y2="682.80" stroke="#333" stroke-width="0.90" stroke-opacity="0.55"/>
<line x1="513.90" y1="708.10" x2="516.40" y2="708.10" stroke="#333" stroke-width="0.90" stroke-opacity="0.55"/>
<line x1="528.10" y1="708.10" x2="530.60" y2="708.10" stroke="#333" stroke-width="0.90" stroke-opacity="0.55"/>
<line x1="513.90" y1="733.40" x2="516.40" y2="733.40" stroke="#333" stroke-width="0.90" stroke-opacity="0.55"/>
<line x1="528.10" y1="733.40" x2="530.60" y2="733.40" stroke="#333" stroke-width="0.90" stroke-opacity="0.55"/>
<text transform="translate(541.00 439.95) scale(0.935 1.000)" text-anchor="start" style="font-family:'Liberation Sans',Arial,sans-serif;font-size:30.00px;fill:#000" >120</text>
<text transform="translate(541.00 490.55) scale(0.935 1.000)" text-anchor="start" style="font-family:'Liberation Sans',Arial,sans-serif;font-size:30.00px;fill:#000" >100</text>
<text transform="translate(541.00 541.15) scale(0.935 1.000)" text-anchor="start" style="font-family:'Liberation Sans',Arial,sans-serif;font-size:30.00px;fill:#000" >80</text>
<text transform="translate(541.00 591.75) scale(0.935 1.000)" text-anchor="start" style="font-family:'Liberation Sans',Arial,sans-serif;font-size:30.00px;fill:#000" >60</text>
<text transform="translate(541.00 642.35) scale(0.935 1.000)" text-anchor="start" style="font-family:'Liberation Sans',Arial,sans-serif;font-size:30.00px;fill:#000" >40</text>
<text transform="translate(541.00 692.95) scale(0.935 1.000)" text-anchor="start" style="font-family:'Liberation Sans',Arial,sans-serif;font-size:30.00px;fill:#000" >20</text>
<text transform="translate(541.00 743.55) scale(0.935 1.000)" text-anchor="start" style="font-family:'Liberation Sans',Arial,sans-serif;font-size:30.00px;fill:#000" >0</text>
<text transform="translate(102.00 475.00)" text-anchor="start" style="font-family:'Liberation Sans',Arial,sans-serif;font-size:48.00px;fill:#fff" >(c)</text>
<text transform="translate(159.60 472.70) scale(1.020 1.000)" text-anchor="start" style="font-family:'Liberation Sans',Arial,sans-serif;font-size:35.00px;fill:#fff" >CWT-25Hz</text>
<g clip-path="url(#hc22)"><rect x="93.20" y="834.40" width="409.20" height="316.60" fill="#06008e"/><rect x="93.20" y="834.40" width="409.20" height="316.60" fill="url(#vg23)" /><rect x="494.00" y="834.40" width="11.00" height="125.60" fill="url(#vg24)" filter="url(#hb5)"/><rect x="139.50" y="950.00" width="33.30" height="90.00" fill="url(#vg25)" filter="url(#hb5)"/><rect x="305.20" y="950.00" width="15.80" height="90.00" fill="url(#vg26)" filter="url(#hb5)"/><rect x="470.30" y="950.00" width="11.90" height="90.00" rx="4.00" fill="url(#vg27)" filter="url(#hb5)"/></g>
<line x1="93.20" y1="834.70" x2="502.40" y2="834.70" stroke="#555" stroke-width="1.00" stroke-opacity="0.8"/>
<line x1="93.20" y1="1148.00" x2="93.20" y2="1151.00" stroke="#222" stroke-width="0.80" stroke-opacity="0.45"/>
<line x1="93.20" y1="834.40" x2="93.20" y2="837.40" stroke="#222" stroke-width="0.80" stroke-opacity="0.45"/>
<line x1="137.25" y1="1148.00" x2="137.25" y2="1151.00" stroke="#222" stroke-width="0.80" stroke-opacity="0.45"/>
<line x1="137.25" y1="834.40" x2="137.25" y2="837.40" stroke="#222" stroke-width="0.80" stroke-opacity="0.45"/>
<line x1="181.30" y1="1148.00" x2="181.30" y2="1151.00" stroke="#222" stroke-width="0.80" stroke-opacity="0.45"/>
<line x1="181.30" y1="834.40" x2="181.30" y2="837.40" stroke="#222" stroke-width="0.80" stroke-opacity="0.45"/>
<line x1="225.35" y1="1148.00" x2="225.35" y2="1151.00" stroke="#222" stroke-width="0.80" stroke-opacity="0.45"/>
<line x1="225.35" y1="834.40" x2="225.35" y2="837.40" stroke="#222" stroke-width="0.80" stroke-opacity="0.45"/>
<line x1="269.40" y1="1148.00" x2="269.40" y2="1151.00" stroke="#222" stroke-width="0.80" stroke-opacity="0.45"/>
<line x1="269.40" y1="834.40" x2="269.40" y2="837.40" stroke="#222" stroke-width="0.80" stroke-opacity="0.45"/>
<line x1="313.45" y1="1148.00" x2="313.45" y2="1151.00" stroke="#222" stroke-width="0.80" stroke-opacity="0.45"/>
<line x1="313.45" y1="834.40" x2="313.45" y2="837.40" stroke="#222" stroke-width="0.80" stroke-opacity="0.45"/>
<line x1="357.50" y1="1148.00" x2="357.50" y2="1151.00" stroke="#222" stroke-width="0.80" stroke-opacity="0.45"/>
<line x1="357.50" y1="834.40" x2="357.50" y2="837.40" stroke="#222" stroke-width="0.80" stroke-opacity="0.45"/>
<line x1="401.55" y1="1148.00" x2="401.55" y2="1151.00" stroke="#222" stroke-width="0.80" stroke-opacity="0.45"/>
<line x1="401.55" y1="834.40" x2="401.55" y2="837.40" stroke="#222" stroke-width="0.80" stroke-opacity="0.45"/>
<line x1="445.60" y1="1148.00" x2="445.60" y2="1151.00" stroke="#222" stroke-width="0.80" stroke-opacity="0.45"/>
<line x1="445.60" y1="834.40" x2="445.60" y2="837.40" stroke="#222" stroke-width="0.80" stroke-opacity="0.45"/>
<line x1="489.65" y1="1148.00" x2="489.65" y2="1151.00" stroke="#222" stroke-width="0.80" stroke-opacity="0.45"/>
<line x1="489.65" y1="834.40" x2="489.65" y2="837.40" stroke="#222" stroke-width="0.80" stroke-opacity="0.45"/>
<line x1="93.20" y1="835.80" x2="96.20" y2="835.80" stroke="#222" stroke-width="0.80" stroke-opacity="0.45"/>
<line x1="499.40" y1="835.80" x2="502.40" y2="835.80" stroke="#222" stroke-width="0.80" stroke-opacity="0.45"/>
<line x1="93.20" y1="895.88" x2="96.20" y2="895.88" stroke="#222" stroke-width="0.80" stroke-opacity="0.45"/>
<line x1="499.40" y1="895.88" x2="502.40" y2="895.88" stroke="#222" stroke-width="0.80" stroke-opacity="0.45"/>
<line x1="93.20" y1="955.96" x2="96.20" y2="955.96" stroke="#222" stroke-width="0.80" stroke-opacity="0.45"/>
<line x1="499.40" y1="955.96" x2="502.40" y2="955.96" stroke="#222" stroke-width="0.80" stroke-opacity="0.45"/>
<line x1="93.20" y1="1016.04" x2="96.20" y2="1016.04" stroke="#222" stroke-width="0.80" stroke-opacity="0.45"/>
<line x1="499.40" y1="1016.04" x2="502.40" y2="1016.04" stroke="#222" stroke-width="0.80" stroke-opacity="0.45"/>
<line x1="93.20" y1="1076.12" x2="96.20" y2="1076.12" stroke="#222" stroke-width="0.80" stroke-opacity="0.45"/>
<line x1="499.40" y1="1076.12" x2="502.40" y2="1076.12" stroke="#222" stroke-width="0.80" stroke-opacity="0.45"/>
<line x1="93.20" y1="1136.20" x2="96.20" y2="1136.20" stroke="#222" stroke-width="0.80" stroke-opacity="0.45"/>
<line x1="499.40" y1="1136.20" x2="502.40" y2="1136.20" stroke="#222" stroke-width="0.80" stroke-opacity="0.45"/>
<text transform="translate(88.40 847.60)" text-anchor="end" style="font-family:'Liberation Sans',Arial,sans-serif;font-size:29.00px;fill:#000" >0</text>
<text transform="translate(88.40 907.68)" text-anchor="end" style="font-family:'Liberation Sans',Arial,sans-serif;font-size:29.00px;fill:#000" >200</text>
<text transform="translate(88.40 967.76)" text-anchor="end" style="font-family:'Liberation Sans',Arial,sans-serif;font-size:29.00px;fill:#000" >400</text>
<text transform="translate(88.40 1027.84)" text-anchor="end" style="font-family:'Liberation Sans',Arial,sans-serif;font-size:29.00px;fill:#000" >600</text>
<text transform="translate(88.40 1087.92)" text-anchor="end" style="font-family:'Liberation Sans',Arial,sans-serif;font-size:29.00px;fill:#000" >800</text>
<text transform="translate(88.40 1148.00)" text-anchor="end" style="font-family:'Liberation Sans',Arial,sans-serif;font-size:29.00px;fill:#000" >1000</text>
<text transform="translate(91.70 1181.80) scale(0.800 1.000)" text-anchor="middle" style="font-family:'Liberation Sans',Arial,sans-serif;font-size:29.30px;fill:#000" >0</text>
<text transform="translate(135.75 1181.80) scale(0.800 1.000)" text-anchor="middle" style="font-family:'Liberation Sans',Arial,sans-serif;font-size:29.30px;fill:#000" >20</text>
<text transform="translate(179.80 1181.80) scale(0.800 1.000)" text-anchor="middle" style="font-family:'Liberation Sans',Arial,sans-serif;font-size:29.30px;fill:#000" >40</text>
<text transform="translate(223.85 1181.80) scale(0.800 1.000)" text-anchor="middle" style="font-family:'Liberation Sans',Arial,sans-serif;font-size:29.30px;fill:#000" >60</text>
<text transform="translate(267.90 1181.80) scale(0.800 1.000)" text-anchor="middle" style="font-family:'Liberation Sans',Arial,sans-serif;font-size:29.30px;fill:#000" >80</text>
<text transform="translate(309.95 1181.80) scale(0.800 1.000)" text-anchor="middle" style="font-family:'Liberation Sans',Arial,sans-serif;font-size:29.30px;fill:#000" >100</text>
<text transform="translate(354.00 1181.80) scale(0.800 1.000)" text-anchor="middle" style="font-family:'Liberation Sans',Arial,sans-serif;font-size:29.30px;fill:#000" >120</text>
<text transform="translate(398.05 1181.80) scale(0.800 1.000)" text-anchor="middle" style="font-family:'Liberation Sans',Arial,sans-serif;font-size:29.30px;fill:#000" >140</text>
<text transform="translate(442.10 1181.80) scale(0.800 1.000)" text-anchor="middle" style="font-family:'Liberation Sans',Arial,sans-serif;font-size:29.30px;fill:#000" >160</text>
<text transform="translate(486.15 1181.80) scale(0.800 1.000)" text-anchor="middle" style="font-family:'Liberation Sans',Arial,sans-serif;font-size:29.30px;fill:#000" >180</text>
<text transform="translate(292.20 1218.20)" text-anchor="middle" style="font-family:'Liberation Sans',Arial,sans-serif;font-size:28.50px;fill:#000" >Trace</text>
<text transform="translate(25.20 996.50) rotate(-90)" text-anchor="middle" style="font-family:'Liberation Sans',Arial,sans-serif;font-size:29.00px;fill:#000" >Time (ms)</text>
<rect x="514.40" y="834.30" width="17.20" height="317.70" fill="url(#vg28)" stroke="#888" stroke-width="0.8"/>
<line x1="514.40" y1="838.50" x2="516.90" y2="838.50" stroke="#333" stroke-width="0.90" stroke-opacity="0.55"/>
<line x1="529.10" y1="838.50" x2="531.60" y2="838.50" stroke="#333" stroke-width="0.90" stroke-opacity="0.55"/>
<line x1="514.40" y1="863.60" x2="516.90" y2="863.60" stroke="#333" stroke-width="0.90" stroke-opacity="0.55"/>
<line x1="529.10" y1="863.60" x2="531.60" y2="863.60" stroke="#333" stroke-width="0.90" stroke-opacity="0.55"/>
<line x1="514.40" y1="888.70" x2="516.90" y2="888.70" stroke="#333" stroke-width="0.90" stroke-opacity="0.55"/>
<line x1="529.10" y1="888.70" x2="531.60" y2="888.70" stroke="#333" stroke-width="0.90" stroke-opacity="0.55"/>
<line x1="514.40" y1="913.80" x2="516.90" y2="913.80" stroke="#333" stroke-width="0.90" stroke-opacity="0.55"/>
<line x1="529.10" y1="913.80" x2="531.60" y2="913.80" stroke="#333" stroke-width="0.90" stroke-opacity="0.55"/>
<line x1="514.40" y1="938.90" x2="516.90" y2="938.90" stroke="#333" stroke-width="0.90" stroke-opacity="0.55"/>
<line x1="529.10" y1="938.90" x2="531.60" y2="938.90" stroke="#333" stroke-width="0.90" stroke-opacity="0.55"/>
<line x1="514.40" y1="964.00" x2="516.90" y2="964.00" stroke="#333" stroke-width="0.90" stroke-opacity="0.55"/>
<line x1="529.10" y1="964.00" x2="531.60" y2="964.00" stroke="#333" stroke-width="0.90" stroke-opacity="0.55"/>
<line x1="514.40" y1="989.10" x2="516.90" y2="989.10" stroke="#333" stroke-width="0.90" stroke-opacity="0.55"/>
<line x1="529.10" y1="989.10" x2="531.60" y2="989.10" stroke="#333" stroke-width="0.90" stroke-opacity="0.55"/>
<line x1="514.40" y1="1014.20" x2="516.90" y2="1014.20" stroke="#333" stroke-width="0.90" stroke-opacity="0.55"/>
<line x1="529.10" y1="1014.20" x2="531.60" y2="1014.20" stroke="#333" stroke-width="0.90" stroke-opacity="0.55"/>
<line x1="514.40" y1="1039.30" x2="516.90" y2="1039.30" stroke="#333" stroke-width="0.90" stroke-opacity="0.55"/>
<line x1="529.10" y1="1039.30" x2="531.60" y2="1039.30" stroke="#333" stroke-width="0.90" stroke-opacity="0.55"/>
<line x1="514.40" y1="1064.40" x2="516.90" y2="1064.40" stroke="#333" stroke-width="0.90" stroke-opacity="0.55"/>
<line x1="529.10" y1="1064.40" x2="531.60" y2="1064.40" stroke="#333" stroke-width="0.90" stroke-opacity="0.55"/>
<line x1="514.40" y1="1089.50" x2="516.90" y2="1089.50" stroke="#333" stroke-width="0.90" stroke-opacity="0.55"/>
<line x1="529.10" y1="1089.50" x2="531.60" y2="1089.50" stroke="#333" stroke-width="0.90" stroke-opacity="0.55"/>
<line x1="514.40" y1="1114.60" x2="516.90" y2="1114.60" stroke="#333" stroke-width="0.90" stroke-opacity="0.55"/>
<line x1="529.10" y1="1114.60" x2="531.60" y2="1114.60" stroke="#333" stroke-width="0.90" stroke-opacity="0.55"/>
<line x1="514.40" y1="1139.70" x2="516.90" y2="1139.70" stroke="#333" stroke-width="0.90" stroke-opacity="0.55"/>
<line x1="529.10" y1="1139.70" x2="531.60" y2="1139.70" stroke="#333" stroke-width="0.90" stroke-opacity="0.55"/>
<text transform="translate(541.00 849.15) scale(0.935 1.000)" text-anchor="start" style="font-family:'Liberation Sans',Arial,sans-serif;font-size:30.00px;fill:#000" >120</text>
<text transform="translate(541.00 899.35) scale(0.935 1.000)" text-anchor="start" style="font-family:'Liberation Sans',Arial,sans-serif;font-size:30.00px;fill:#000" >100</text>
<text transform="translate(541.00 949.55) scale(0.935 1.000)" text-anchor="start" style="font-family:'Liberation Sans',Arial,sans-serif;font-size:30.00px;fill:#000" >80</text>
<text transform="translate(541.00 999.75) scale(0.935 1.000)" text-anchor="start" style="font-family:'Liberation Sans',Arial,sans-serif;font-size:30.00px;fill:#000" >60</text>
<text transform="translate(541.00 1049.95) scale(0.935 1.000)" text-anchor="start" style="font-family:'Liberation Sans',Arial,sans-serif;font-size:30.00px;fill:#000" >40</text>
<text transform="translate(541.00 1100.15) scale(0.935 1.000)" text-anchor="start" style="font-family:'Liberation Sans',Arial,sans-serif;font-size:30.00px;fill:#000" >20</text>
<text transform="translate(541.00 1150.35) scale(0.935 1.000)" text-anchor="start" style="font-family:'Liberation Sans',Arial,sans-serif;font-size:30.00px;fill:#000" >0</text>
<text transform="translate(102.00 880.00)" text-anchor="start" style="font-family:'Liberation Sans',Arial,sans-serif;font-size:48.00px;fill:#fff" >(d)</text>
<text transform="translate(160.60 877.70) scale(1.020 1.000)" text-anchor="start" style="font-family:'Liberation Sans',Arial,sans-serif;font-size:35.00px;fill:#fff" >CWT-35Hz</text>
<g clip-path="url(#hc29)"><rect x="666.50" y="426.80" width="410.30" height="319.80" fill="#06008e"/><rect x="666.50" y="426.80" width="410.30" height="319.80" fill="url(#vg30)" /><rect x="666.50" y="486.00" width="410.30" height="18.00" fill="url(#sp31)" filter="url(#bl8)"/><rect x="666.50" y="489.00" width="410.30" height="10.00" fill="url(#sp32)" filter="url(#bl8)"/><rect x="666.50" y="539.00" width="410.30" height="14.00" fill="url(#sp33)" filter="url(#bl8)"/><rect x="666.50" y="568.00" width="410.30" height="28.00" fill="url(#sp34)" filter="url(#bl8)"/><rect x="666.50" y="679.00" width="410.30" height="21.00" fill="url(#sp35)" filter="url(#bl8)"/><rect x="666.50" y="554.30" width="410.30" height="1.40" fill="#5cacf2" fill-opacity="0.80" /><rect x="666.50" y="578.60" width="410.30" height="1.60" fill="#7ae7f3" fill-opacity="0.90" /><rect x="666.50" y="586.80" width="410.30" height="1.40" fill="#6cccf2" fill-opacity="0.80" /><rect x="666.50" y="676.00" width="410.30" height="1.20" fill="#1a32f2" fill-opacity="0.70" /><rect x="716.00" y="675.20" width="31.00" height="1.60" fill="#73daf2" fill-opacity="0.90" /><rect x="716.00" y="600.00" width="31.00" height="116.00" fill="url(#sp36)" filter="url(#bl8)"/><rect x="880.50" y="675.20" width="14.50" height="1.60" fill="#73daf2" fill-opacity="0.90" /><rect x="880.50" y="600.00" width="14.50" height="116.00" fill="url(#sp37)" filter="url(#bl8)"/><rect x="1046.00" y="675.20" width="11.00" height="1.60" fill="#73daf2" fill-opacity="0.90" /><rect x="1046.00" y="600.00" width="11.00" height="116.00" fill="url(#sp38)" filter="url(#bl8)"/><rect x="714.80" y="555.00" width="33.00" height="55.00" fill="url(#vg39)" filter="url(#hb5)"/><rect x="715.80" y="573.00" width="31.00" height="24.00" fill="url(#sp40)"/><rect x="715.80" y="566.00" width="31.00" height="9.00" fill="url(#sp41)"/><rect x="879.60" y="555.00" width="16.20" height="55.00" fill="url(#vg42)" filter="url(#hb5)"/><rect x="880.60" y="573.00" width="14.20" height="24.00" fill="url(#sp43)"/><rect x="880.60" y="566.00" width="14.20" height="9.00" fill="url(#sp44)"/><rect x="1044.90" y="555.00" width="12.10" height="55.00" fill="url(#vg45)" filter="url(#hb5)"/><rect x="1045.90" y="573.00" width="10.10" height="24.00" fill="url(#sp46)"/><rect x="1045.90" y="566.00" width="10.10" height="9.00" fill="url(#sp47)"/></g>
<line x1="666.50" y1="427.10" x2="1076.80" y2="427.10" stroke="#555" stroke-width="1.00" stroke-opacity="0.8"/>
<line x1="666.50" y1="743.60" x2="666.50" y2="746.60" stroke="#222" stroke-width="0.80" stroke-opacity="0.45"/>
<line x1="666.50" y1="426.80" x2="666.50" y2="429.80" stroke="#222" stroke-width="0.80" stroke-opacity="0.45"/>
<line x1="710.55" y1="743.60" x2="710.55" y2="746.60" stroke="#222" stroke-width="0.80" stroke-opacity="0.45"/>
<line x1="710.55" y1="426.80" x2="710.55" y2="429.80" stroke="#222" stroke-width="0.80" stroke-opacity="0.45"/>
<line x1="754.60" y1="743.60" x2="754.60" y2="746.60" stroke="#222" stroke-width="0.80" stroke-opacity="0.45"/>
<line x1="754.60" y1="426.80" x2="754.60" y2="429.80" stroke="#222" stroke-width="0.80" stroke-opacity="0.45"/>
<line x1="798.65" y1="743.60" x2="798.65" y2="746.60" stroke="#222" stroke-width="0.80" stroke-opacity="0.45"/>
<line x1="798.65" y1="426.80" x2="798.65" y2="429.80" stroke="#222" stroke-width="0.80" stroke-opacity="0.45"/>
<line x1="842.70" y1="743.60" x2="842.70" y2="746.60" stroke="#222" stroke-width="0.80" stroke-opacity="0.45"/>
<line x1="842.70" y1="426.80" x2="842.70" y2="429.80" stroke="#222" stroke-width="0.80" stroke-opacity="0.45"/>
<line x1="886.75" y1="743.60" x2="886.75" y2="746.60" stroke="#222" stroke-width="0.80" stroke-opacity="0.45"/>
<line x1="886.75" y1="426.80" x2="886.75" y2="429.80" stroke="#222" stroke-width="0.80" stroke-opacity="0.45"/>
<line x1="930.80" y1="743.60" x2="930.80" y2="746.60" stroke="#222" stroke-width="0.80" stroke-opacity="0.45"/>
<line x1="930.80" y1="426.80" x2="930.80" y2="429.80" stroke="#222" stroke-width="0.80" stroke-opacity="0.45"/>
<line x1="974.85" y1="743.60" x2="974.85" y2="746.60" stroke="#222" stroke-width="0.80" stroke-opacity="0.45"/>
<line x1="974.85" y1="426.80" x2="974.85" y2="429.80" stroke="#222" stroke-width="0.80" stroke-opacity="0.45"/>
<line x1="1018.90" y1="743.60" x2="1018.90" y2="746.60" stroke="#222" stroke-width="0.80" stroke-opacity="0.45"/>
<line x1="1018.90" y1="426.80" x2="1018.90" y2="429.80" stroke="#222" stroke-width="0.80" stroke-opacity="0.45"/>
<line x1="1062.95" y1="743.60" x2="1062.95" y2="746.60" stroke="#222" stroke-width="0.80" stroke-opacity="0.45"/>
<line x1="1062.95" y1="426.80" x2="1062.95" y2="429.80" stroke="#222" stroke-width="0.80" stroke-opacity="0.45"/>
<line x1="666.50" y1="428.40" x2="669.50" y2="428.40" stroke="#222" stroke-width="0.80" stroke-opacity="0.45"/>
<line x1="1073.80" y1="428.40" x2="1076.80" y2="428.40" stroke="#222" stroke-width="0.80" stroke-opacity="0.45"/>
<line x1="666.50" y1="488.48" x2="669.50" y2="488.48" stroke="#222" stroke-width="0.80" stroke-opacity="0.45"/>
<line x1="1073.80" y1="488.48" x2="1076.80" y2="488.48" stroke="#222" stroke-width="0.80" stroke-opacity="0.45"/>
<line x1="666.50" y1="548.56" x2="669.50" y2="548.56" stroke="#222" stroke-width="0.80" stroke-opacity="0.45"/>
<line x1="1073.80" y1="548.56" x2="1076.80" y2="548.56" stroke="#222" stroke-width="0.80" stroke-opacity="0.45"/>
<line x1="666.50" y1="608.64" x2="669.50" y2="608.64" stroke="#222" stroke-width="0.80" stroke-opacity="0.45"/>
<line x1="1073.80" y1="608.64" x2="1076.80" y2="608.64" stroke="#222" stroke-width="0.80" stroke-opacity="0.45"/>
<line x1="666.50" y1="668.72" x2="669.50" y2="668.72" stroke="#222" stroke-width="0.80" stroke-opacity="0.45"/>
<line x1="1073.80" y1="668.72" x2="1076.80" y2="668.72" stroke="#222" stroke-width="0.80" stroke-opacity="0.45"/>
<line x1="666.50" y1="728.80" x2="669.50" y2="728.80" stroke="#222" stroke-width="0.80" stroke-opacity="0.45"/>
<line x1="1073.80" y1="728.80" x2="1076.80" y2="728.80" stroke="#222" stroke-width="0.80" stroke-opacity="0.45"/>
<text transform="translate(661.70 440.20)" text-anchor="end" style="font-family:'Liberation Sans',Arial,sans-serif;font-size:29.00px;fill:#000" >0</text>
<text transform="translate(661.70 500.28)" text-anchor="end" style="font-family:'Liberation Sans',Arial,sans-serif;font-size:29.00px;fill:#000" >200</text>
<text transform="translate(661.70 560.36)" text-anchor="end" style="font-family:'Liberation Sans',Arial,sans-serif;font-size:29.00px;fill:#000" >400</text>
<text transform="translate(661.70 620.44)" text-anchor="end" style="font-family:'Liberation Sans',Arial,sans-serif;font-size:29.00px;fill:#000" >600</text>
<text transform="translate(661.70 680.52)" text-anchor="end" style="font-family:'Liberation Sans',Arial,sans-serif;font-size:29.00px;fill:#000" >800</text>
<text transform="translate(661.70 740.60)" text-anchor="end" style="font-family:'Liberation Sans',Arial,sans-serif;font-size:29.00px;fill:#000" >1000</text>
<text transform="translate(665.00 775.20) scale(0.800 1.000)" text-anchor="middle" style="font-family:'Liberation Sans',Arial,sans-serif;font-size:29.30px;fill:#000" >0</text>
<text transform="translate(709.05 775.20) scale(0.800 1.000)" text-anchor="middle" style="font-family:'Liberation Sans',Arial,sans-serif;font-size:29.30px;fill:#000" >20</text>
<text transform="translate(753.10 775.20) scale(0.800 1.000)" text-anchor="middle" style="font-family:'Liberation Sans',Arial,sans-serif;font-size:29.30px;fill:#000" >40</text>
<text transform="translate(797.15 775.20) scale(0.800 1.000)" text-anchor="middle" style="font-family:'Liberation Sans',Arial,sans-serif;font-size:29.30px;fill:#000" >60</text>
<text transform="translate(841.20 775.20) scale(0.800 1.000)" text-anchor="middle" style="font-family:'Liberation Sans',Arial,sans-serif;font-size:29.30px;fill:#000" >80</text>
<text transform="translate(883.25 775.20) scale(0.800 1.000)" text-anchor="middle" style="font-family:'Liberation Sans',Arial,sans-serif;font-size:29.30px;fill:#000" >100</text>
<text transform="translate(927.30 775.20) scale(0.800 1.000)" text-anchor="middle" style="font-family:'Liberation Sans',Arial,sans-serif;font-size:29.30px;fill:#000" >120</text>
<text transform="translate(971.35 775.20) scale(0.800 1.000)" text-anchor="middle" style="font-family:'Liberation Sans',Arial,sans-serif;font-size:29.30px;fill:#000" >140</text>
<text transform="translate(1015.40 775.20) scale(0.800 1.000)" text-anchor="middle" style="font-family:'Liberation Sans',Arial,sans-serif;font-size:29.30px;fill:#000" >160</text>
<text transform="translate(1059.45 775.20) scale(0.800 1.000)" text-anchor="middle" style="font-family:'Liberation Sans',Arial,sans-serif;font-size:29.30px;fill:#000" >180</text>
<text transform="translate(865.50 811.20)" text-anchor="middle" style="font-family:'Liberation Sans',Arial,sans-serif;font-size:28.50px;fill:#000" >Trace</text>
<text transform="translate(598.50 590.50) rotate(-90)" text-anchor="middle" style="font-family:'Liberation Sans',Arial,sans-serif;font-size:29.00px;fill:#000" >Time (ms)</text>
<rect x="1089.00" y="426.80" width="16.70" height="320.00" fill="url(#vg48)" stroke="#888" stroke-width="0.8"/>
<line x1="1089.00" y1="432.30" x2="1091.50" y2="432.30" stroke="#333" stroke-width="0.90" stroke-opacity="0.55"/>
<line x1="1103.20" y1="432.30" x2="1105.70" y2="432.30" stroke="#333" stroke-width="0.90" stroke-opacity="0.55"/>
<line x1="1089.00" y1="457.50" x2="1091.50" y2="457.50" stroke="#333" stroke-width="0.90" stroke-opacity="0.55"/>
<line x1="1103.20" y1="457.50" x2="1105.70" y2="457.50" stroke="#333" stroke-width="0.90" stroke-opacity="0.55"/>
<line x1="1089.00" y1="482.70" x2="1091.50" y2="482.70" stroke="#333" stroke-width="0.90" stroke-opacity="0.55"/>
<line x1="1103.20" y1="482.70" x2="1105.70" y2="482.70" stroke="#333" stroke-width="0.90" stroke-opacity="0.55"/>
<line x1="1089.00" y1="507.90" x2="1091.50" y2="507.90" stroke="#333" stroke-width="0.90" stroke-opacity="0.55"/>
<line x1="1103.20" y1="507.90" x2="1105.70" y2="507.90" stroke="#333" stroke-width="0.90" stroke-opacity="0.55"/>
<line x1="1089.00" y1="533.10" x2="1091.50" y2="533.10" stroke="#333" stroke-width="0.90" stroke-opacity="0.55"/>
<line x1="1103.20" y1="533.10" x2="1105.70" y2="533.10" stroke="#333" stroke-width="0.90" stroke-opacity="0.55"/>
<line x1="1089.00" y1="558.30" x2="1091.50" y2="558.30" stroke="#333" stroke-width="0.90" stroke-opacity="0.55"/>
<line x1="1103.20" y1="558.30" x2="1105.70" y2="558.30" stroke="#333" stroke-width="0.90" stroke-opacity="0.55"/>
<line x1="1089.00" y1="583.50" x2="1091.50" y2="583.50" stroke="#333" stroke-width="0.90" stroke-opacity="0.55"/>
<line x1="1103.20" y1="583.50" x2="1105.70" y2="583.50" stroke="#333" stroke-width="0.90" stroke-opacity="0.55"/>
<line x1="1089.00" y1="608.70" x2="1091.50" y2="608.70" stroke="#333" stroke-width="0.90" stroke-opacity="0.55"/>
<line x1="1103.20" y1="608.70" x2="1105.70" y2="608.70" stroke="#333" stroke-width="0.90" stroke-opacity="0.55"/>
<line x1="1089.00" y1="633.90" x2="1091.50" y2="633.90" stroke="#333" stroke-width="0.90" stroke-opacity="0.55"/>
<line x1="1103.20" y1="633.90" x2="1105.70" y2="633.90" stroke="#333" stroke-width="0.90" stroke-opacity="0.55"/>
<line x1="1089.00" y1="659.10" x2="1091.50" y2="659.10" stroke="#333" stroke-width="0.90" stroke-opacity="0.55"/>
<line x1="1103.20" y1="659.10" x2="1105.70" y2="659.10" stroke="#333" stroke-width="0.90" stroke-opacity="0.55"/>
<line x1="1089.00" y1="684.30" x2="1091.50" y2="684.30" stroke="#333" stroke-width="0.90" stroke-opacity="0.55"/>
<line x1="1103.20" y1="684.30" x2="1105.70" y2="684.30" stroke="#333" stroke-width="0.90" stroke-opacity="0.55"/>
<line x1="1089.00" y1="709.50" x2="1091.50" y2="709.50" stroke="#333" stroke-width="0.90" stroke-opacity="0.55"/>
<line x1="1103.20" y1="709.50" x2="1105.70" y2="709.50" stroke="#333" stroke-width="0.90" stroke-opacity="0.55"/>
<line x1="1089.00" y1="734.70" x2="1091.50" y2="734.70" stroke="#333" stroke-width="0.90" stroke-opacity="0.55"/>
<line x1="1103.20" y1="734.70" x2="1105.70" y2="734.70" stroke="#333" stroke-width="0.90" stroke-opacity="0.55"/>
<text transform="translate(1115.50 440.11)" text-anchor="start" style="font-family:'Liberation Sans',Arial,sans-serif;font-size:22.00px;fill:#000" >0.12</text>
<text transform="translate(1115.50 490.51)" text-anchor="start" style="font-family:'Liberation Sans',Arial,sans-serif;font-size:22.00px;fill:#000" >0.1</text>
<text transform="translate(1115.50 540.91)" text-anchor="start" style="font-family:'Liberation Sans',Arial,sans-serif;font-size:22.00px;fill:#000" >0.08</text>
<text transform="translate(1115.50 591.31)" text-anchor="start" style="font-family:'Liberation Sans',Arial,sans-serif;font-size:22.00px;fill:#000" >0.06</text>
<text transform="translate(1115.50 641.71)" text-anchor="start" style="font-family:'Liberation Sans',Arial,sans-serif;font-size:22.00px;fill:#000" >0.04</text>
<text transform="translate(1115.50 692.11)" text-anchor="start" style="font-family:'Liberation Sans',Arial,sans-serif;font-size:22.00px;fill:#000" >0.02</text>
<text transform="translate(1115.50 742.51)" text-anchor="start" style="font-family:'Liberation Sans',Arial,sans-serif;font-size:22.00px;fill:#000" >0</text>
<text transform="translate(677.00 474.00)" text-anchor="start" style="font-family:'Liberation Sans',Arial,sans-serif;font-size:48.00px;fill:#fff" >(e)</text>
<text transform="translate(734.50 471.00)" text-anchor="start" style="font-family:'Liberation Sans',Arial,sans-serif;font-size:31.50px;fill:#fff" >CWT-based SST-25Hz</text>
<g clip-path="url(#hc49)"><rect x="668.80" y="833.60" width="409.10" height="319.70" fill="#06008e"/><rect x="668.80" y="833.60" width="409.10" height="319.70" fill="url(#vg50)" /><rect x="668.80" y="901.00" width="409.10" height="15.00" fill="url(#sp51)" filter="url(#bl8)"/><rect x="668.80" y="902.00" width="409.10" height="7.00" fill="url(#sp52)" filter="url(#bl8)"/><line x1="668.80" y1="996.5" x2="1077.90" y2="996.5" stroke="#5cacf2" stroke-width="1.6" stroke-dasharray="3 5"/><rect x="669.80" y="1099.10" width="46.46" height="1.80" fill="#8bf6de" /><rect x="751.29" y="1099.10" width="132.35" height="1.80" fill="#8bf6de" /><rect x="898.86" y="1099.10" width="154.38" height="1.80" fill="#8bf6de" /><rect x="1064.05" y="1099.10" width="12.85" height="1.80" fill="#8bf6de" /><rect x="714.00" y="978.00" width="34.30" height="28.00" fill="url(#vg53)" filter="url(#hb5)"/><rect x="716.00" y="989.75" width="30.30" height="1.50" fill="#de190a" fill-opacity="0.90" /><rect x="879.60" y="978.00" width="16.20" height="28.00" fill="url(#vg54)" filter="url(#hb5)"/><rect x="881.60" y="989.75" width="12.20" height="1.50" fill="#de190a" fill-opacity="0.90" /><rect x="1043.60" y="978.00" width="13.40" height="28.00" fill="url(#vg55)" filter="url(#hb5)"/><rect x="1045.60" y="989.75" width="9.40" height="1.50" fill="#de190a" fill-opacity="0.90" /></g>
<line x1="668.80" y1="833.90" x2="1077.90" y2="833.90" stroke="#555" stroke-width="1.00" stroke-opacity="0.8"/>
<line x1="668.80" y1="1150.30" x2="668.80" y2="1153.30" stroke="#222" stroke-width="0.80" stroke-opacity="0.45"/>
<line x1="668.80" y1="833.60" x2="668.80" y2="836.60" stroke="#222" stroke-width="0.80" stroke-opacity="0.45"/>
<line x1="712.85" y1="1150.30" x2="712.85" y2="1153.30" stroke="#222" stroke-width="0.80" stroke-opacity="0.45"/>
<line x1="712.85" y1="833.60" x2="712.85" y2="836.60" stroke="#222" stroke-width="0.80" stroke-opacity="0.45"/>
<line x1="756.90" y1="1150.30" x2="756.90" y2="1153.30" stroke="#222" stroke-width="0.80" stroke-opacity="0.45"/>
<line x1="756.90" y1="833.60" x2="756.90" y2="836.60" stroke="#222" stroke-width="0.80" stroke-opacity="0.45"/>
<line x1="800.95" y1="1150.30" x2="800.95" y2="1153.30" stroke="#222" stroke-width="0.80" stroke-opacity="0.45"/>
<line x1="800.95" y1="833.60" x2="800.95" y2="836.60" stroke="#222" stroke-width="0.80" stroke-opacity="0.45"/>
<line x1="845.00" y1="1150.30" x2="845.00" y2="1153.30" stroke="#222" stroke-width="0.80" stroke-opacity="0.45"/>
<line x1="845.00" y1="833.60" x2="845.00" y2="836.60" stroke="#222" stroke-width="0.80" stroke-opacity="0.45"/>
<line x1="889.05" y1="1150.30" x2="889.05" y2="1153.30" stroke="#222" stroke-width="0.80" stroke-opacity="0.45"/>
<line x1="889.05" y1="833.60" x2="889.05" y2="836.60" stroke="#222" stroke-width="0.80" stroke-opacity="0.45"/>
<line x1="933.10" y1="1150.30" x2="933.10" y2="1153.30" stroke="#222" stroke-width="0.80" stroke-opacity="0.45"/>
<line x1="933.10" y1="833.60" x2="933.10" y2="836.60" stroke="#222" stroke-width="0.80" stroke-opacity="0.45"/>
<line x1="977.15" y1="1150.30" x2="977.15" y2="1153.30" stroke="#222" stroke-width="0.80" stroke-opacity="0.45"/>
<line x1="977.15" y1="833.60" x2="977.15" y2="836.60" stroke="#222" stroke-width="0.80" stroke-opacity="0.45"/>
<line x1="1021.20" y1="1150.30" x2="1021.20" y2="1153.30" stroke="#222" stroke-width="0.80" stroke-opacity="0.45"/>
<line x1="1021.20" y1="833.60" x2="1021.20" y2="836.60" stroke="#222" stroke-width="0.80" stroke-opacity="0.45"/>
<line x1="1065.25" y1="1150.30" x2="1065.25" y2="1153.30" stroke="#222" stroke-width="0.80" stroke-opacity="0.45"/>
<line x1="1065.25" y1="833.60" x2="1065.25" y2="836.60" stroke="#222" stroke-width="0.80" stroke-opacity="0.45"/>
<line x1="668.80" y1="835.00" x2="671.80" y2="835.00" stroke="#222" stroke-width="0.80" stroke-opacity="0.45"/>
<line x1="1074.90" y1="835.00" x2="1077.90" y2="835.00" stroke="#222" stroke-width="0.80" stroke-opacity="0.45"/>
<line x1="668.80" y1="895.08" x2="671.80" y2="895.08" stroke="#222" stroke-width="0.80" stroke-opacity="0.45"/>
<line x1="1074.90" y1="895.08" x2="1077.90" y2="895.08" stroke="#222" stroke-width="0.80" stroke-opacity="0.45"/>
<line x1="668.80" y1="955.16" x2="671.80" y2="955.16" stroke="#222" stroke-width="0.80" stroke-opacity="0.45"/>
<line x1="1074.90" y1="955.16" x2="1077.90" y2="955.16" stroke="#222" stroke-width="0.80" stroke-opacity="0.45"/>
<line x1="668.80" y1="1015.24" x2="671.80" y2="1015.24" stroke="#222" stroke-width="0.80" stroke-opacity="0.45"/>
<line x1="1074.90" y1="1015.24" x2="1077.90" y2="1015.24" stroke="#222" stroke-width="0.80" stroke-opacity="0.45"/>
<line x1="668.80" y1="1075.32" x2="671.80" y2="1075.32" stroke="#222" stroke-width="0.80" stroke-opacity="0.45"/>
<line x1="1074.90" y1="1075.32" x2="1077.90" y2="1075.32" stroke="#222" stroke-width="0.80" stroke-opacity="0.45"/>
<line x1="668.80" y1="1135.40" x2="671.80" y2="1135.40" stroke="#222" stroke-width="0.80" stroke-opacity="0.45"/>
<line x1="1074.90" y1="1135.40" x2="1077.90" y2="1135.40" stroke="#222" stroke-width="0.80" stroke-opacity="0.45"/>
<text transform="translate(664.00 846.80)" text-anchor="end" style="font-family:'Liberation Sans',Arial,sans-serif;font-size:29.00px;fill:#000" >0</text>
<text transform="translate(664.00 906.88)" text-anchor="end" style="font-family:'Liberation Sans',Arial,sans-serif;font-size:29.00px;fill:#000" >200</text>
<text transform="translate(664.00 966.96)" text-anchor="end" style="font-family:'Liberation Sans',Arial,sans-serif;font-size:29.00px;fill:#000" >400</text>
<text transform="translate(664.00 1027.04)" text-anchor="end" style="font-family:'Liberation Sans',Arial,sans-serif;font-size:29.00px;fill:#000" >600</text>
<text transform="translate(664.00 1087.12)" text-anchor="end" style="font-family:'Liberation Sans',Arial,sans-serif;font-size:29.00px;fill:#000" >800</text>
<text transform="translate(664.00 1147.20)" text-anchor="end" style="font-family:'Liberation Sans',Arial,sans-serif;font-size:29.00px;fill:#000" >1000</text>
<text transform="translate(667.30 1181.80) scale(0.800 1.000)" text-anchor="middle" style="font-family:'Liberation Sans',Arial,sans-serif;font-size:29.30px;fill:#000" >0</text>
<text transform="translate(711.35 1181.80) scale(0.800 1.000)" text-anchor="middle" style="font-family:'Liberation Sans',Arial,sans-serif;font-size:29.30px;fill:#000" >20</text>
<text transform="translate(755.40 1181.80) scale(0.800 1.000)" text-anchor="middle" style="font-family:'Liberation Sans',Arial,sans-serif;font-size:29.30px;fill:#000" >40</text>
<text transform="translate(799.45 1181.80) scale(0.800 1.000)" text-anchor="middle" style="font-family:'Liberation Sans',Arial,sans-serif;font-size:29.30px;fill:#000" >60</text>
<text transform="translate(843.50 1181.80) scale(0.800 1.000)" text-anchor="middle" style="font-family:'Liberation Sans',Arial,sans-serif;font-size:29.30px;fill:#000" >80</text>
<text transform="translate(885.55 1181.80) scale(0.800 1.000)" text-anchor="middle" style="font-family:'Liberation Sans',Arial,sans-serif;font-size:29.30px;fill:#000" >100</text>
<text transform="translate(929.60 1181.80) scale(0.800 1.000)" text-anchor="middle" style="font-family:'Liberation Sans',Arial,sans-serif;font-size:29.30px;fill:#000" >120</text>
<text transform="translate(973.65 1181.80) scale(0.800 1.000)" text-anchor="middle" style="font-family:'Liberation Sans',Arial,sans-serif;font-size:29.30px;fill:#000" >140</text>
<text transform="translate(1017.70 1181.80) scale(0.800 1.000)" text-anchor="middle" style="font-family:'Liberation Sans',Arial,sans-serif;font-size:29.30px;fill:#000" >160</text>
<text transform="translate(1061.75 1181.80) scale(0.800 1.000)" text-anchor="middle" style="font-family:'Liberation Sans',Arial,sans-serif;font-size:29.30px;fill:#000" >180</text>
<text transform="translate(867.80 1218.20)" text-anchor="middle" style="font-family:'Liberation Sans',Arial,sans-serif;font-size:28.50px;fill:#000" >Trace</text>
<text transform="translate(600.80 997.25) rotate(-90)" text-anchor="middle" style="font-family:'Liberation Sans',Arial,sans-serif;font-size:29.00px;fill:#000" >Time (ms)</text>
<rect x="1090.30" y="833.60" width="16.70" height="319.90" fill="url(#vg56)" stroke="#888" stroke-width="0.8"/>
<line x1="1090.30" y1="838.50" x2="1092.80" y2="838.50" stroke="#333" stroke-width="0.90" stroke-opacity="0.55"/>
<line x1="1104.50" y1="838.50" x2="1107.00" y2="838.50" stroke="#333" stroke-width="0.90" stroke-opacity="0.55"/>
<line x1="1090.30" y1="863.60" x2="1092.80" y2="863.60" stroke="#333" stroke-width="0.90" stroke-opacity="0.55"/>
<line x1="1104.50" y1="863.60" x2="1107.00" y2="863.60" stroke="#333" stroke-width="0.90" stroke-opacity="0.55"/>
<line x1="1090.30" y1="888.70" x2="1092.80" y2="888.70" stroke="#333" stroke-width="0.90" stroke-opacity="0.55"/>
<line x1="1104.50" y1="888.70" x2="1107.00" y2="888.70" stroke="#333" stroke-width="0.90" stroke-opacity="0.55"/>
<line x1="1090.30" y1="913.80" x2="1092.80" y2="913.80" stroke="#333" stroke-width="0.90" stroke-opacity="0.55"/>
<line x1="1104.50" y1="913.80" x2="1107.00" y2="913.80" stroke="#333" stroke-width="0.90" stroke-opacity="0.55"/>
<line x1="1090.30" y1="938.90" x2="1092.80" y2="938.90" stroke="#333" stroke-width="0.90" stroke-opacity="0.55"/>
<line x1="1104.50" y1="938.90" x2="1107.00" y2="938.90" stroke="#333" stroke-width="0.90" stroke-opacity="0.55"/>
<line x1="1090.30" y1="964.00" x2="1092.80" y2="964.00" stroke="#333" stroke-width="0.90" stroke-opacity="0.55"/>
<line x1="1104.50" y1="964.00" x2="1107.00" y2="964.00" stroke="#333" stroke-width="0.90" stroke-opacity="0.55"/>
<line x1="1090.30" y1="989.10" x2="1092.80" y2="989.10" stroke="#333" stroke-width="0.90" stroke-opacity="0.55"/>
<line x1="1104.50" y1="989.10" x2="1107.00" y2="989.10" stroke="#333" stroke-width="0.90" stroke-opacity="0.55"/>
<line x1="1090.30" y1="1014.20" x2="1092.80" y2="1014.20" stroke="#333" stroke-width="0.90" stroke-opacity="0.55"/>
<line x1="1104.50" y1="1014.20" x2="1107.00" y2="1014.20" stroke="#333" stroke-width="0.90" stroke-opacity="0.55"/>
<line x1="1090.30" y1="1039.30" x2="1092.80" y2="1039.30" stroke="#333" stroke-width="0.90" stroke-opacity="0.55"/>
<line x1="1104.50" y1="1039.30" x2="1107.00" y2="1039.30" stroke="#333" stroke-width="0.90" stroke-opacity="0.55"/>
<line x1="1090.30" y1="1064.40" x2="1092.80" y2="1064.40" stroke="#333" stroke-width="0.90" stroke-opacity="0.55"/>
<line x1="1104.50" y1="1064.40" x2="1107.00" y2="1064.40" stroke="#333" stroke-width="0.90" stroke-opacity="0.55"/>
<line x1="1090.30" y1="1089.50" x2="1092.80" y2="1089.50" stroke="#333" stroke-width="0.90" stroke-opacity="0.55"/>
<line x1="1104.50" y1="1089.50" x2="1107.00" y2="1089.50" stroke="#333" stroke-width="0.90" stroke-opacity="0.55"/>
<line x1="1090.30" y1="1114.60" x2="1092.80" y2="1114.60" stroke="#333" stroke-width="0.90" stroke-opacity="0.55"/>
<line x1="1104.50" y1="1114.60" x2="1107.00" y2="1114.60" stroke="#333" stroke-width="0.90" stroke-opacity="0.55"/>
<line x1="1090.30" y1="1139.70" x2="1092.80" y2="1139.70" stroke="#333" stroke-width="0.90" stroke-opacity="0.55"/>
<line x1="1104.50" y1="1139.70" x2="1107.00" y2="1139.70" stroke="#333" stroke-width="0.90" stroke-opacity="0.55"/>
<text transform="translate(1115.50 846.31)" text-anchor="start" style="font-family:'Liberation Sans',Arial,sans-serif;font-size:22.00px;fill:#000" >0.08</text>
<text transform="translate(1115.50 921.61)" text-anchor="start" style="font-family:'Liberation Sans',Arial,sans-serif;font-size:22.00px;fill:#000" >0.06</text>
<text transform="translate(1115.50 996.91)" text-anchor="start" style="font-family:'Liberation Sans',Arial,sans-serif;font-size:22.00px;fill:#000" >0.04</text>
<text transform="translate(1115.50 1072.21)" text-anchor="start" style="font-family:'Liberation Sans',Arial,sans-serif;font-size:22.00px;fill:#000" >0.02</text>
<text transform="translate(1115.50 1147.51)" text-anchor="start" style="font-family:'Liberation Sans',Arial,sans-serif;font-size:22.00px;fill:#000" >0</text>
<text transform="translate(678.50 880.00)" text-anchor="start" style="font-family:'Liberation Sans',Arial,sans-serif;font-size:48.00px;fill:#fff" >(f)</text>
<text transform="translate(736.20 876.00)" text-anchor="start" style="font-family:'Liberation Sans',Arial,sans-serif;font-size:31.50px;fill:#fff" >CWT-based SST-35Hz</text>
<g clip-path="url(#hc57)"><rect x="1250.40" y="426.80" width="409.80" height="319.80" fill="#06008e"/><rect x="1250.40" y="426.80" width="409.80" height="319.80" fill="url(#vg58)" /><rect x="1250.40" y="492.60" width="409.80" height="1.80" fill="url(#sp59)"/><rect x="1250.40" y="498.10" width="409.80" height="1.80" fill="url(#sp60)"/><rect x="1250.40" y="579.80" width="409.80" height="1.80" fill="url(#sp61)"/><rect x="1250.40" y="544.10" width="409.80" height="1.80" fill="url(#sp62)"/><rect x="1250.40" y="611.10" width="409.80" height="1.80" fill="url(#sp63)"/><rect x="1294.40" y="574.00" width="35.10" height="23.00" fill="url(#vg64)" filter="url(#hb5)"/><rect x="1296.40" y="583.75" width="31.10" height="1.50" fill="#de190a" fill-opacity="0.90" /><rect x="1461.90" y="574.00" width="16.80" height="23.00" fill="url(#vg65)" filter="url(#hb5)"/><rect x="1463.90" y="583.75" width="12.80" height="1.50" fill="#de190a" fill-opacity="0.90" /><rect x="1628.00" y="574.00" width="12.70" height="23.00" fill="url(#vg66)" filter="url(#hb5)"/><rect x="1630.00" y="583.75" width="8.70" height="1.50" fill="#de190a" fill-opacity="0.90" /></g>
<line x1="1250.40" y1="427.10" x2="1660.20" y2="427.10" stroke="#555" stroke-width="1.00" stroke-opacity="0.8"/>
<line x1="1250.40" y1="743.60" x2="1250.40" y2="746.60" stroke="#222" stroke-width="0.80" stroke-opacity="0.45"/>
<line x1="1250.40" y1="426.80" x2="1250.40" y2="429.80" stroke="#222" stroke-width="0.80" stroke-opacity="0.45"/>
<line x1="1294.45" y1="743.60" x2="1294.45" y2="746.60" stroke="#222" stroke-width="0.80" stroke-opacity="0.45"/>
<line x1="1294.45" y1="426.80" x2="1294.45" y2="429.80" stroke="#222" stroke-width="0.80" stroke-opacity="0.45"/>
<line x1="1338.50" y1="743.60" x2="1338.50" y2="746.60" stroke="#222" stroke-width="0.80" stroke-opacity="0.45"/>
<line x1="1338.50" y1="426.80" x2="1338.50" y2="429.80" stroke="#222" stroke-width="0.80" stroke-opacity="0.45"/>
<line x1="1382.55" y1="743.60" x2="1382.55" y2="746.60" stroke="#222" stroke-width="0.80" stroke-opacity="0.45"/>
<line x1="1382.55" y1="426.80" x2="1382.55" y2="429.80" stroke="#222" stroke-width="0.80" stroke-opacity="0.45"/>
<line x1="1426.60" y1="743.60" x2="1426.60" y2="746.60" stroke="#222" stroke-width="0.80" stroke-opacity="0.45"/>
<line x1="1426.60" y1="426.80" x2="1426.60" y2="429.80" stroke="#222" stroke-width="0.80" stroke-opacity="0.45"/>
<line x1="1470.65" y1="743.60" x2="1470.65" y2="746.60" stroke="#222" stroke-width="0.80" stroke-opacity="0.45"/>
<line x1="1470.65" y1="426.80" x2="1470.65" y2="429.80" stroke="#222" stroke-width="0.80" stroke-opacity="0.45"/>
<line x1="1514.70" y1="743.60" x2="1514.70" y2="746.60" stroke="#222" stroke-width="0.80" stroke-opacity="0.45"/>
<line x1="1514.70" y1="426.80" x2="1514.70" y2="429.80" stroke="#222" stroke-width="0.80" stroke-opacity="0.45"/>
<line x1="1558.75" y1="743.60" x2="1558.75" y2="746.60" stroke="#222" stroke-width="0.80" stroke-opacity="0.45"/>
<line x1="1558.75" y1="426.80" x2="1558.75" y2="429.80" stroke="#222" stroke-width="0.80" stroke-opacity="0.45"/>
<line x1="1602.80" y1="743.60" x2="1602.80" y2="746.60" stroke="#222" stroke-width="0.80" stroke-opacity="0.45"/>
<line x1="1602.80" y1="426.80" x2="1602.80" y2="429.80" stroke="#222" stroke-width="0.80" stroke-opacity="0.45"/>
<line x1="1646.85" y1="743.60" x2="1646.85" y2="746.60" stroke="#222" stroke-width="0.80" stroke-opacity="0.45"/>
<line x1="1646.85" y1="426.80" x2="1646.85" y2="429.80" stroke="#222" stroke-width="0.80" stroke-opacity="0.45"/>
<line x1="1250.40" y1="428.40" x2="1253.40" y2="428.40" stroke="#222" stroke-width="0.80" stroke-opacity="0.45"/>
<line x1="1657.20" y1="428.40" x2="1660.20" y2="428.40" stroke="#222" stroke-width="0.80" stroke-opacity="0.45"/>
<line x1="1250.40" y1="488.48" x2="1253.40" y2="488.48" stroke="#222" stroke-width="0.80" stroke-opacity="0.45"/>
<line x1="1657.20" y1="488.48" x2="1660.20" y2="488.48" stroke="#222" stroke-width="0.80" stroke-opacity="0.45"/>
<line x1="1250.40" y1="548.56" x2="1253.40" y2="548.56" stroke="#222" stroke-width="0.80" stroke-opacity="0.45"/>
<line x1="1657.20" y1="548.56" x2="1660.20" y2="548.56" stroke="#222" stroke-width="0.80" stroke-opacity="0.45"/>
<line x1="1250.40" y1="608.64" x2="1253.40" y2="608.64" stroke="#222" stroke-width="0.80" stroke-opacity="0.45"/>
<line x1="1657.20" y1="608.64" x2="1660.20" y2="608.64" stroke="#222" stroke-width="0.80" stroke-opacity="0.45"/>
<line x1="1250.40" y1="668.72" x2="1253.40" y2="668.72" stroke="#222" stroke-width="0.80" stroke-opacity="0.45"/>
<line x1="1657.20" y1="668.72" x2="1660.20" y2="668.72" stroke="#222" stroke-width="0.80" stroke-opacity="0.45"/>
<line x1="1250.40" y1="728.80" x2="1253.40" y2="728.80" stroke="#222" stroke-width="0.80" stroke-opacity="0.45"/>
<line x1="1657.20" y1="728.80" x2="1660.20" y2="728.80" stroke="#222" stroke-width="0.80" stroke-opacity="0.45"/>
<text transform="translate(1245.60 440.20)" text-anchor="end" style="font-family:'Liberation Sans',Arial,sans-serif;font-size:29.00px;fill:#000" >0</text>
<text transform="translate(1245.60 500.28)" text-anchor="end" style="font-family:'Liberation Sans',Arial,sans-serif;font-size:29.00px;fill:#000" >200</text>
<text transform="translate(1245.60 560.36)" text-anchor="end" style="font-family:'Liberation Sans',Arial,sans-serif;font-size:29.00px;fill:#000" >400</text>
<text transform="translate(1245.60 620.44)" text-anchor="end" style="font-family:'Liberation Sans',Arial,sans-serif;font-size:29.00px;fill:#000" >600</text>
<text transform="translate(1245.60 680.52)" text-anchor="end" style="font-family:'Liberation Sans',Arial,sans-serif;font-size:29.00px;fill:#000" >800</text>
<text transform="translate(1245.60 740.60)" text-anchor="end" style="font-family:'Liberation Sans',Arial,sans-serif;font-size:29.00px;fill:#000" >1000</text>
<text transform="translate(1248.90 775.20) scale(0.800 1.000)" text-anchor="middle" style="font-family:'Liberation Sans',Arial,sans-serif;font-size:29.30px;fill:#000" >0</text>
<text transform="translate(1292.95 775.20) scale(0.800 1.000)" text-anchor="middle" style="font-family:'Liberation Sans',Arial,sans-serif;font-size:29.30px;fill:#000" >20</text>
<text transform="translate(1337.00 775.20) scale(0.800 1.000)" text-anchor="middle" style="font-family:'Liberation Sans',Arial,sans-serif;font-size:29.30px;fill:#000" >40</text>
<text transform="translate(1381.05 775.20) scale(0.800 1.000)" text-anchor="middle" style="font-family:'Liberation Sans',Arial,sans-serif;font-size:29.30px;fill:#000" >60</text>
<text transform="translate(1425.10 775.20) scale(0.800 1.000)" text-anchor="middle" style="font-family:'Liberation Sans',Arial,sans-serif;font-size:29.30px;fill:#000" >80</text>
<text transform="translate(1467.15 775.20) scale(0.800 1.000)" text-anchor="middle" style="font-family:'Liberation Sans',Arial,sans-serif;font-size:29.30px;fill:#000" >100</text>
<text transform="translate(1511.20 775.20) scale(0.800 1.000)" text-anchor="middle" style="font-family:'Liberation Sans',Arial,sans-serif;font-size:29.30px;fill:#000" >120</text>
<text transform="translate(1555.25 775.20) scale(0.800 1.000)" text-anchor="middle" style="font-family:'Liberation Sans',Arial,sans-serif;font-size:29.30px;fill:#000" >140</text>
<text transform="translate(1599.30 775.20) scale(0.800 1.000)" text-anchor="middle" style="font-family:'Liberation Sans',Arial,sans-serif;font-size:29.30px;fill:#000" >160</text>
<text transform="translate(1643.35 775.20) scale(0.800 1.000)" text-anchor="middle" style="font-family:'Liberation Sans',Arial,sans-serif;font-size:29.30px;fill:#000" >180</text>
<text transform="translate(1449.40 811.20)" text-anchor="middle" style="font-family:'Liberation Sans',Arial,sans-serif;font-size:28.50px;fill:#000" >Trace</text>
<text transform="translate(1182.40 590.50) rotate(-90)" text-anchor="middle" style="font-family:'Liberation Sans',Arial,sans-serif;font-size:29.00px;fill:#000" >Time (ms)</text>
<rect x="1672.60" y="426.80" width="16.80" height="320.00" fill="url(#vg67)" stroke="#888" stroke-width="0.8"/>
<line x1="1672.60" y1="429.80" x2="1675.10" y2="429.80" stroke="#333" stroke-width="0.90" stroke-opacity="0.55"/>
<line x1="1686.90" y1="429.80" x2="1689.40" y2="429.80" stroke="#333" stroke-width="0.90" stroke-opacity="0.55"/>
<line x1="1672.60" y1="455.10" x2="1675.10" y2="455.10" stroke="#333" stroke-width="0.90" stroke-opacity="0.55"/>
<line x1="1686.90" y1="455.10" x2="1689.40" y2="455.10" stroke="#333" stroke-width="0.90" stroke-opacity="0.55"/>
<line x1="1672.60" y1="480.40" x2="1675.10" y2="480.40" stroke="#333" stroke-width="0.90" stroke-opacity="0.55"/>
<line x1="1686.90" y1="480.40" x2="1689.40" y2="480.40" stroke="#333" stroke-width="0.90" stroke-opacity="0.55"/>
<line x1="1672.60" y1="505.70" x2="1675.10" y2="505.70" stroke="#333" stroke-width="0.90" stroke-opacity="0.55"/>
<line x1="1686.90" y1="505.70" x2="1689.40" y2="505.70" stroke="#333" stroke-width="0.90" stroke-opacity="0.55"/>
<line x1="1672.60" y1="531.00" x2="1675.10" y2="531.00" stroke="#333" stroke-width="0.90" stroke-opacity="0.55"/>
<line x1="1686.90" y1="531.00" x2="1689.40" y2="531.00" stroke="#333" stroke-width="0.90" stroke-opacity="0.55"/>
<line x1="1672.60" y1="556.30" x2="1675.10" y2="556.30" stroke="#333" stroke-width="0.90" stroke-opacity="0.55"/>
<line x1="1686.90" y1="556.30" x2="1689.40" y2="556.30" stroke="#333" stroke-width="0.90" stroke-opacity="0.55"/>
<line x1="1672.60" y1="581.60" x2="1675.10" y2="581.60" stroke="#333" stroke-width="0.90" stroke-opacity="0.55"/>
<line x1="1686.90" y1="581.60" x2="1689.40" y2="581.60" stroke="#333" stroke-width="0.90" stroke-opacity="0.55"/>
<line x1="1672.60" y1="606.90" x2="1675.10" y2="606.90" stroke="#333" stroke-width="0.90" stroke-opacity="0.55"/>
<line x1="1686.90" y1="606.90" x2="1689.40" y2="606.90" stroke="#333" stroke-width="0.90" stroke-opacity="0.55"/>
<line x1="1672.60" y1="632.20" x2="1675.10" y2="632.20" stroke="#333" stroke-width="0.90" stroke-opacity="0.55"/>
<line x1="1686.90" y1="632.20" x2="1689.40" y2="632.20" stroke="#333" stroke-width="0.90" stroke-opacity="0.55"/>
<line x1="1672.60" y1="657.50" x2="1675.10" y2="657.50" stroke="#333" stroke-width="0.90" stroke-opacity="0.55"/>
<line x1="1686.90" y1="657.50" x2="1689.40" y2="657.50" stroke="#333" stroke-width="0.90" stroke-opacity="0.55"/>
<line x1="1672.60" y1="682.80" x2="1675.10" y2="682.80" stroke="#333" stroke-width="0.90" stroke-opacity="0.55"/>
<line x1="1686.90" y1="682.80" x2="1689.40" y2="682.80" stroke="#333" stroke-width="0.90" stroke-opacity="0.55"/>
<line x1="1672.60" y1="708.10" x2="1675.10" y2="708.10" stroke="#333" stroke-width="0.90" stroke-opacity="0.55"/>
<line x1="1686.90" y1="708.10" x2="1689.40" y2="708.10" stroke="#333" stroke-width="0.90" stroke-opacity="0.55"/>
<line x1="1672.60" y1="733.40" x2="1675.10" y2="733.40" stroke="#333" stroke-width="0.90" stroke-opacity="0.55"/>
<line x1="1686.90" y1="733.40" x2="1689.40" y2="733.40" stroke="#333" stroke-width="0.90" stroke-opacity="0.55"/>
<text transform="translate(1700.00 439.95) scale(0.935 1.000)" text-anchor="start" style="font-family:'Liberation Sans',Arial,sans-serif;font-size:30.00px;fill:#000" >120</text>
<text transform="translate(1700.00 490.55) scale(0.935 1.000)" text-anchor="start" style="font-family:'Liberation Sans',Arial,sans-serif;font-size:30.00px;fill:#000" >100</text>
<text transform="translate(1700.00 541.15) scale(0.935 1.000)" text-anchor="start" style="font-family:'Liberation Sans',Arial,sans-serif;font-size:30.00px;fill:#000" >80</text>
<text transform="translate(1700.00 591.75) scale(0.935 1.000)" text-anchor="start" style="font-family:'Liberation Sans',Arial,sans-serif;font-size:30.00px;fill:#000" >60</text>
<text transform="translate(1700.00 642.35) scale(0.935 1.000)" text-anchor="start" style="font-family:'Liberation Sans',Arial,sans-serif;font-size:30.00px;fill:#000" >40</text>
<text transform="translate(1700.00 692.95) scale(0.935 1.000)" text-anchor="start" style="font-family:'Liberation Sans',Arial,sans-serif;font-size:30.00px;fill:#000" >20</text>
<text transform="translate(1700.00 743.55) scale(0.935 1.000)" text-anchor="start" style="font-family:'Liberation Sans',Arial,sans-serif;font-size:30.00px;fill:#000" >0</text>
<text transform="translate(1261.80 474.00)" text-anchor="start" style="font-family:'Liberation Sans',Arial,sans-serif;font-size:48.00px;fill:#fff" >(g)</text>
<text transform="translate(1320.00 473.60)" text-anchor="start" style="font-family:'Liberation Sans',Arial,sans-serif;font-size:31.50px;fill:#fff" >improved SST-25Hz</text>
<g clip-path="url(#hc68)"><rect x="1252.30" y="833.60" width="407.90" height="319.80" fill="#06008e"/><rect x="1252.30" y="833.60" width="407.90" height="319.80" fill="url(#vg69)" /><rect x="1252.30" y="835.90" width="407.90" height="1.80" fill="url(#sp70)"/><rect x="1252.30" y="862.90" width="407.90" height="1.80" fill="url(#sp71)"/><rect x="1252.30" y="905.00" width="407.90" height="1.80" fill="url(#sp72)"/><rect x="1252.30" y="926.30" width="407.90" height="1.80" fill="url(#sp73)"/><rect x="1252.30" y="936.30" width="407.90" height="1.80" fill="url(#sp74)"/><rect x="1252.30" y="940.90" width="407.90" height="1.80" fill="url(#sp75)"/><rect x="1252.30" y="951.80" width="407.90" height="1.80" fill="url(#sp76)"/><rect x="1252.30" y="954.60" width="407.90" height="1.80" fill="url(#sp77)"/><rect x="1252.30" y="964.30" width="407.90" height="1.80" fill="url(#sp78)"/><rect x="1252.30" y="969.50" width="407.90" height="1.80" fill="url(#sp79)"/><rect x="1252.30" y="1025.00" width="407.90" height="1.80" fill="url(#sp80)"/><rect x="1252.30" y="1068.10" width="407.90" height="1.80" fill="url(#sp81)"/><rect x="1252.30" y="1119.50" width="407.90" height="1.80" fill="url(#sp82)"/><rect x="1252.30" y="1127.60" width="407.90" height="1.80" fill="url(#sp83)"/><rect x="1252.30" y="840.00" width="407.90" height="300.00" fill="url(#sp84)"/><rect x="1303.00" y="979.70" width="29.80" height="1.60" fill="#9bf8bc" fill-opacity="0.90" /><rect x="1303.00" y="986.70" width="29.80" height="1.60" fill="#e1f646" fill-opacity="0.90" /><rect x="1303.00" y="1006.20" width="29.80" height="1.60" fill="#bef670" fill-opacity="0.90" /><rect x="1303.00" y="1008.90" width="29.80" height="1.60" fill="#9bf8bc" fill-opacity="0.90" /><rect x="1303.00" y="1102.90" width="29.80" height="1.60" fill="#bef670" fill-opacity="0.90" /><rect x="1467.50" y="979.70" width="11.50" height="1.60" fill="#9bf8bc" fill-opacity="0.90" /><rect x="1467.50" y="986.70" width="11.50" height="1.60" fill="#e1f646" fill-opacity="0.90" /><rect x="1467.50" y="1006.20" width="11.50" height="1.60" fill="#bef670" fill-opacity="0.90" /><rect x="1467.50" y="1008.90" width="11.50" height="1.60" fill="#9bf8bc" fill-opacity="0.90" /><rect x="1467.50" y="1102.90" width="11.50" height="1.60" fill="#bef670" fill-opacity="0.90" /><rect x="1632.00" y="979.70" width="10.00" height="1.60" fill="#9bf8bc" fill-opacity="0.90" /><rect x="1632.00" y="986.70" width="10.00" height="1.60" fill="#e1f646" fill-opacity="0.90" /><rect x="1632.00" y="1006.20" width="10.00" height="1.60" fill="#bef670" fill-opacity="0.90" /><rect x="1632.00" y="1008.90" width="10.00" height="1.60" fill="#9bf8bc" fill-opacity="0.90" /><rect x="1632.00" y="1102.90" width="10.00" height="1.60" fill="#bef670" fill-opacity="0.90" /></g>
<line x1="1252.30" y1="833.90" x2="1660.20" y2="833.90" stroke="#555" stroke-width="1.00" stroke-opacity="0.8"/>
<line x1="1252.30" y1="1150.40" x2="1252.30" y2="1153.40" stroke="#222" stroke-width="0.80" stroke-opacity="0.45"/>
<line x1="1252.30" y1="833.60" x2="1252.30" y2="836.60" stroke="#222" stroke-width="0.80" stroke-opacity="0.45"/>
<line x1="1296.35" y1="1150.40" x2="1296.35" y2="1153.40" stroke="#222" stroke-width="0.80" stroke-opacity="0.45"/>
<line x1="1296.35" y1="833.60" x2="1296.35" y2="836.60" stroke="#222" stroke-width="0.80" stroke-opacity="0.45"/>
<line x1="1340.40" y1="1150.40" x2="1340.40" y2="1153.40" stroke="#222" stroke-width="0.80" stroke-opacity="0.45"/>
<line x1="1340.40" y1="833.60" x2="1340.40" y2="836.60" stroke="#222" stroke-width="0.80" stroke-opacity="0.45"/>
<line x1="1384.45" y1="1150.40" x2="1384.45" y2="1153.40" stroke="#222" stroke-width="0.80" stroke-opacity="0.45"/>
<line x1="1384.45" y1="833.60" x2="1384.45" y2="836.60" stroke="#222" stroke-width="0.80" stroke-opacity="0.45"/>
<line x1="1428.50" y1="1150.40" x2="1428.50" y2="1153.40" stroke="#222" stroke-width="0.80" stroke-opacity="0.45"/>
<line x1="1428.50" y1="833.60" x2="1428.50" y2="836.60" stroke="#222" stroke-width="0.80" stroke-opacity="0.45"/>
<line x1="1472.55" y1="1150.40" x2="1472.55" y2="1153.40" stroke="#222" stroke-width="0.80" stroke-opacity="0.45"/>
<line x1="1472.55" y1="833.60" x2="1472.55" y2="836.60" stroke="#222" stroke-width="0.80" stroke-opacity="0.45"/>
<line x1="1516.60" y1="1150.40" x2="1516.60" y2="1153.40" stroke="#222" stroke-width="0.80" stroke-opacity="0.45"/>
<line x1="1516.60" y1="833.60" x2="1516.60" y2="836.60" stroke="#222" stroke-width="0.80" stroke-opacity="0.45"/>
<line x1="1560.65" y1="1150.40" x2="1560.65" y2="1153.40" stroke="#222" stroke-width="0.80" stroke-opacity="0.45"/>
<line x1="1560.65" y1="833.60" x2="1560.65" y2="836.60" stroke="#222" stroke-width="0.80" stroke-opacity="0.45"/>
<line x1="1604.70" y1="1150.40" x2="1604.70" y2="1153.40" stroke="#222" stroke-width="0.80" stroke-opacity="0.45"/>
<line x1="1604.70" y1="833.60" x2="1604.70" y2="836.60" stroke="#222" stroke-width="0.80" stroke-opacity="0.45"/>
<line x1="1648.75" y1="1150.40" x2="1648.75" y2="1153.40" stroke="#222" stroke-width="0.80" stroke-opacity="0.45"/>
<line x1="1648.75" y1="833.60" x2="1648.75" y2="836.60" stroke="#222" stroke-width="0.80" stroke-opacity="0.45"/>
<line x1="1252.30" y1="835.00" x2="1255.30" y2="835.00" stroke="#222" stroke-width="0.80" stroke-opacity="0.45"/>
<line x1="1657.20" y1="835.00" x2="1660.20" y2="835.00" stroke="#222" stroke-width="0.80" stroke-opacity="0.45"/>
<line x1="1252.30" y1="895.08" x2="1255.30" y2="895.08" stroke="#222" stroke-width="0.80" stroke-opacity="0.45"/>
<line x1="1657.20" y1="895.08" x2="1660.20" y2="895.08" stroke="#222" stroke-width="0.80" stroke-opacity="0.45"/>
<line x1="1252.30" y1="955.16" x2="1255.30" y2="955.16" stroke="#222" stroke-width="0.80" stroke-opacity="0.45"/>
<line x1="1657.20" y1="955.16" x2="1660.20" y2="955.16" stroke="#222" stroke-width="0.80" stroke-opacity="0.45"/>
<line x1="1252.30" y1="1015.24" x2="1255.30" y2="1015.24" stroke="#222" stroke-width="0.80" stroke-opacity="0.45"/>
<line x1="1657.20" y1="1015.24" x2="1660.20" y2="1015.24" stroke="#222" stroke-width="0.80" stroke-opacity="0.45"/>
<line x1="1252.30" y1="1075.32" x2="1255.30" y2="1075.32" stroke="#222" stroke-width="0.80" stroke-opacity="0.45"/>
<line x1="1657.20" y1="1075.32" x2="1660.20" y2="1075.32" stroke="#222" stroke-width="0.80" stroke-opacity="0.45"/>
<line x1="1252.30" y1="1135.40" x2="1255.30" y2="1135.40" stroke="#222" stroke-width="0.80" stroke-opacity="0.45"/>
<line x1="1657.20" y1="1135.40" x2="1660.20" y2="1135.40" stroke="#222" stroke-width="0.80" stroke-opacity="0.45"/>
<text transform="translate(1247.50 846.80)" text-anchor="end" style="font-family:'Liberation Sans',Arial,sans-serif;font-size:29.00px;fill:#000" >0</text>
<text transform="translate(1247.50 906.88)" text-anchor="end" style="font-family:'Liberation Sans',Arial,sans-serif;font-size:29.00px;fill:#000" >200</text>
<text transform="translate(1247.50 966.96)" text-anchor="end" style="font-family:'Liberation Sans',Arial,sans-serif;font-size:29.00px;fill:#000" >400</text>
<text transform="translate(1247.50 1027.04)" text-anchor="end" style="font-family:'Liberation Sans',Arial,sans-serif;font-size:29.00px;fill:#000" >600</text>
<text transform="translate(1247.50 1087.12)" text-anchor="end" style="font-family:'Liberation Sans',Arial,sans-serif;font-size:29.00px;fill:#000" >800</text>
<text transform="translate(1247.50 1147.20)" text-anchor="end" style="font-family:'Liberation Sans',Arial,sans-serif;font-size:29.00px;fill:#000" >1000</text>
<text transform="translate(1250.80 1181.80) scale(0.800 1.000)" text-anchor="middle" style="font-family:'Liberation Sans',Arial,sans-serif;font-size:29.30px;fill:#000" >0</text>
<text transform="translate(1294.85 1181.80) scale(0.800 1.000)" text-anchor="middle" style="font-family:'Liberation Sans',Arial,sans-serif;font-size:29.30px;fill:#000" >20</text>
<text transform="translate(1338.90 1181.80) scale(0.800 1.000)" text-anchor="middle" style="font-family:'Liberation Sans',Arial,sans-serif;font-size:29.30px;fill:#000" >40</text>
<text transform="translate(1382.95 1181.80) scale(0.800 1.000)" text-anchor="middle" style="font-family:'Liberation Sans',Arial,sans-serif;font-size:29.30px;fill:#000" >60</text>
<text transform="translate(1427.00 1181.80) scale(0.800 1.000)" text-anchor="middle" style="font-family:'Liberation Sans',Arial,sans-serif;font-size:29.30px;fill:#000" >80</text>
<text transform="translate(1469.05 1181.80) scale(0.800 1.000)" text-anchor="middle" style="font-family:'Liberation Sans',Arial,sans-serif;font-size:29.30px;fill:#000" >100</text>
<text transform="translate(1513.10 1181.80) scale(0.800 1.000)" text-anchor="middle" style="font-family:'Liberation Sans',Arial,sans-serif;font-size:29.30px;fill:#000" >120</text>
<text transform="translate(1557.15 1181.80) scale(0.800 1.000)" text-anchor="middle" style="font-family:'Liberation Sans',Arial,sans-serif;font-size:29.30px;fill:#000" >140</text>
<text transform="translate(1601.20 1181.80) scale(0.800 1.000)" text-anchor="middle" style="font-family:'Liberation Sans',Arial,sans-serif;font-size:29.30px;fill:#000" >160</text>
<text transform="translate(1645.25 1181.80) scale(0.800 1.000)" text-anchor="middle" style="font-family:'Liberation Sans',Arial,sans-serif;font-size:29.30px;fill:#000" >180</text>
<text transform="translate(1451.30 1218.20)" text-anchor="middle" style="font-family:'Liberation Sans',Arial,sans-serif;font-size:28.50px;fill:#000" >Trace</text>
<text transform="translate(1184.30 997.30) rotate(-90)" text-anchor="middle" style="font-family:'Liberation Sans',Arial,sans-serif;font-size:29.00px;fill:#000" >Time (ms)</text>
<rect x="1674.00" y="833.60" width="16.20" height="319.90" fill="url(#vg85)" stroke="#888" stroke-width="0.8"/>
<line x1="1674.00" y1="838.50" x2="1676.50" y2="838.50" stroke="#333" stroke-width="0.90" stroke-opacity="0.55"/>
<line x1="1687.70" y1="838.50" x2="1690.20" y2="838.50" stroke="#333" stroke-width="0.90" stroke-opacity="0.55"/>
<line x1="1674.00" y1="853.56" x2="1676.50" y2="853.56" stroke="#333" stroke-width="0.90" stroke-opacity="0.55"/>
<line x1="1687.70" y1="853.56" x2="1690.20" y2="853.56" stroke="#333" stroke-width="0.90" stroke-opacity="0.55"/>
<line x1="1674.00" y1="868.62" x2="1676.50" y2="868.62" stroke="#333" stroke-width="0.90" stroke-opacity="0.55"/>
<line x1="1687.70" y1="868.62" x2="1690.20" y2="868.62" stroke="#333" stroke-width="0.90" stroke-opacity="0.55"/>
<line x1="1674.00" y1="883.68" x2="1676.50" y2="883.68" stroke="#333" stroke-width="0.90" stroke-opacity="0.55"/>
<line x1="1687.70" y1="883.68" x2="1690.20" y2="883.68" stroke="#333" stroke-width="0.90" stroke-opacity="0.55"/>
<line x1="1674.00" y1="898.74" x2="1676.50" y2="898.74" stroke="#333" stroke-width="0.90" stroke-opacity="0.55"/>
<line x1="1687.70" y1="898.74" x2="1690.20" y2="898.74" stroke="#333" stroke-width="0.90" stroke-opacity="0.55"/>
<line x1="1674.00" y1="913.80" x2="1676.50" y2="913.80" stroke="#333" stroke-width="0.90" stroke-opacity="0.55"/>
<line x1="1687.70" y1="913.80" x2="1690.20" y2="913.80" stroke="#333" stroke-width="0.90" stroke-opacity="0.55"/>
<line x1="1674.00" y1="928.86" x2="1676.50" y2="928.86" stroke="#333" stroke-width="0.90" stroke-opacity="0.55"/>
<line x1="1687.70" y1="928.86" x2="1690.20" y2="928.86" stroke="#333" stroke-width="0.90" stroke-opacity="0.55"/>
<line x1="1674.00" y1="943.92" x2="1676.50" y2="943.92" stroke="#333" stroke-width="0.90" stroke-opacity="0.55"/>
<line x1="1687.70" y1="943.92" x2="1690.20" y2="943.92" stroke="#333" stroke-width="0.90" stroke-opacity="0.55"/>
<line x1="1674.00" y1="958.98" x2="1676.50" y2="958.98" stroke="#333" stroke-width="0.90" stroke-opacity="0.55"/>
<line x1="1687.70" y1="958.98" x2="1690.20" y2="958.98" stroke="#333" stroke-width="0.90" stroke-opacity="0.55"/>
<line x1="1674.00" y1="974.04" x2="1676.50" y2="974.04" stroke="#333" stroke-width="0.90" stroke-opacity="0.55"/>
<line x1="1687.70" y1="974.04" x2="1690.20" y2="974.04" stroke="#333" stroke-width="0.90" stroke-opacity="0.55"/>
<line x1="1674.00" y1="989.10" x2="1676.50" y2="989.10" stroke="#333" stroke-width="0.90" stroke-opacity="0.55"/>
<line x1="1687.70" y1="989.10" x2="1690.20" y2="989.10" stroke="#333" stroke-width="0.90" stroke-opacity="0.55"/>
<line x1="1674.00" y1="1004.16" x2="1676.50" y2="1004.16" stroke="#333" stroke-width="0.90" stroke-opacity="0.55"/>
<line x1="1687.70" y1="1004.16" x2="1690.20" y2="1004.16" stroke="#333" stroke-width="0.90" stroke-opacity="0.55"/>
<line x1="1674.00" y1="1019.22" x2="1676.50" y2="1019.22" stroke="#333" stroke-width="0.90" stroke-opacity="0.55"/>
<line x1="1687.70" y1="1019.22" x2="1690.20" y2="1019.22" stroke="#333" stroke-width="0.90" stroke-opacity="0.55"/>
<line x1="1674.00" y1="1034.28" x2="1676.50" y2="1034.28" stroke="#333" stroke-width="0.90" stroke-opacity="0.55"/>
<line x1="1687.70" y1="1034.28" x2="1690.20" y2="1034.28" stroke="#333" stroke-width="0.90" stroke-opacity="0.55"/>
<line x1="1674.00" y1="1049.34" x2="1676.50" y2="1049.34" stroke="#333" stroke-width="0.90" stroke-opacity="0.55"/>
<line x1="1687.70" y1="1049.34" x2="1690.20" y2="1049.34" stroke="#333" stroke-width="0.90" stroke-opacity="0.55"/>
<line x1="1674.00" y1="1064.40" x2="1676.50" y2="1064.40" stroke="#333" stroke-width="0.90" stroke-opacity="0.55"/>
<line x1="1687.70" y1="1064.40" x2="1690.20" y2="1064.40" stroke="#333" stroke-width="0.90" stroke-opacity="0.55"/>
<line x1="1674.00" y1="1079.46" x2="1676.50" y2="1079.46" stroke="#333" stroke-width="0.90" stroke-opacity="0.55"/>
<line x1="1687.70" y1="1079.46" x2="1690.20" y2="1079.46" stroke="#333" stroke-width="0.90" stroke-opacity="0.55"/>
<line x1="1674.00" y1="1094.52" x2="1676.50" y2="1094.52" stroke="#333" stroke-width="0.90" stroke-opacity="0.55"/>
<line x1="1687.70" y1="1094.52" x2="1690.20" y2="1094.52" stroke="#333" stroke-width="0.90" stroke-opacity="0.55"/>
<line x1="1674.00" y1="1109.58" x2="1676.50" y2="1109.58" stroke="#333" stroke-width="0.90" stroke-opacity="0.55"/>
<line x1="1687.70" y1="1109.58" x2="1690.20" y2="1109.58" stroke="#333" stroke-width="0.90" stroke-opacity="0.55"/>
<line x1="1674.00" y1="1124.64" x2="1676.50" y2="1124.64" stroke="#333" stroke-width="0.90" stroke-opacity="0.55"/>
<line x1="1687.70" y1="1124.64" x2="1690.20" y2="1124.64" stroke="#333" stroke-width="0.90" stroke-opacity="0.55"/>
<line x1="1674.00" y1="1139.70" x2="1676.50" y2="1139.70" stroke="#333" stroke-width="0.90" stroke-opacity="0.55"/>
<line x1="1687.70" y1="1139.70" x2="1690.20" y2="1139.70" stroke="#333" stroke-width="0.90" stroke-opacity="0.55"/>
<text transform="translate(1700.00 849.15) scale(0.935 1.000)" text-anchor="start" style="font-family:'Liberation Sans',Arial,sans-serif;font-size:30.00px;fill:#000" >20</text>
<text transform="translate(1700.00 924.45) scale(0.935 1.000)" text-anchor="start" style="font-family:'Liberation Sans',Arial,sans-serif;font-size:30.00px;fill:#000" >15</text>
<text transform="translate(1700.00 999.75) scale(0.935 1.000)" text-anchor="start" style="font-family:'Liberation Sans',Arial,sans-serif;font-size:30.00px;fill:#000" >10</text>
<text transform="translate(1700.00 1075.05) scale(0.935 1.000)" text-anchor="start" style="font-family:'Liberation Sans',Arial,sans-serif;font-size:30.00px;fill:#000" >5</text>
<text transform="translate(1700.00 1150.35) scale(0.935 1.000)" text-anchor="start" style="font-family:'Liberation Sans',Arial,sans-serif;font-size:30.00px;fill:#000" >0</text>
<text transform="translate(1261.80 880.00)" text-anchor="start" style="font-family:'Liberation Sans',Arial,sans-serif;font-size:48.00px;fill:#fff" >(h)</text>
<text transform="translate(1320.00 876.00)" text-anchor="start" style="font-family:'Liberation Sans',Arial,sans-serif;font-size:31.50px;fill:#fff" >improved SST-35Hz</text>
</svg>
</body></html>
